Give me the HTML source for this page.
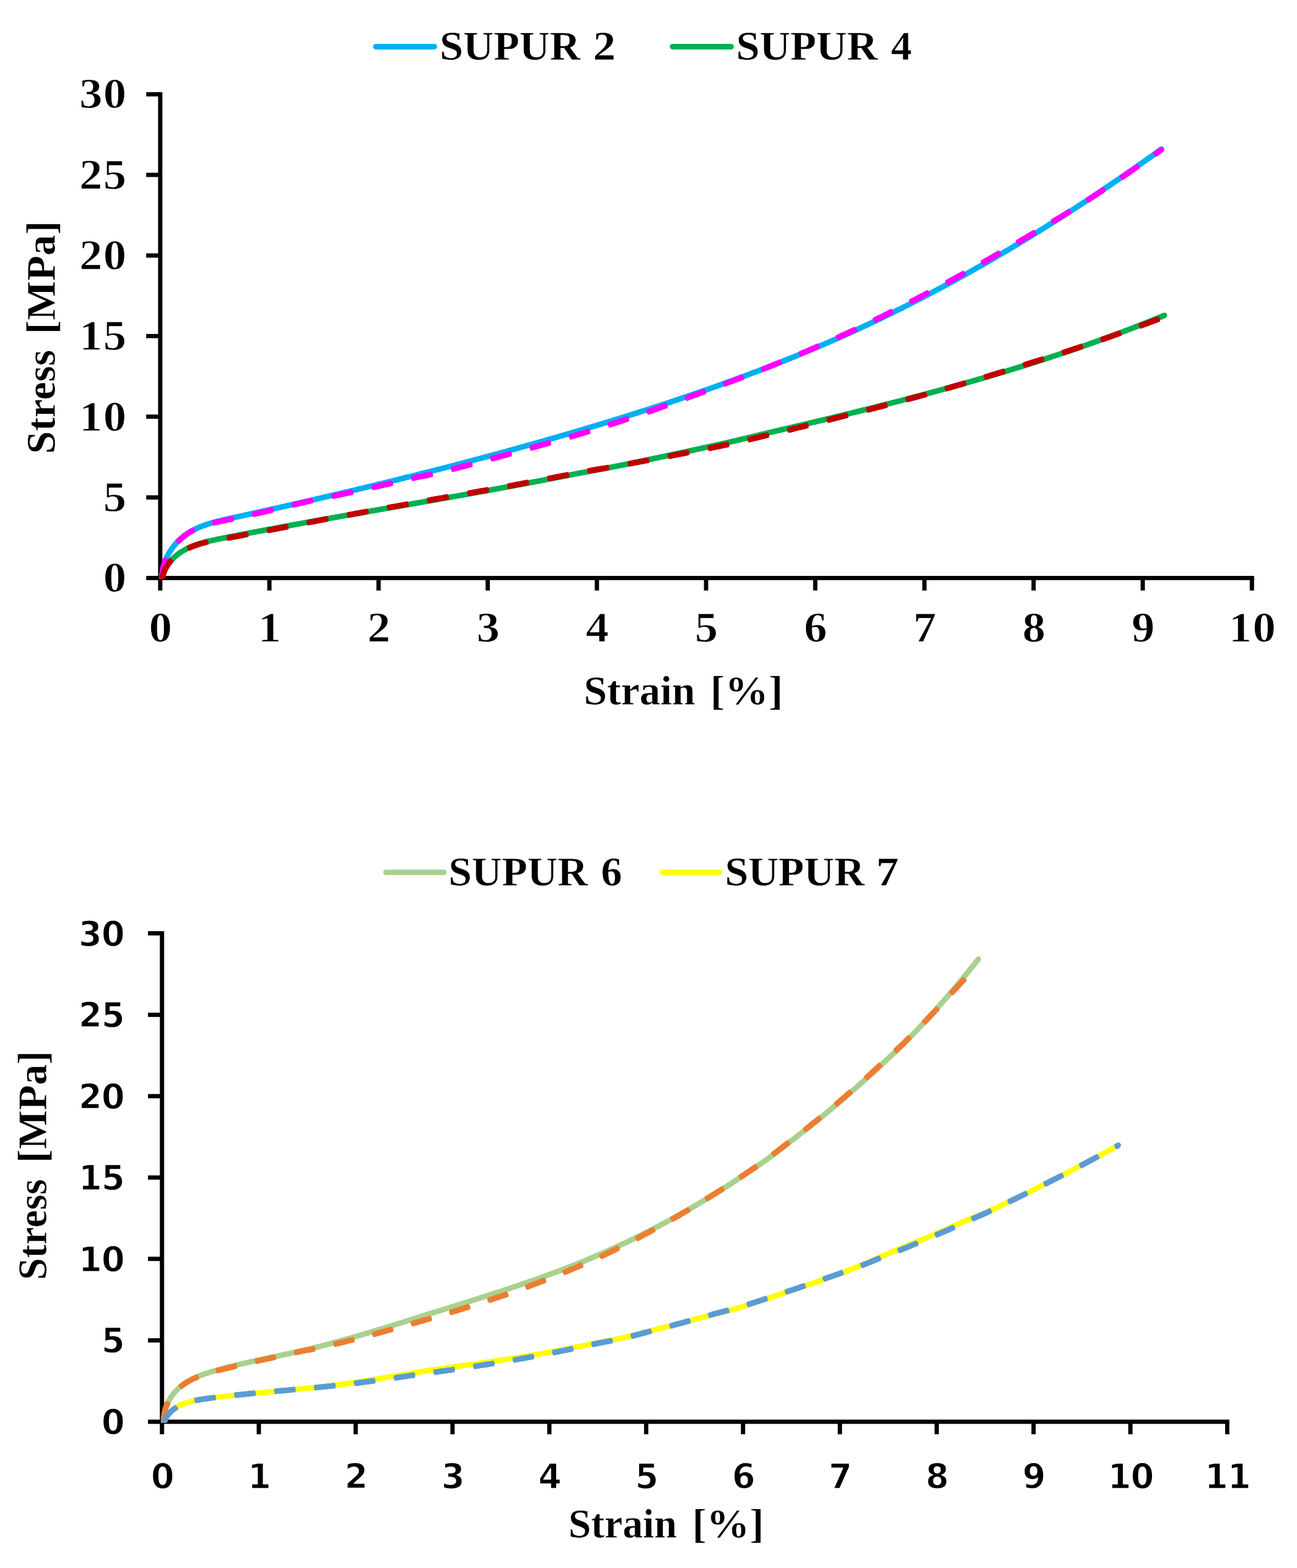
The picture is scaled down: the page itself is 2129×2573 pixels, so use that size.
<!DOCTYPE html>
<html lang="en">
<head>
<meta charset="utf-8">
<title>Stress–strain curves: SUPUR 2, 4, 6 and 7</title>
<style>
html,body{margin:0;padding:0;background:#fff;}
body{width:2129px;height:2573px;overflow:hidden;}
svg{display:block;}
text{fill:#000;}
</style>
</head>
<body>
<svg xmlns="http://www.w3.org/2000/svg" width="2129" height="2573" viewBox="0 0 2129 2573" role="img" aria-label="Stress versus strain charts">
<rect width="2129" height="2573" fill="#fff"/>
<g id="chart-top">
<path d="M617,76.6 H713" stroke="#00B0F0" stroke-width="9.2" stroke-linecap="round"/>
<text transform="translate(0,97.80)" font-family="'Liberation Serif','DejaVu Serif',serif" font-weight="bold" font-size="68" stroke="#fff" stroke-width="0.5" stroke-linejoin="round"><tspan x="721.81" textLength="230.83" lengthAdjust="spacingAndGlyphs">SUPUR</tspan> <tspan x="973.46" textLength="37.09" lengthAdjust="spacingAndGlyphs">2</tspan></text>
<path d="M1104,76.6 H1200" stroke="#00B050" stroke-width="9.2" stroke-linecap="round"/>
<text transform="translate(0,97.80)" font-family="'Liberation Serif','DejaVu Serif',serif" font-weight="bold" font-size="68" stroke="#fff" stroke-width="0.5" stroke-linejoin="round"><tspan x="1208.21" textLength="232.28" lengthAdjust="spacingAndGlyphs">SUPUR</tspan> <tspan x="1462.61" textLength="34.22" lengthAdjust="spacingAndGlyphs">4</tspan></text>
<path d="M263.00,151.30 V968.90 M240.00,948.40 H2058.50" stroke="#000" stroke-width="7.0" fill="none"/>
<path d="M442.20,948.40 V968.90 M621.40,948.40 V968.90 M800.60,948.40 V968.90 M979.80,948.40 V968.90 M1159.00,948.40 V968.90 M1338.20,948.40 V968.90 M1517.40,948.40 V968.90 M1696.60,948.40 V968.90 M1875.80,948.40 V968.90 M2055.00,948.40 V968.90 M240.00,816.13 H263.00 M240.00,683.87 H263.00 M240.00,551.60 H263.00 M240.00,419.33 H263.00 M240.00,287.07 H263.00 M240.00,154.80 H263.00" stroke="#000" stroke-width="7.0" fill="none"/>
<clipPath id="clipT"><rect x="0" y="0" width="2129" height="950.0"/></clipPath>
<g clip-path="url(#clipT)">
<path d="M265.9,952.5 L265.8,950.4 L265.9,948.3 L265.9,946.2 L266.0,944.1 L266.2,942.1 L266.4,940.0 L266.7,938.0 L267.0,936.0 L267.3,934.0 L267.7,932.0 L268.2,930.1 L268.7,928.1 L269.3,926.2 L269.9,924.3 L270.5,922.4 L271.2,920.5 L271.9,918.7 L272.7,916.9 L273.5,915.1 L274.4,913.3 L275.2,911.5 L276.2,909.8 L277.1,908.0 L278.2,906.3 L279.2,904.7 L280.3,903.0 L281.4,901.4 L282.5,899.8 L283.7,898.2 L284.9,896.6 L286.2,895.1 L287.5,893.6 L288.8,892.1 L290.1,890.6 L291.5,889.2 L292.9,887.8 L294.3,886.4 L295.8,885.1 L297.2,883.8 L298.7,882.5 L300.3,881.2 L301.8,880.0 L303.4,878.8 L305.0,877.6 L306.6,876.4 L308.2,875.3 L309.9,874.3 L311.5,873.2 L313.2,872.2 L314.9,871.2 L316.6,870.3 L318.4,869.3 L320.1,868.4 L321.9,867.6 L323.7,866.7 L325.5,865.9 L327.3,865.1 L329.1,864.4 L331.0,863.7 L332.8,862.9 L334.7,862.2 L336.5,861.6 L338.4,860.9 L340.3,860.3 L342.2,859.7 L344.1,859.1 L346.0,858.5 L348.0,858.0 L349.9,857.4 L351.8,856.9 L353.8,856.3 L355.7,855.8 L357.7,855.3 L359.6,854.9 L361.6,854.4 L363.6,853.9 L365.6,853.4 L367.5,853.0 L369.5,852.5 L371.5,852.1 L373.5,851.7 L375.4,851.2 L377.4,850.8 L379.4,850.3 L381.4,849.9 L383.4,849.5 L385.3,849.0 L387.3,848.6 L389.3,848.2 L391.3,847.7 L393.2,847.3 L395.2,846.9 L397.2,846.4 L399.1,846.0 L401.1,845.6 L403.1,845.1 L405.1,844.7 L407.0,844.3 L409.0,843.8 L410.9,843.4 L412.9,843.0 L414.9,842.5 L416.8,842.1 L418.8,841.7 L420.8,841.2 L422.7,840.8 L424.7,840.3 L426.6,839.9 L428.6,839.5 L430.5,839.0 L432.5,838.6 L434.5,838.2 L436.4,837.7 L438.4,837.3 L440.3,836.9 L442.3,836.4 L444.2,836.0 L446.2,835.5 L448.1,835.1 L450.1,834.7 L452.0,834.2 L454.0,833.8 L455.9,833.4 L457.9,832.9 L459.8,832.5 L461.8,832.0 L463.7,831.6 L465.7,831.2 L467.6,830.7 L469.6,830.3 L471.5,829.8 L473.4,829.4 L475.4,829.0 L477.3,828.5 L479.3,828.1 L481.2,827.6 L483.2,827.2 L485.1,826.7 L487.1,826.3 L489.0,825.9 L490.9,825.4 L492.9,825.0 L494.8,824.5 L496.8,824.1 L498.7,823.6 L500.7,823.2 L502.6,822.7 L504.6,822.3 L506.5,821.9 L508.4,821.4 L510.4,821.0 L512.3,820.5 L514.3,820.1 L516.2,819.6 L518.2,819.2 L520.1,818.7 L522.0,818.3 L524.0,817.8 L525.9,817.4 L527.9,816.9 L529.8,816.5 L531.8,816.0 L533.7,815.6 L535.7,815.1 L537.6,814.7 L539.5,814.2 L541.5,813.8 L543.4,813.3 L545.4,812.8 L547.3,812.4 L549.3,811.9 L551.2,811.5 L553.1,811.0 L555.1,810.6 L557.0,810.1 L559.0,809.7 L560.9,809.2 L562.9,808.7 L564.8,808.3 L566.7,807.8 L568.7,807.4 L570.6,806.9 L572.6,806.4 L574.5,806.0 L576.5,805.5 L578.4,805.1 L580.3,804.6 L582.3,804.1 L584.2,803.7 L586.2,803.2 L588.1,802.7 L590.1,802.3 L592.0,801.8 L593.9,801.3 L595.9,800.9 L597.8,800.4 L599.8,799.9 L601.7,799.5 L603.7,799.0 L605.6,798.5 L607.5,798.1 L609.5,797.6 L611.4,797.1 L613.4,796.7 L615.3,796.2 L617.3,795.7 L619.2,795.3 L621.1,794.8 L623.1,794.3 L625.0,793.8 L627.0,793.4 L628.9,792.9 L630.8,792.4 L632.8,791.9 L634.7,791.5 L636.7,791.0 L638.6,790.5 L640.6,790.0 L642.5,789.6 L644.4,789.1 L646.4,788.6 L648.3,788.1 L650.3,787.7 L652.2,787.2 L654.1,786.7 L656.1,786.2 L658.0,785.7 L660.0,785.3 L661.9,784.8 L663.8,784.3 L665.8,783.8 L667.7,783.3 L669.7,782.8 L671.6,782.4 L673.5,781.9 L675.5,781.4 L677.4,780.9 L679.4,780.4 L681.3,779.9 L683.2,779.5 L685.2,779.0 L687.1,778.5 L689.1,778.0 L691.0,777.5 L692.9,777.0 L694.9,776.5 L696.8,776.0 L698.8,775.5 L700.7,775.0 L702.6,774.6 L704.6,774.1 L706.5,773.6 L708.5,773.1 L710.4,772.6 L712.3,772.1 L714.3,771.6 L716.2,771.1 L718.1,770.6 L720.1,770.1 L722.0,769.6 L724.0,769.1 L725.9,768.6 L727.8,768.1 L729.8,767.6 L731.7,767.1 L733.6,766.6 L735.6,766.1 L737.5,765.6 L739.5,765.1 L741.4,764.6 L743.3,764.1 L745.3,763.6 L747.2,763.1 L749.1,762.6 L751.1,762.1 L753.0,761.6 L754.9,761.1 L756.9,760.6 L758.8,760.1 L760.8,759.6 L762.7,759.0 L764.6,758.5 L766.6,758.0 L768.5,757.5 L770.4,757.0 L772.4,756.5 L774.3,756.0 L776.2,755.5 L778.2,755.0 L780.1,754.4 L782.0,753.9 L784.0,753.4 L785.9,752.9 L787.8,752.4 L789.8,751.9 L791.7,751.4 L793.6,750.8 L795.6,750.3 L797.5,749.8 L799.4,749.3 L801.4,748.8 L803.3,748.2 L805.2,747.7 L807.2,747.2 L809.1,746.7 L811.0,746.1 L813.0,745.6 L814.9,745.1 L816.8,744.6 L818.8,744.1 L820.7,743.5 L822.6,743.0 L824.6,742.5 L826.5,741.9 L828.4,741.4 L830.4,740.9 L832.3,740.4 L834.2,739.8 L836.1,739.3 L838.1,738.8 L840.0,738.2 L841.9,737.7 L843.9,737.2 L845.8,736.6 L847.7,736.1 L849.7,735.6 L851.6,735.0 L853.5,734.5 L855.4,734.0 L857.4,733.4 L859.3,732.9 L861.2,732.3 L863.2,731.8 L865.1,731.3 L867.0,730.7 L868.9,730.2 L870.9,729.6 L872.8,729.1 L874.7,728.6 L876.6,728.0 L878.6,727.5 L880.5,726.9 L882.4,726.4 L884.4,725.8 L886.3,725.3 L888.2,724.7 L890.1,724.2 L892.1,723.6 L894.0,723.1 L895.9,722.5 L897.8,722.0 L899.8,721.4 L901.7,720.9 L903.6,720.3 L905.5,719.8 L907.5,719.2 L909.4,718.7 L911.3,718.1 L913.2,717.6 L915.2,717.0 L917.1,716.5 L919.0,715.9 L920.9,715.3 L922.8,714.8 L924.8,714.2 L926.7,713.7 L928.6,713.1 L930.5,712.5 L932.5,712.0 L934.4,711.4 L936.3,710.9 L938.2,710.3 L940.1,709.7 L942.1,709.2 L944.0,708.6 L945.9,708.0 L947.8,707.5 L949.7,706.9 L951.7,706.3 L953.6,705.7 L955.5,705.2 L957.4,704.6 L959.3,704.0 L961.3,703.5 L963.2,702.9 L965.1,702.3 L967.0,701.7 L968.9,701.2 L970.9,700.6 L972.8,700.0 L974.7,699.4 L976.6,698.9 L978.5,698.3 L980.4,697.7 L982.4,697.1 L984.3,696.5 L986.2,696.0 L988.1,695.4 L990.0,694.8 L991.9,694.2 L993.9,693.6 L995.8,693.0 L997.7,692.5 L999.6,691.9 L1001.5,691.3 L1003.4,690.7 L1005.3,690.1 L1007.3,689.5 L1009.2,688.9 L1011.1,688.3 L1013.0,687.7 L1014.9,687.1 L1016.8,686.6 L1018.7,686.0 L1020.7,685.4 L1022.6,684.8 L1024.5,684.2 L1026.4,683.6 L1028.3,683.0 L1030.2,682.4 L1032.1,681.8 L1034.0,681.2 L1035.9,680.6 L1037.9,680.0 L1039.8,679.4 L1041.7,678.8 L1043.6,678.2 L1045.5,677.6 L1047.4,677.0 L1049.3,676.4 L1051.2,675.7 L1053.1,675.1 L1055.0,674.5 L1056.9,673.9 L1058.8,673.3 L1060.7,672.7 L1062.7,672.1 L1064.6,671.5 L1066.5,670.9 L1068.4,670.2 L1070.3,669.6 L1072.2,669.0 L1074.1,668.4 L1076.0,667.8 L1077.9,667.2 L1079.8,666.5 L1081.7,665.9 L1083.6,665.3 L1085.5,664.7 L1087.4,664.0 L1089.3,663.4 L1091.2,662.8 L1093.1,662.2 L1095.0,661.5 L1096.9,660.9 L1098.8,660.3 L1100.7,659.7 L1102.6,659.0 L1104.5,658.4 L1106.4,657.8 L1108.3,657.1 L1110.2,656.5 L1112.1,655.9 L1114.0,655.2 L1115.9,654.6 L1117.8,653.9 L1119.7,653.3 L1121.6,652.7 L1123.5,652.0 L1125.4,651.4 L1127.3,650.7 L1129.2,650.1 L1131.1,649.4 L1133.0,648.8 L1134.9,648.2 L1136.8,647.5 L1138.7,646.9 L1140.5,646.2 L1142.4,645.6 L1144.3,644.9 L1146.2,644.3 L1148.1,643.6 L1150.0,642.9 L1151.9,642.3 L1153.8,641.6 L1155.7,641.0 L1157.6,640.3 L1159.5,639.7 L1161.3,639.0 L1163.2,638.3 L1165.1,637.7 L1167.0,637.0 L1168.9,636.3 L1170.8,635.7 L1172.7,635.0 L1174.5,634.3 L1176.4,633.7 L1178.3,633.0 L1180.2,632.3 L1182.1,631.6 L1184.0,631.0 L1185.9,630.3 L1187.7,629.6 L1189.6,628.9 L1191.5,628.3 L1193.4,627.6 L1195.3,626.9 L1197.1,626.2 L1199.0,625.5 L1200.9,624.9 L1202.8,624.2 L1204.7,623.5 L1206.5,622.8 L1208.4,622.1 L1210.3,621.4 L1212.2,620.7 L1214.0,620.0 L1215.9,619.3 L1217.8,618.6 L1219.7,618.0 L1221.5,617.3 L1223.4,616.6 L1225.3,615.9 L1227.2,615.2 L1229.0,614.5 L1230.9,613.8 L1232.8,613.0 L1234.7,612.3 L1236.5,611.6 L1238.4,610.9 L1240.3,610.2 L1242.1,609.5 L1244.0,608.8 L1245.9,608.1 L1247.7,607.4 L1249.6,606.7 L1251.5,605.9 L1253.3,605.2 L1255.2,604.5 L1257.1,603.8 L1258.9,603.1 L1260.8,602.3 L1262.7,601.6 L1264.5,600.9 L1266.4,600.2 L1268.3,599.4 L1270.1,598.7 L1272.0,598.0 L1273.8,597.3 L1275.7,596.5 L1277.6,595.8 L1279.4,595.1 L1281.3,594.3 L1283.1,593.6 L1285.0,592.8 L1286.8,592.1 L1288.7,591.4 L1290.6,590.6 L1292.4,589.9 L1294.3,589.1 L1296.1,588.4 L1298.0,587.6 L1299.8,586.9 L1301.7,586.1 L1303.5,585.4 L1305.4,584.6 L1307.2,583.9 L1309.1,583.1 L1310.9,582.4 L1312.8,581.6 L1314.6,580.8 L1316.5,580.1 L1318.3,579.3 L1320.2,578.6 L1322.0,577.8 L1323.9,577.0 L1325.7,576.3 L1327.6,575.5 L1329.4,574.7 L1331.2,573.9 L1333.1,573.2 L1334.9,572.4 L1336.8,571.6 L1338.6,570.8 L1340.4,570.1 L1342.3,569.3 L1344.1,568.5 L1346.0,567.7 L1347.8,566.9 L1349.6,566.1 L1351.5,565.4 L1353.3,564.6 L1355.1,563.8 L1357.0,563.0 L1358.8,562.2 L1360.6,561.4 L1362.5,560.6 L1364.3,559.8 L1366.1,559.0 L1368.0,558.2 L1369.8,557.4 L1371.6,556.6 L1373.5,555.8 L1375.3,555.0 L1377.1,554.2 L1378.9,553.4 L1380.8,552.5 L1382.6,551.7 L1384.4,550.9 L1386.2,550.1 L1388.1,549.3 L1389.9,548.5 L1391.7,547.6 L1393.5,546.8 L1395.4,546.0 L1397.2,545.2 L1399.0,544.3 L1400.8,543.5 L1402.6,542.7 L1404.5,541.9 L1406.3,541.0 L1408.1,540.2 L1409.9,539.3 L1411.7,538.5 L1413.5,537.7 L1415.3,536.8 L1417.2,536.0 L1419.0,535.1 L1420.8,534.3 L1422.6,533.5 L1424.4,532.6 L1426.2,531.8 L1428.0,530.9 L1429.8,530.0 L1431.6,529.2 L1433.4,528.3 L1435.2,527.5 L1437.1,526.6 L1438.9,525.8 L1440.7,524.9 L1442.5,524.0 L1444.3,523.2 L1446.1,522.3 L1447.9,521.4 L1449.7,520.6 L1451.5,519.7 L1453.3,518.8 L1455.1,518.0 L1456.9,517.1 L1458.7,516.2 L1460.5,515.3 L1462.3,514.4 L1464.0,513.6 L1465.8,512.7 L1467.6,511.8 L1469.4,510.9 L1471.2,510.0 L1473.0,509.1 L1474.8,508.2 L1476.6,507.4 L1478.4,506.5 L1480.2,505.6 L1482.0,504.7 L1483.8,503.8 L1485.5,502.9 L1487.3,502.0 L1489.1,501.1 L1490.9,500.2 L1492.7,499.3 L1494.5,498.4 L1496.2,497.5 L1498.0,496.6 L1499.8,495.6 L1501.6,494.7 L1503.4,493.8 L1505.2,492.9 L1506.9,492.0 L1508.7,491.1 L1510.5,490.2 L1512.3,489.2 L1514.0,488.3 L1515.8,487.4 L1517.6,486.5 L1519.4,485.5 L1521.1,484.6 L1522.9,483.7 L1524.7,482.8 L1526.5,481.8 L1528.2,480.9 L1530.0,480.0 L1531.8,479.0 L1533.5,478.1 L1535.3,477.2 L1537.1,476.2 L1538.8,475.3 L1540.6,474.3 L1542.4,473.4 L1544.1,472.5 L1545.9,471.5 L1547.7,470.6 L1549.4,469.6 L1551.2,468.7 L1552.9,467.7 L1554.7,466.8 L1556.5,465.8 L1558.2,464.9 L1560.0,463.9 L1561.7,463.0 L1563.5,462.0 L1565.3,461.0 L1567.0,460.1 L1568.8,459.1 L1570.5,458.2 L1572.3,457.2 L1574.0,456.2 L1575.8,455.3 L1577.5,454.3 L1579.3,453.3 L1581.0,452.4 L1582.8,451.4 L1584.5,450.4 L1586.3,449.4 L1588.0,448.5 L1589.8,447.5 L1591.5,446.5 L1593.3,445.5 L1595.0,444.5 L1596.8,443.6 L1598.5,442.6 L1600.3,441.6 L1602.0,440.6 L1603.7,439.6 L1605.5,438.6 L1607.2,437.6 L1609.0,436.7 L1610.7,435.7 L1612.4,434.7 L1614.2,433.7 L1615.9,432.7 L1617.6,431.7 L1619.4,430.7 L1621.1,429.7 L1622.9,428.7 L1624.6,427.7 L1626.3,426.7 L1628.1,425.7 L1629.8,424.7 L1631.5,423.7 L1633.2,422.7 L1635.0,421.7 L1636.7,420.6 L1638.4,419.6 L1640.2,418.6 L1641.9,417.6 L1643.6,416.6 L1645.3,415.6 L1647.1,414.6 L1648.8,413.5 L1650.5,412.5 L1652.2,411.5 L1654.0,410.5 L1655.7,409.5 L1657.4,408.4 L1659.1,407.4 L1660.9,406.4 L1662.6,405.4 L1664.3,404.3 L1666.0,403.3 L1667.7,402.3 L1669.4,401.2 L1671.2,400.2 L1672.9,399.2 L1674.6,398.1 L1676.3,397.1 L1678.0,396.1 L1679.7,395.0 L1681.4,394.0 L1683.1,393.0 L1684.9,391.9 L1686.6,390.9 L1688.3,389.8 L1690.0,388.8 L1691.7,387.7 L1693.4,386.7 L1695.1,385.6 L1696.8,384.6 L1698.5,383.5 L1700.2,382.5 L1701.9,381.4 L1703.6,380.4 L1705.3,379.3 L1707.0,378.3 L1708.7,377.2 L1710.4,376.2 L1712.1,375.1 L1713.8,374.0 L1715.5,373.0 L1717.2,371.9 L1718.9,370.9 L1720.6,369.8 L1722.3,368.7 L1724.0,367.7 L1725.7,366.6 L1727.4,365.5 L1729.1,364.5 L1730.8,363.4 L1732.5,362.3 L1734.2,361.3 L1735.9,360.2 L1737.6,359.1 L1739.3,358.0 L1740.9,357.0 L1742.6,355.9 L1744.3,354.8 L1746.0,353.7 L1747.7,352.6 L1749.4,351.6 L1751.1,350.5 L1752.7,349.4 L1754.4,348.3 L1756.1,347.2 L1757.8,346.1 L1759.5,345.1 L1761.2,344.0 L1762.8,342.9 L1764.5,341.8 L1766.2,340.7 L1767.9,339.6 L1769.6,338.5 L1771.2,337.4 L1772.9,336.3 L1774.6,335.2 L1776.3,334.1 L1777.9,333.0 L1779.6,331.9 L1781.3,330.8 L1782.9,329.7 L1784.6,328.6 L1786.3,327.5 L1788.0,326.4 L1789.6,325.3 L1791.3,324.2 L1793.0,323.1 L1794.6,322.0 L1796.3,320.9 L1798.0,319.8 L1799.6,318.7 L1801.3,317.6 L1803.0,316.5 L1804.6,315.4 L1806.3,314.2 L1808.0,313.1 L1809.6,312.0 L1811.3,310.9 L1812.9,309.8 L1814.6,308.7 L1816.3,307.6 L1817.9,306.4 L1819.6,305.3 L1821.2,304.2 L1822.9,303.1 L1824.5,302.0 L1826.2,300.8 L1827.9,299.7 L1829.5,298.6 L1831.2,297.5 L1832.8,296.3 L1834.5,295.2 L1836.1,294.1 L1837.8,292.9 L1839.4,291.8 L1841.1,290.7 L1842.7,289.6 L1844.4,288.4 L1846.0,287.3 L1847.7,286.2 L1849.3,285.0 L1850.9,283.9 L1852.6,282.7 L1854.2,281.6 L1855.9,280.5 L1857.5,279.3 L1859.2,278.2 L1860.8,277.0 L1862.4,275.9 L1864.1,274.8 L1865.7,273.6 L1867.4,272.5 L1869.0,271.3 L1870.6,270.2 L1872.3,269.0 L1873.9,267.9 L1875.5,266.7 L1877.2,265.6 L1878.8,264.5 L1880.5,263.3 L1882.1,262.1 L1883.7,261.0 L1885.3,259.8 L1887.0,258.7 L1888.6,257.5 L1890.2,256.4 L1891.9,255.2 L1893.5,254.1 L1895.1,252.9 L1896.8,251.8 L1898.4,250.6 L1900.0,249.4 L1901.6,248.3 L1903.3,247.1 L1904.9,246.0 L1906.5,244.8" stroke="#00B0F0" stroke-width="9.2" fill="none" stroke-linecap="butt" stroke-linejoin="round"/><circle cx="1906.5" cy="244.8" r="4.60" fill="#00B0F0"/>
<path d="M265.6,952.5 L265.9,950.3 L266.3,948.2 L266.8,946.1 L267.4,944.1 L268.0,942.1 L268.6,940.1 L269.3,938.2 L270.1,936.3 L271.0,934.5 L271.9,932.7 L272.8,930.9 L273.8,929.2 L274.9,927.6 L276.0,925.9 L277.1,924.3 L278.3,922.8 L279.5,921.3 L280.8,919.8 L282.1,918.3 L283.5,916.9 L284.9,915.6 L286.3,914.2 L287.8,913.0 L289.3,911.7 L290.8,910.5 L292.3,909.3 L293.9,908.1 L295.5,907.0 L297.2,905.9 L298.8,904.9 L300.5,903.9 L302.2,902.9 L303.9,901.9 L305.7,901.0 L307.4,900.1 L309.2,899.3 L311.0,898.4 L312.7,897.6 L314.5,896.9 L316.4,896.1 L318.2,895.4 L320.0,894.7 L321.9,894.1 L323.7,893.4 L325.6,892.8 L327.5,892.2 L329.4,891.6 L331.3,891.1 L333.2,890.5 L335.1,890.0 L337.0,889.5 L339.0,889.0 L340.9,888.5 L342.9,888.0 L344.8,887.6 L346.8,887.1 L348.7,886.7 L350.7,886.3 L352.6,885.9 L354.6,885.4 L356.6,885.0 L358.5,884.6 L360.5,884.2 L362.5,883.8 L364.5,883.5 L366.4,883.1 L368.4,882.7 L370.4,882.3 L372.4,881.9 L374.3,881.5 L376.3,881.1 L378.3,880.7 L380.3,880.3 L382.2,879.9 L384.2,879.6 L386.2,879.2 L388.2,878.8 L390.1,878.4 L392.1,878.0 L394.1,877.6 L396.1,877.3 L398.0,876.9 L400.0,876.5 L402.0,876.1 L403.9,875.7 L405.9,875.4 L407.9,875.0 L409.9,874.6 L411.8,874.2 L413.8,873.8 L415.8,873.5 L417.8,873.1 L419.7,872.7 L421.7,872.3 L423.7,872.0 L425.7,871.6 L427.6,871.2 L429.6,870.9 L431.6,870.5 L433.5,870.1 L435.5,869.7 L437.5,869.4 L439.5,869.0 L441.4,868.6 L443.4,868.3 L445.4,867.9 L447.4,867.5 L449.3,867.2 L451.3,866.8 L453.3,866.4 L455.2,866.1 L457.2,865.7 L459.2,865.3 L461.2,865.0 L463.1,864.6 L465.1,864.2 L467.1,863.9 L469.1,863.5 L471.0,863.1 L473.0,862.8 L475.0,862.4 L476.9,862.1 L478.9,861.7 L480.9,861.3 L482.9,861.0 L484.8,860.6 L486.8,860.3 L488.8,859.9 L490.7,859.5 L492.7,859.2 L494.7,858.8 L496.7,858.5 L498.6,858.1 L500.6,857.8 L502.6,857.4 L504.5,857.0 L506.5,856.7 L508.5,856.3 L510.5,856.0 L512.4,855.6 L514.4,855.3 L516.4,854.9 L518.3,854.6 L520.3,854.2 L522.3,853.9 L524.3,853.5 L526.2,853.2 L528.2,852.8 L530.2,852.5 L532.1,852.1 L534.1,851.8 L536.1,851.4 L538.1,851.1 L540.0,850.7 L542.0,850.4 L544.0,850.0 L545.9,849.7 L547.9,849.3 L549.9,849.0 L551.9,848.6 L553.8,848.3 L555.8,847.9 L557.8,847.6 L559.7,847.2 L561.7,846.9 L563.7,846.5 L565.6,846.2 L567.6,845.8 L569.6,845.5 L571.6,845.1 L573.5,844.8 L575.5,844.4 L577.5,844.1 L579.4,843.7 L581.4,843.4 L583.4,843.1 L585.3,842.7 L587.3,842.4 L589.3,842.0 L591.3,841.7 L593.2,841.3 L595.2,841.0 L597.2,840.6 L599.1,840.3 L601.1,840.0 L603.1,839.6 L605.0,839.3 L607.0,838.9 L609.0,838.6 L611.0,838.2 L612.9,837.9 L614.9,837.6 L616.9,837.2 L618.8,836.9 L620.8,836.5 L622.8,836.2 L624.7,835.8 L626.7,835.5 L628.7,835.1 L630.6,834.8 L632.6,834.5 L634.6,834.1 L636.6,833.8 L638.5,833.4 L640.5,833.1 L642.5,832.7 L644.4,832.4 L646.4,832.1 L648.4,831.7 L650.3,831.4 L652.3,831.0 L654.3,830.7 L656.2,830.4 L658.2,830.0 L660.2,829.7 L662.1,829.3 L664.1,829.0 L666.1,828.6 L668.0,828.3 L670.0,828.0 L672.0,827.6 L673.9,827.3 L675.9,826.9 L677.9,826.6 L679.9,826.2 L681.8,825.9 L683.8,825.6 L685.8,825.2 L687.7,824.9 L689.7,824.5 L691.7,824.2 L693.6,823.8 L695.6,823.5 L697.6,823.1 L699.5,822.8 L701.5,822.5 L703.5,822.1 L705.4,821.8 L707.4,821.4 L709.4,821.1 L711.3,820.7 L713.3,820.4 L715.3,820.0 L717.2,819.7 L719.2,819.4 L721.2,819.0 L723.1,818.7 L725.1,818.3 L727.1,818.0 L729.0,817.6 L731.0,817.3 L733.0,816.9 L734.9,816.6 L736.9,816.2 L738.9,815.9 L740.8,815.5 L742.8,815.2 L744.8,814.8 L746.7,814.5 L748.7,814.2 L750.7,813.8 L752.6,813.5 L754.6,813.1 L756.6,812.8 L758.5,812.4 L760.5,812.1 L762.5,811.7 L764.4,811.4 L766.4,811.0 L768.4,810.7 L770.3,810.3 L772.3,810.0 L774.3,809.6 L776.2,809.3 L778.2,808.9 L780.2,808.5 L782.1,808.2 L784.1,807.8 L786.1,807.5 L788.0,807.1 L790.0,806.8 L792.0,806.4 L793.9,806.1 L795.9,805.7 L797.9,805.4 L799.8,805.0 L801.8,804.6 L803.7,804.3 L805.7,803.9 L807.7,803.6 L809.6,803.2 L811.6,802.9 L813.6,802.5 L815.5,802.1 L817.5,801.8 L819.5,801.4 L821.4,801.1 L823.4,800.7 L825.4,800.3 L827.3,800.0 L829.3,799.6 L831.3,799.3 L833.2,798.9 L835.2,798.5 L837.1,798.2 L839.1,797.8 L841.1,797.4 L843.0,797.1 L845.0,796.7 L847.0,796.3 L848.9,796.0 L850.9,795.6 L852.9,795.2 L854.8,794.9 L856.8,794.5 L858.8,794.1 L860.7,793.8 L862.7,793.4 L864.6,793.0 L866.6,792.7 L868.6,792.3 L870.5,791.9 L872.5,791.6 L874.5,791.2 L876.4,790.8 L878.4,790.4 L880.4,790.1 L882.3,789.7 L884.3,789.3 L886.2,789.0 L888.2,788.6 L890.2,788.2 L892.1,787.8 L894.1,787.5 L896.1,787.1 L898.0,786.7 L900.0,786.3 L902.0,786.0 L903.9,785.6 L905.9,785.2 L907.8,784.8 L909.8,784.4 L911.8,784.1 L913.7,783.7 L915.7,783.3 L917.7,782.9 L919.6,782.6 L921.6,782.2 L923.5,781.8 L925.5,781.4 L927.5,781.0 L929.4,780.6 L931.4,780.3 L933.4,779.9 L935.3,779.5 L937.3,779.1 L939.2,778.7 L941.2,778.3 L943.2,778.0 L945.1,777.6 L947.1,777.2 L949.1,776.8 L951.0,776.4 L953.0,776.1 L954.9,775.7 L956.9,775.4 L958.9,775.0 L960.8,774.6 L962.8,774.3 L964.7,773.9 L966.7,773.6 L968.7,773.2 L970.6,772.8 L972.6,772.5 L974.5,772.1 L976.5,771.7 L978.5,771.4 L980.4,771.0 L982.4,770.6 L984.4,770.3 L986.3,769.9 L988.3,769.5 L990.2,769.2 L992.2,768.8 L994.2,768.4 L996.1,768.0 L998.1,767.7 L1000.0,767.3 L1002.0,766.9 L1004.0,766.5 L1005.9,766.2 L1007.9,765.8 L1009.8,765.4 L1011.8,765.0 L1013.8,764.6 L1015.7,764.3 L1017.7,763.9 L1019.6,763.5 L1021.6,763.1 L1023.6,762.7 L1025.5,762.3 L1027.5,761.9 L1029.4,761.5 L1031.4,761.1 L1033.3,760.7 L1035.3,760.3 L1037.3,759.9 L1039.2,759.5 L1041.2,759.1 L1043.1,758.7 L1045.1,758.3 L1047.1,757.9 L1049.0,757.5 L1051.0,757.1 L1052.9,756.7 L1054.9,756.3 L1056.9,755.9 L1058.8,755.5 L1060.8,755.1 L1062.7,754.7 L1064.7,754.2 L1066.6,753.8 L1068.6,753.4 L1070.6,753.0 L1072.5,752.6 L1074.5,752.2 L1076.4,751.8 L1078.4,751.4 L1080.3,751.0 L1082.3,750.5 L1084.3,750.1 L1086.2,749.7 L1088.2,749.3 L1090.1,748.9 L1092.1,748.5 L1094.0,748.1 L1096.0,747.6 L1098.0,747.2 L1099.9,746.8 L1101.9,746.4 L1103.8,746.0 L1105.8,745.6 L1107.7,745.1 L1109.7,744.7 L1111.7,744.3 L1113.6,743.9 L1115.6,743.5 L1117.5,743.0 L1119.5,742.6 L1121.4,742.2 L1123.4,741.8 L1125.4,741.4 L1127.3,740.9 L1129.3,740.5 L1131.2,740.1 L1133.2,739.7 L1135.1,739.3 L1137.1,738.8 L1139.0,738.4 L1141.0,738.0 L1143.0,737.6 L1144.9,737.1 L1146.9,736.7 L1148.8,736.3 L1150.8,735.9 L1152.7,735.4 L1154.7,735.0 L1156.6,734.6 L1158.6,734.1 L1160.5,733.7 L1162.5,733.3 L1164.5,732.9 L1166.4,732.4 L1168.4,732.0 L1170.3,731.6 L1172.3,731.1 L1174.2,730.7 L1176.2,730.3 L1178.1,729.8 L1180.1,729.4 L1182.0,729.0 L1184.0,728.5 L1185.9,728.1 L1187.9,727.7 L1189.9,727.2 L1191.8,726.8 L1193.8,726.3 L1195.7,725.9 L1197.7,725.4 L1199.6,725.0 L1201.6,724.5 L1203.5,724.1 L1205.5,723.6 L1207.4,723.2 L1209.4,722.7 L1211.3,722.3 L1213.3,721.8 L1215.2,721.3 L1217.2,720.9 L1219.1,720.4 L1221.1,719.9 L1223.0,719.5 L1225.0,719.0 L1226.9,718.5 L1228.9,718.1 L1230.8,717.6 L1232.8,717.1 L1234.8,716.6 L1236.7,716.2 L1238.7,715.7 L1240.6,715.2 L1242.6,714.7 L1244.5,714.3 L1246.5,713.8 L1248.4,713.3 L1250.4,712.8 L1252.3,712.4 L1254.3,711.9 L1256.2,711.4 L1258.2,710.9 L1260.1,710.5 L1262.1,710.0 L1264.0,709.6 L1266.0,709.1 L1267.9,708.7 L1269.9,708.2 L1271.8,707.8 L1273.8,707.3 L1275.7,706.9 L1277.7,706.4 L1279.6,706.0 L1281.6,705.5 L1283.5,705.0 L1285.5,704.6 L1287.4,704.1 L1289.4,703.7 L1291.3,703.2 L1293.2,702.8 L1295.2,702.3 L1297.1,701.9 L1299.1,701.4 L1301.0,701.0 L1303.0,700.5 L1304.9,700.0 L1306.9,699.6 L1308.8,699.1 L1310.8,698.7 L1312.7,698.2 L1314.7,697.7 L1316.6,697.3 L1318.6,696.8 L1320.5,696.4 L1322.5,695.9 L1324.4,695.4 L1326.4,695.0 L1328.3,694.5 L1330.3,694.1 L1332.2,693.6 L1334.1,693.1 L1336.1,692.7 L1338.0,692.2 L1340.0,691.7 L1341.9,691.3 L1343.9,690.8 L1345.8,690.3 L1347.8,689.9 L1349.7,689.4 L1351.7,689.0 L1353.6,688.5 L1355.6,688.0 L1357.5,687.5 L1359.4,687.1 L1361.4,686.6 L1363.3,686.1 L1365.3,685.7 L1367.2,685.2 L1369.2,684.7 L1371.1,684.3 L1373.1,683.8 L1375.0,683.3 L1376.9,682.8 L1378.9,682.4 L1380.8,681.9 L1382.8,681.4 L1384.7,681.0 L1386.7,680.5 L1388.6,680.0 L1390.6,679.5 L1392.5,679.1 L1394.4,678.6 L1396.4,678.1 L1398.3,677.6 L1400.3,677.1 L1402.2,676.7 L1404.2,676.2 L1406.1,675.7 L1408.0,675.2 L1410.0,674.7 L1411.9,674.3 L1413.9,673.8 L1415.8,673.3 L1417.7,672.8 L1419.7,672.3 L1421.6,671.9 L1423.6,671.4 L1425.5,670.9 L1427.4,670.4 L1429.4,669.9 L1431.3,669.4 L1433.3,668.9 L1435.2,668.5 L1437.1,668.0 L1439.1,667.5 L1441.0,667.0 L1443.0,666.5 L1444.9,666.0 L1446.8,665.5 L1448.8,665.0 L1450.7,664.5 L1452.7,664.0 L1454.6,663.5 L1456.5,663.0 L1458.5,662.6 L1460.4,662.1 L1462.3,661.6 L1464.3,661.1 L1466.2,660.6 L1468.2,660.1 L1470.1,659.6 L1472.0,659.1 L1474.0,658.6 L1475.9,658.1 L1477.8,657.6 L1479.8,657.1 L1481.7,656.6 L1483.6,656.1 L1485.6,655.6 L1487.5,655.1 L1489.4,654.5 L1491.4,654.0 L1493.3,653.5 L1495.3,653.0 L1497.2,652.5 L1499.1,652.0 L1501.1,651.5 L1503.0,651.0 L1504.9,650.5 L1506.9,650.0 L1508.8,649.5 L1510.7,648.9 L1512.6,648.4 L1514.6,647.9 L1516.5,647.4 L1518.4,646.9 L1520.4,646.4 L1522.3,645.8 L1524.2,645.3 L1526.2,644.8 L1528.1,644.3 L1530.0,643.8 L1532.0,643.2 L1533.9,642.7 L1535.8,642.2 L1537.7,641.7 L1539.7,641.1 L1541.6,640.6 L1543.5,640.1 L1545.5,639.6 L1547.4,639.0 L1549.3,638.5 L1551.2,638.0 L1553.2,637.4 L1555.1,636.9 L1557.0,636.4 L1558.9,635.9 L1560.9,635.3 L1562.8,634.8 L1564.7,634.2 L1566.7,633.7 L1568.6,633.2 L1570.5,632.6 L1572.4,632.1 L1574.4,631.6 L1576.3,631.0 L1578.2,630.5 L1580.1,629.9 L1582.0,629.4 L1584.0,628.8 L1585.9,628.3 L1587.8,627.8 L1589.7,627.2 L1591.7,626.7 L1593.6,626.1 L1595.5,625.6 L1597.4,625.0 L1599.3,624.5 L1601.3,623.9 L1603.2,623.3 L1605.1,622.8 L1607.0,622.2 L1608.9,621.7 L1610.9,621.1 L1612.8,620.6 L1614.7,620.0 L1616.6,619.4 L1618.5,618.9 L1620.5,618.3 L1622.4,617.8 L1624.3,617.2 L1626.2,616.6 L1628.1,616.1 L1630.0,615.5 L1631.9,614.9 L1633.9,614.4 L1635.8,613.8 L1637.7,613.2 L1639.6,612.6 L1641.5,612.1 L1643.4,611.5 L1645.4,610.9 L1647.3,610.3 L1649.2,609.8 L1651.1,609.2 L1653.0,608.6 L1654.9,608.0 L1656.8,607.4 L1658.7,606.9 L1660.6,606.3 L1662.6,605.7 L1664.5,605.1 L1666.4,604.5 L1668.3,603.9 L1670.2,603.3 L1672.1,602.8 L1674.0,602.2 L1675.9,601.6 L1677.8,601.0 L1679.7,600.4 L1681.6,599.8 L1683.6,599.2 L1685.5,598.6 L1687.4,598.0 L1689.3,597.4 L1691.2,596.8 L1693.1,596.2 L1695.0,595.6 L1696.9,595.0 L1698.8,594.4 L1700.7,593.8 L1702.6,593.2 L1704.5,592.6 L1706.4,591.9 L1708.3,591.3 L1710.2,590.7 L1712.1,590.1 L1714.0,589.5 L1715.9,588.9 L1717.8,588.3 L1719.7,587.6 L1721.6,587.0 L1723.5,586.4 L1725.4,585.8 L1727.3,585.2 L1729.2,584.5 L1731.1,583.9 L1733.0,583.3 L1734.9,582.7 L1736.8,582.0 L1738.7,581.4 L1740.6,580.8 L1742.5,580.1 L1744.4,579.5 L1746.3,578.9 L1748.2,578.2 L1750.1,577.6 L1752.0,576.9 L1753.8,576.3 L1755.7,575.7 L1757.6,575.0 L1759.5,574.4 L1761.4,573.7 L1763.3,573.1 L1765.2,572.4 L1767.1,571.8 L1769.0,571.1 L1770.9,570.5 L1772.8,569.8 L1774.6,569.2 L1776.5,568.5 L1778.4,567.9 L1780.3,567.2 L1782.2,566.5 L1784.1,565.9 L1786.0,565.2 L1787.9,564.6 L1789.7,563.9 L1791.6,563.2 L1793.5,562.6 L1795.4,561.9 L1797.3,561.2 L1799.2,560.5 L1801.0,559.9 L1802.9,559.2 L1804.8,558.5 L1806.7,557.8 L1808.6,557.2 L1810.4,556.5 L1812.3,555.8 L1814.2,555.1 L1816.1,554.4 L1818.0,553.8 L1819.8,553.1 L1821.7,552.4 L1823.6,551.7 L1825.5,551.0 L1827.4,550.3 L1829.2,549.6 L1831.1,548.9 L1833.0,548.2 L1834.9,547.5 L1836.7,546.8 L1838.6,546.1 L1840.5,545.4 L1842.3,544.7 L1844.2,544.0 L1846.1,543.3 L1848.0,542.6 L1849.8,541.9 L1851.7,541.2 L1853.6,540.5 L1855.4,539.7 L1857.3,539.0 L1859.2,538.3 L1861.0,537.6 L1862.9,536.9 L1864.8,536.1 L1866.6,535.4 L1868.5,534.7 L1870.4,534.0 L1872.2,533.2 L1874.1,532.5 L1876.0,531.8 L1877.8,531.1 L1879.7,530.3 L1881.6,529.6 L1883.4,528.8 L1885.3,528.1 L1887.1,527.4 L1889.0,526.6 L1890.9,525.9 L1892.7,525.1 L1894.6,524.4 L1896.4,523.6 L1898.3,522.9 L1900.2,522.1 L1902.0,521.4 L1903.9,520.6 L1905.7,519.9 L1907.6,519.1 L1909.4,518.4 L1911.3,517.6" stroke="#00B050" stroke-width="9.2" fill="none" stroke-linecap="butt" stroke-linejoin="round"/><circle cx="1911.3" cy="517.6" r="4.60" fill="#00B050"/>
<path d="M265.9,952.5 L265.8,950.4 L265.9,948.3 L265.9,946.2 L266.0,944.1 L266.2,942.1 L266.4,940.0 L266.7,938.0 L267.0,936.0 L267.3,934.0 L267.7,932.0 L268.2,930.1 L268.7,928.1 L269.3,926.2 L269.9,924.3 L270.5,922.4 L271.2,920.5 L271.9,918.7 L272.7,916.9 L273.5,915.1 L274.4,913.3 L275.2,911.5 L276.2,909.8 L277.1,908.0 L278.2,906.3 L279.2,904.7 L280.3,903.0 L281.4,901.4 L282.5,899.8 L283.7,898.2 L284.9,896.6 L286.2,895.1 L287.5,893.6 L288.8,892.1 L290.1,890.7 L291.5,889.2 L292.9,887.8 L294.3,886.5 L295.8,885.1 L297.2,883.8 L298.7,882.5 L300.3,881.2 L301.8,880.0 L303.4,878.8 L305.0,877.7 L306.6,876.5 L308.2,875.4 L309.9,874.3 L311.5,873.3 L313.2,872.3 L314.9,871.3 L316.6,870.4 L318.4,869.5 L320.1,868.6 L321.9,867.7 L323.7,866.9 L325.5,866.1 L327.3,865.4 L329.1,864.6 L331.0,863.9 L332.8,863.3 L334.7,862.6 L336.5,862.0 L338.4,861.4 L340.3,860.8 L342.2,860.2 L344.1,859.7 L346.0,859.2 L348.0,858.7 L349.9,858.2 L351.8,857.7 L353.8,857.2 L355.7,856.7 L357.7,856.3 L359.6,855.8 L361.6,855.4 L363.6,855.0 L365.6,854.6 L367.5,854.2 L369.5,853.8 L371.5,853.4 L373.5,853.0 L375.4,852.6 L377.4,852.2 L379.4,851.8 L381.4,851.4 L383.4,851.0 L385.3,850.6 L387.3,850.2 L389.3,849.8 L391.3,849.3 L393.2,848.9 L395.2,848.5 L397.2,848.0 L399.1,847.6 L401.1,847.2 L403.1,846.7 L405.1,846.3 L407.0,845.8 L409.0,845.4 L410.9,845.0 L412.9,844.5 L414.9,844.1 L416.8,843.7 L418.8,843.2 L420.8,842.8 L422.7,842.3 L424.7,841.9 L426.6,841.5 L428.6,841.0 L430.5,840.6 L432.5,840.1 L434.5,839.7 L436.4,839.2 L438.4,838.8 L440.3,838.3 L442.3,837.8 L444.2,837.4 L446.2,836.9 L448.1,836.4 L450.1,836.0 L452.0,835.5 L454.0,835.0 L455.9,834.5 L457.9,834.1 L459.8,833.6 L461.8,833.1 L463.7,832.6 L465.7,832.1 L467.6,831.7 L469.6,831.2 L471.5,830.7 L473.4,830.2 L475.4,829.8 L477.3,829.3 L479.3,828.8 L481.2,828.4 L483.2,827.9 L485.1,827.5 L487.1,827.0 L489.0,826.6 L490.9,826.1 L492.9,825.7 L494.8,825.2 L496.8,824.8 L498.7,824.3 L500.7,823.9 L502.6,823.5 L504.6,823.0 L506.5,822.6 L508.4,822.1 L510.4,821.7 L512.3,821.3 L514.3,820.8 L516.2,820.4 L518.2,819.9 L520.1,819.5 L522.0,819.1 L524.0,818.6 L525.9,818.2 L527.9,817.8 L529.8,817.4 L531.8,817.0 L533.7,816.6 L535.7,816.2 L537.6,815.8 L539.5,815.4 L541.5,815.0 L543.4,814.6 L545.4,814.3 L547.3,813.9 L549.3,813.5 L551.2,813.1 L553.1,812.7 L555.1,812.3 L557.0,811.9 L559.0,811.5 L560.9,811.1 L562.9,810.7 L564.8,810.3 L566.7,809.8 L568.7,809.4 L570.6,809.0 L572.6,808.6 L574.5,808.2 L576.5,807.7 L578.4,807.3 L580.3,806.9 L582.3,806.5 L584.2,806.0 L586.2,805.6 L588.1,805.2 L590.1,804.7 L592.0,804.3 L593.9,803.9 L595.9,803.4 L597.8,803.0 L599.8,802.6 L601.7,802.1 L603.7,801.7 L605.6,801.3 L607.5,800.8 L609.5,800.4 L611.4,799.9 L613.4,799.5 L615.3,799.1 L617.3,798.6 L619.2,798.2 L621.1,797.7 L623.1,797.3 L625.0,796.9 L627.0,796.4 L628.9,796.0 L630.8,795.5 L632.8,795.1 L634.7,794.7 L636.7,794.2 L638.6,793.8 L640.6,793.3 L642.5,792.9 L644.4,792.4 L646.4,792.0 L648.3,791.5 L650.3,791.1 L652.2,790.6 L654.1,790.2 L656.1,789.7 L658.0,789.3 L660.0,788.8 L661.9,788.4 L663.8,787.9 L665.8,787.5 L667.7,787.0 L669.7,786.6 L671.6,786.1 L673.5,785.7 L675.5,785.2 L677.4,784.8 L679.4,784.3 L681.3,783.9 L683.2,783.5 L685.2,783.0 L687.1,782.6 L689.1,782.2 L691.0,781.8 L692.9,781.4 L694.9,781.1 L696.8,780.7 L698.8,780.4 L700.7,780.0 L702.6,779.6 L704.6,779.2 L706.5,778.8 L708.5,778.3 L710.4,777.8 L712.3,777.4 L714.3,776.9 L716.2,776.4 L718.1,776.0 L720.1,775.5 L722.0,775.0 L724.0,774.6 L725.9,774.1 L727.8,773.6 L729.8,773.1 L731.7,772.7 L733.6,772.2 L735.6,771.7 L737.5,771.2 L739.5,770.7 L741.4,770.2 L743.3,769.7 L745.3,769.2 L747.2,768.7 L749.1,768.3 L751.1,767.8 L753.0,767.3 L754.9,766.7 L756.9,766.2 L758.8,765.7 L760.8,765.2 L762.7,764.7 L764.6,764.2 L766.6,763.7 L768.5,763.2 L770.4,762.7 L772.4,762.2 L774.3,761.7 L776.2,761.1 L778.2,760.6 L780.1,760.1 L782.0,759.6 L784.0,759.1 L785.9,758.6 L787.8,758.0 L789.8,757.5 L791.7,757.0 L793.6,756.5 L795.6,756.0 L797.5,755.5 L799.4,754.9 L801.4,754.4 L803.3,753.9 L805.2,753.4 L807.2,752.8 L809.1,752.3 L811.0,751.8 L813.0,751.3 L814.9,750.7 L816.8,750.2 L818.8,749.7 L820.7,749.2 L822.6,748.6 L824.6,748.1 L826.5,747.6 L828.4,747.1 L830.4,746.5 L832.3,746.0 L834.2,745.5 L836.1,745.0 L838.1,744.4 L840.0,743.9 L841.9,743.4 L843.9,742.8 L845.8,742.3 L847.7,741.8 L849.7,741.2 L851.6,740.7 L853.5,740.2 L855.4,739.6 L857.4,739.1 L859.3,738.6 L861.2,738.0 L863.2,737.5 L865.1,737.0 L867.0,736.4 L868.9,735.9 L870.9,735.4 L872.8,734.8 L874.7,734.3 L876.6,733.7 L878.6,733.2 L880.5,732.7 L882.4,732.1 L884.4,731.6 L886.3,731.0 L888.2,730.5 L890.1,729.9 L892.1,729.4 L894.0,728.9 L895.9,728.3 L897.8,727.8 L899.8,727.2 L901.7,726.7 L903.6,726.1 L905.5,725.6 L907.5,725.0 L909.4,724.5 L911.3,723.9 L913.2,723.4 L915.2,722.8 L917.1,722.3 L919.0,721.7 L920.9,721.2 L922.8,720.6 L924.8,720.1 L926.7,719.5 L928.6,719.0 L930.5,718.4 L932.5,717.9 L934.4,717.3 L936.3,716.8 L938.2,716.2 L940.1,715.6 L942.1,715.1 L944.0,714.5 L945.9,713.9 L947.8,713.4 L949.7,712.8 L951.7,712.2 L953.6,711.7 L955.5,711.1 L957.4,710.5 L959.3,709.9 L961.3,709.4 L963.2,708.8 L965.1,708.2 L967.0,707.6 L968.9,707.0 L970.9,706.4 L972.8,705.8 L974.7,705.2 L976.6,704.6 L978.5,704.0 L980.4,703.4 L982.4,702.8 L984.3,702.2 L986.2,701.6 L988.1,701.0 L990.0,700.4 L991.9,699.8 L993.9,699.2 L995.8,698.6 L997.7,697.9 L999.6,697.3 L1001.5,696.7 L1003.4,696.1 L1005.3,695.5 L1007.3,694.9 L1009.2,694.2 L1011.1,693.6 L1013.0,693.0 L1014.9,692.4 L1016.8,691.8 L1018.7,691.1 L1020.7,690.5 L1022.6,689.9 L1024.5,689.2 L1026.4,688.6 L1028.3,688.0 L1030.2,687.3 L1032.1,686.7 L1034.0,686.1 L1035.9,685.4 L1037.9,684.8 L1039.8,684.1 L1041.7,683.5 L1043.6,682.8 L1045.5,682.2 L1047.4,681.5 L1049.3,680.9 L1051.2,680.2 L1053.1,679.5 L1055.0,678.9 L1056.9,678.2 L1058.8,677.6 L1060.7,676.9 L1062.7,676.2 L1064.6,675.6 L1066.5,674.9 L1068.4,674.3 L1070.3,673.6 L1072.2,672.9 L1074.1,672.3 L1076.0,671.6 L1077.9,670.9 L1079.8,670.3 L1081.7,669.6 L1083.6,668.9 L1085.5,668.2 L1087.4,667.6 L1089.3,666.9 L1091.2,666.2 L1093.1,665.5 L1095.0,664.8 L1096.9,664.2 L1098.8,663.5 L1100.7,662.8 L1102.6,662.1 L1104.5,661.4 L1106.4,660.7 L1108.3,660.1 L1110.2,659.4 L1112.1,658.7 L1114.0,658.0 L1115.9,657.3 L1117.8,656.6 L1119.7,655.9 L1121.6,655.2 L1123.5,654.5 L1125.4,653.8 L1127.3,653.1 L1129.2,652.4 L1131.1,651.7 L1133.0,651.1 L1134.9,650.4 L1136.8,649.7 L1138.7,649.0 L1140.5,648.3 L1142.4,647.6 L1144.3,646.9 L1146.2,646.2 L1148.1,645.5 L1150.0,644.8 L1151.9,644.1 L1153.8,643.4 L1155.7,642.7 L1157.6,642.0 L1159.5,641.3 L1161.3,640.6 L1163.2,639.9 L1165.1,639.2 L1167.0,638.5 L1168.9,637.8 L1170.8,637.0 L1172.7,636.3 L1174.5,635.6 L1176.4,634.9 L1178.3,634.2 L1180.2,633.5 L1182.1,632.8 L1184.0,632.1 L1185.9,631.4 L1187.7,630.7 L1189.6,629.9 L1191.5,629.2 L1193.4,628.5 L1195.3,627.8 L1197.1,627.1 L1199.0,626.4 L1200.9,625.7 L1202.8,625.0 L1204.7,624.2 L1206.5,623.5 L1208.4,622.8 L1210.3,622.1 L1212.2,621.4 L1214.0,620.7 L1215.9,619.9 L1217.8,619.2 L1219.7,618.5 L1221.5,617.8 L1223.4,617.1 L1225.3,616.3 L1227.2,615.6 L1229.0,614.9 L1230.9,614.2 L1232.8,613.5 L1234.7,612.7 L1236.5,612.0 L1238.4,611.3 L1240.3,610.6 L1242.1,609.8 L1244.0,609.1 L1245.9,608.4 L1247.7,607.6 L1249.6,606.9 L1251.5,606.2 L1253.3,605.4 L1255.2,604.7 L1257.1,603.9 L1258.9,603.2 L1260.8,602.5 L1262.7,601.7 L1264.5,601.0 L1266.4,600.2 L1268.3,599.5 L1270.1,598.7 L1272.0,598.0 L1273.8,597.2 L1275.7,596.5 L1277.6,595.7 L1279.4,595.0 L1281.3,594.2 L1283.1,593.5 L1285.0,592.7 L1286.8,591.9 L1288.7,591.2 L1290.6,590.4 L1292.4,589.6 L1294.3,588.9 L1296.1,588.1 L1298.0,587.3 L1299.8,586.6 L1301.7,585.8 L1303.5,585.0 L1305.4,584.3 L1307.2,583.5 L1309.1,582.7 L1310.9,581.9 L1312.8,581.2 L1314.6,580.4 L1316.5,579.6 L1318.3,578.8 L1320.2,578.0 L1322.0,577.2 L1323.9,576.5 L1325.7,575.7 L1327.6,574.9 L1329.4,574.1 L1331.2,573.3 L1333.1,572.5 L1334.9,571.7 L1336.8,570.9 L1338.6,570.1 L1340.4,569.3 L1342.3,568.5 L1344.1,567.7 L1346.0,566.9 L1347.8,566.1 L1349.6,565.3 L1351.5,564.5 L1353.3,563.7 L1355.1,562.9 L1357.0,562.0 L1358.8,561.2 L1360.6,560.4 L1362.5,559.6 L1364.3,558.8 L1366.1,558.0 L1368.0,557.1 L1369.8,556.3 L1371.6,555.5 L1373.5,554.7 L1375.3,553.8 L1377.1,553.0 L1378.9,552.2 L1380.8,551.3 L1382.6,550.5 L1384.4,549.7 L1386.2,548.8 L1388.1,548.0 L1389.9,547.2 L1391.7,546.3 L1393.5,545.5 L1395.4,544.6 L1397.2,543.8 L1399.0,542.9 L1400.8,542.1 L1402.6,541.2 L1404.5,540.4 L1406.3,539.5 L1408.1,538.7 L1409.9,537.8 L1411.7,536.9 L1413.5,536.1 L1415.3,535.2 L1417.2,534.3 L1419.0,533.5 L1420.8,532.6 L1422.6,531.7 L1424.4,530.9 L1426.2,530.0 L1428.0,529.1 L1429.8,528.2 L1431.6,527.4 L1433.4,526.5 L1435.2,525.6 L1437.1,524.7 L1438.9,523.8 L1440.7,522.9 L1442.5,522.0 L1444.3,521.2 L1446.1,520.3 L1447.9,519.4 L1449.7,518.5 L1451.5,517.6 L1453.3,516.7 L1455.1,515.8 L1456.9,514.9 L1458.7,514.0 L1460.5,513.1 L1462.3,512.1 L1464.0,511.2 L1465.8,510.3 L1467.6,509.4 L1469.4,508.5 L1471.2,507.6 L1473.0,506.7 L1474.8,505.7 L1476.6,504.8 L1478.4,503.9 L1480.2,503.0 L1482.0,502.0 L1483.8,501.1 L1485.5,500.2 L1487.3,499.3 L1489.1,498.3 L1490.9,497.4 L1492.7,496.5 L1494.5,495.6 L1496.2,494.7 L1498.0,493.7 L1499.8,492.8 L1501.6,491.9 L1503.4,491.0 L1505.2,490.1 L1506.9,489.1 L1508.7,488.2 L1510.5,487.3 L1512.3,486.4 L1514.0,485.4 L1515.8,484.5 L1517.6,483.6 L1519.4,482.6 L1521.1,481.7 L1522.9,480.8 L1524.7,479.8 L1526.5,478.9 L1528.2,478.0 L1530.0,477.0 L1531.8,476.1 L1533.5,475.1 L1535.3,474.2 L1537.1,473.2 L1538.8,472.3 L1540.6,471.4 L1542.4,470.4 L1544.1,469.5 L1545.9,468.5 L1547.7,467.6 L1549.4,466.6 L1551.2,465.7 L1552.9,464.7 L1554.7,463.7 L1556.5,462.8 L1558.2,461.8 L1560.0,460.9 L1561.7,459.9 L1563.5,458.9 L1565.3,458.0 L1567.0,457.0 L1568.8,456.0 L1570.5,455.1 L1572.3,454.1 L1574.0,453.1 L1575.8,452.2 L1577.5,451.2 L1579.3,450.2 L1581.0,449.2 L1582.8,448.3 L1584.5,447.3 L1586.3,446.3 L1588.0,445.3 L1589.8,444.3 L1591.5,443.4 L1593.3,442.4 L1595.0,441.4 L1596.8,440.4 L1598.5,439.4 L1600.3,438.4 L1602.0,437.4 L1603.7,436.5 L1605.5,435.5 L1607.2,434.5 L1609.0,433.5 L1610.7,432.5 L1612.4,431.5 L1614.2,430.5 L1615.9,429.5 L1617.6,428.5 L1619.4,427.5 L1621.1,426.5 L1622.9,425.5 L1624.6,424.5 L1626.3,423.5 L1628.1,422.5 L1629.8,421.5 L1631.5,420.5 L1633.2,419.5 L1635.0,418.5 L1636.7,417.5 L1638.4,416.5 L1640.2,415.5 L1641.9,414.5 L1643.6,413.5 L1645.3,412.5 L1647.1,411.5 L1648.8,410.5 L1650.5,409.5 L1652.2,408.5 L1654.0,407.5 L1655.7,406.5 L1657.4,405.5 L1659.1,404.5 L1660.9,403.5 L1662.6,402.5 L1664.3,401.5 L1666.0,400.5 L1667.7,399.5 L1669.4,398.5 L1671.2,397.5 L1672.9,396.5 L1674.6,395.5 L1676.3,394.5 L1678.0,393.5 L1679.7,392.4 L1681.4,391.4 L1683.1,390.4 L1684.9,389.4 L1686.6,388.4 L1688.3,387.4 L1690.0,386.4 L1691.7,385.4 L1693.4,384.4 L1695.1,383.4 L1696.8,382.4 L1698.5,381.4 L1700.2,380.4 L1701.9,379.4 L1703.6,378.4 L1705.3,377.4 L1707.0,376.4 L1708.7,375.4 L1710.4,374.4 L1712.1,373.4 L1713.8,372.4 L1715.5,371.4 L1717.2,370.4 L1718.9,369.3 L1720.6,368.3 L1722.3,367.3 L1724.0,366.3 L1725.7,365.3 L1727.4,364.3 L1729.1,363.3 L1730.8,362.3 L1732.5,361.3 L1734.2,360.2 L1735.9,359.2 L1737.6,358.2 L1739.3,357.2 L1740.9,356.1 L1742.6,355.1 L1744.3,354.1 L1746.0,353.0 L1747.7,352.0 L1749.4,351.0 L1751.1,349.9 L1752.7,348.9 L1754.4,347.8 L1756.1,346.8 L1757.8,345.8 L1759.5,344.7 L1761.2,343.7 L1762.8,342.6 L1764.5,341.6 L1766.2,340.5 L1767.9,339.5 L1769.6,338.4 L1771.2,337.4 L1772.9,336.3 L1774.6,335.3 L1776.3,334.2 L1777.9,333.2 L1779.6,332.1 L1781.3,331.0 L1782.9,330.0 L1784.6,328.9 L1786.3,327.8 L1788.0,326.8 L1789.6,325.7 L1791.3,324.6 L1793.0,323.5 L1794.6,322.4 L1796.3,321.3 L1798.0,320.2 L1799.6,319.1 L1801.3,318.0 L1803.0,316.9 L1804.6,315.8 L1806.3,314.7 L1808.0,313.6 L1809.6,312.5 L1811.3,311.4 L1812.9,310.3 L1814.6,309.2 L1816.3,308.1 L1817.9,307.0 L1819.6,305.9 L1821.2,304.8 L1822.9,303.7 L1824.5,302.6 L1826.2,301.5 L1827.9,300.3 L1829.5,299.2 L1831.2,298.1 L1832.8,297.0 L1834.5,295.9 L1836.1,294.7 L1837.8,293.6 L1839.4,292.5 L1841.1,291.4 L1842.7,290.2 L1844.4,289.1 L1846.0,288.0 L1847.7,286.8 L1849.3,285.7 L1850.9,284.6 L1852.6,283.4 L1854.2,282.3 L1855.9,281.2 L1857.5,280.0 L1859.2,278.9 L1860.8,277.7 L1862.4,276.6 L1864.1,275.5 L1865.7,274.3 L1867.4,273.2 L1869.0,272.0 L1870.6,270.9 L1872.3,269.7 L1873.9,268.6 L1875.5,267.4 L1877.2,266.3 L1878.8,265.2 L1880.5,264.0 L1882.1,262.8 L1883.7,261.7 L1885.3,260.5 L1887.0,259.4 L1888.6,258.2 L1890.2,257.1 L1891.9,255.9 L1893.5,254.8 L1895.1,253.6 L1896.8,252.5 L1898.4,251.3 L1900.0,250.1 L1901.6,249.0 L1903.3,247.8 L1904.9,246.7 L1906.5,245.5" stroke="#FF00FF" stroke-width="9.2" fill="none" stroke-linecap="butt" stroke-dasharray="34.90 32.05" stroke-dashoffset="64.42"/>
<path d="M265.9,952.5 L265.8,950.4 L265.9,948.3 L265.9,946.2 L266.0,944.1 L266.2,942.1 L266.4,940.0 L266.7,938.0 L267.0,936.0 L267.3,934.0 L267.7,932.0 L268.2,930.1 L268.7,928.1 L269.3,926.2 L269.9,924.3 L270.5,922.4 L271.2,920.5 L271.9,918.7 L272.7,916.9 L273.5,915.1 L274.4,913.3 L275.2,911.5 L276.2,909.8 L277.1,908.0 L278.2,906.3 L279.2,904.7 L280.3,903.0 L281.4,901.4 L282.5,899.8 L283.7,898.2 L284.9,896.6 L286.2,895.1 L287.5,893.6 L288.8,892.1 L290.1,890.7 L291.5,889.2 L292.9,887.8 L294.3,886.5 L295.8,885.1 L297.2,883.8 L298.7,882.5 L300.3,881.2 L301.8,880.0 L303.4,878.8 L305.0,877.7 L306.6,876.5 L308.2,875.4 L309.9,874.3 L311.5,873.3 L313.2,872.3 L314.9,871.3 L316.6,870.4 L318.4,869.5 L320.1,868.6 L321.9,867.7 L323.7,866.9 L325.5,866.1 L327.3,865.4 L329.1,864.6 L331.0,863.9 L332.8,863.3 L334.7,862.6 L336.5,862.0 L338.4,861.4 L340.3,860.8 L342.2,860.2 L344.1,859.7 L346.0,859.2 L348.0,858.7 L349.9,858.2 L351.8,857.7 L353.8,857.2 L355.7,856.7 L357.7,856.3 L359.6,855.8 L361.6,855.4 L363.6,855.0 L365.6,854.6 L367.5,854.2 L369.5,853.8 L371.5,853.4 L373.5,853.0 L375.4,852.6 L377.4,852.2 L379.4,851.8 L381.4,851.4 L383.4,851.0 L385.3,850.6 L387.3,850.2 L389.3,849.8 L391.3,849.3 L393.2,848.9 L395.2,848.5 L397.2,848.0 L399.1,847.6 L401.1,847.2 L403.1,846.7 L405.1,846.3 L407.0,845.8 L409.0,845.4 L410.9,845.0 L412.9,844.5 L414.9,844.1 L416.8,843.7 L418.8,843.2 L420.8,842.8 L422.7,842.3 L424.7,841.9 L426.6,841.5 L428.6,841.0 L430.5,840.6 L432.5,840.1 L434.5,839.7 L436.4,839.2 L438.4,838.8 L440.3,838.3 L442.3,837.8 L444.2,837.4 L446.2,836.9 L448.1,836.4 L450.1,836.0 L452.0,835.5 L454.0,835.0 L455.9,834.5 L457.9,834.1 L459.8,833.6 L461.8,833.1 L463.7,832.6 L465.7,832.1 L467.6,831.7 L469.6,831.2 L471.5,830.7 L473.4,830.2 L475.4,829.8 L477.3,829.3 L479.3,828.8 L481.2,828.4 L483.2,827.9 L485.1,827.5 L487.1,827.0 L489.0,826.6 L490.9,826.1 L492.9,825.7 L494.8,825.2 L496.8,824.8 L498.7,824.3 L500.7,823.9 L502.6,823.5 L504.6,823.0 L506.5,822.6 L508.4,822.1 L510.4,821.7 L512.3,821.3 L514.3,820.8 L516.2,820.4 L518.2,819.9 L520.1,819.5 L522.0,819.1 L524.0,818.6 L525.9,818.2 L527.9,817.8 L529.8,817.4 L531.8,817.0 L533.7,816.6 L535.7,816.2 L537.6,815.8 L539.5,815.4 L541.5,815.0 L543.4,814.6 L545.4,814.3 L547.3,813.9 L549.3,813.5 L551.2,813.1 L553.1,812.7 L555.1,812.3 L557.0,811.9 L559.0,811.5 L560.9,811.1 L562.9,810.7 L564.8,810.3 L566.7,809.8 L568.7,809.4 L570.6,809.0 L572.6,808.6 L574.5,808.2 L576.5,807.7 L578.4,807.3 L580.3,806.9 L582.3,806.5 L584.2,806.0 L586.2,805.6 L588.1,805.2 L590.1,804.7 L592.0,804.3 L593.9,803.9 L595.9,803.4 L597.8,803.0 L599.8,802.6 L601.7,802.1 L603.7,801.7 L605.6,801.3 L607.5,800.8 L609.5,800.4 L611.4,799.9 L613.4,799.5 L615.3,799.1 L617.3,798.6 L619.2,798.2 L621.1,797.7 L623.1,797.3 L625.0,796.9 L627.0,796.4 L628.9,796.0 L630.8,795.5 L632.8,795.1 L634.7,794.7 L636.7,794.2 L638.6,793.8 L640.6,793.3 L642.5,792.9 L644.4,792.4 L646.4,792.0 L648.3,791.5 L650.3,791.1 L652.2,790.6 L654.1,790.2 L656.1,789.7 L658.0,789.3 L660.0,788.8 L661.9,788.4 L663.8,787.9 L665.8,787.5 L667.7,787.0 L669.7,786.6 L671.6,786.1 L673.5,785.7 L675.5,785.2 L677.4,784.8 L679.4,784.3 L681.3,783.9 L683.2,783.5 L685.2,783.0 L687.1,782.6 L689.1,782.2 L691.0,781.8 L692.9,781.4 L694.9,781.1 L696.8,780.7 L698.8,780.4 L700.7,780.0 L702.6,779.6 L704.6,779.2 L706.5,778.8 L708.5,778.3 L710.4,777.8 L712.3,777.4 L714.3,776.9 L716.2,776.4 L718.1,776.0 L720.1,775.5 L722.0,775.0 L724.0,774.6 L725.9,774.1 L727.8,773.6 L729.8,773.1 L731.7,772.7 L733.6,772.2 L735.6,771.7 L737.5,771.2 L739.5,770.7 L741.4,770.2 L743.3,769.7 L745.3,769.2 L747.2,768.7 L749.1,768.3 L751.1,767.8 L753.0,767.3 L754.9,766.7 L756.9,766.2 L758.8,765.7 L760.8,765.2 L762.7,764.7 L764.6,764.2 L766.6,763.7 L768.5,763.2 L770.4,762.7 L772.4,762.2 L774.3,761.7 L776.2,761.1 L778.2,760.6 L780.1,760.1 L782.0,759.6 L784.0,759.1 L785.9,758.6 L787.8,758.0 L789.8,757.5 L791.7,757.0 L793.6,756.5 L795.6,756.0 L797.5,755.5 L799.4,754.9 L801.4,754.4 L803.3,753.9 L805.2,753.4 L807.2,752.8 L809.1,752.3 L811.0,751.8 L813.0,751.3 L814.9,750.7 L816.8,750.2 L818.8,749.7 L820.7,749.2 L822.6,748.6 L824.6,748.1 L826.5,747.6 L828.4,747.1 L830.4,746.5 L832.3,746.0 L834.2,745.5 L836.1,745.0 L838.1,744.4 L840.0,743.9 L841.9,743.4 L843.9,742.8 L845.8,742.3 L847.7,741.8 L849.7,741.2 L851.6,740.7 L853.5,740.2 L855.4,739.6 L857.4,739.1 L859.3,738.6 L861.2,738.0 L863.2,737.5 L865.1,737.0 L867.0,736.4 L868.9,735.9 L870.9,735.4 L872.8,734.8 L874.7,734.3 L876.6,733.7 L878.6,733.2 L880.5,732.7 L882.4,732.1 L884.4,731.6 L886.3,731.0 L888.2,730.5 L890.1,729.9 L892.1,729.4 L894.0,728.9 L895.9,728.3 L897.8,727.8 L899.8,727.2 L901.7,726.7 L903.6,726.1 L905.5,725.6 L907.5,725.0 L909.4,724.5 L911.3,723.9 L913.2,723.4 L915.2,722.8 L917.1,722.3 L919.0,721.7 L920.9,721.2 L922.8,720.6 L924.8,720.1 L926.7,719.5 L928.6,719.0 L930.5,718.4 L932.5,717.9 L934.4,717.3 L936.3,716.8 L938.2,716.2 L940.1,715.6 L942.1,715.1 L944.0,714.5 L945.9,713.9 L947.8,713.4 L949.7,712.8 L951.7,712.2 L953.6,711.7 L955.5,711.1 L957.4,710.5 L959.3,709.9 L961.3,709.4 L963.2,708.8 L965.1,708.2 L967.0,707.6 L968.9,707.0 L970.9,706.4 L972.8,705.8 L974.7,705.2 L976.6,704.6 L978.5,704.0 L980.4,703.4 L982.4,702.8 L984.3,702.2 L986.2,701.6 L988.1,701.0 L990.0,700.4 L991.9,699.8 L993.9,699.2 L995.8,698.6 L997.7,697.9 L999.6,697.3 L1001.5,696.7 L1003.4,696.1 L1005.3,695.5 L1007.3,694.9 L1009.2,694.2 L1011.1,693.6 L1013.0,693.0 L1014.9,692.4 L1016.8,691.8 L1018.7,691.1 L1020.7,690.5 L1022.6,689.9 L1024.5,689.2 L1026.4,688.6 L1028.3,688.0 L1030.2,687.3 L1032.1,686.7 L1034.0,686.1 L1035.9,685.4 L1037.9,684.8 L1039.8,684.1 L1041.7,683.5 L1043.6,682.8 L1045.5,682.2 L1047.4,681.5 L1049.3,680.9 L1051.2,680.2 L1053.1,679.5 L1055.0,678.9 L1056.9,678.2 L1058.8,677.6 L1060.7,676.9 L1062.7,676.2 L1064.6,675.6 L1066.5,674.9 L1068.4,674.3 L1070.3,673.6 L1072.2,672.9 L1074.1,672.3 L1076.0,671.6 L1077.9,670.9 L1079.8,670.3 L1081.7,669.6 L1083.6,668.9 L1085.5,668.2 L1087.4,667.6 L1089.3,666.9 L1091.2,666.2 L1093.1,665.5 L1095.0,664.8 L1096.9,664.2 L1098.8,663.5 L1100.7,662.8 L1102.6,662.1 L1104.5,661.4 L1106.4,660.7 L1108.3,660.1 L1110.2,659.4 L1112.1,658.7 L1114.0,658.0 L1115.9,657.3 L1117.8,656.6 L1119.7,655.9 L1121.6,655.2 L1123.5,654.5 L1125.4,653.8 L1127.3,653.1 L1129.2,652.4 L1131.1,651.7 L1133.0,651.1 L1134.9,650.4 L1136.8,649.7 L1138.7,649.0 L1140.5,648.3 L1142.4,647.6 L1144.3,646.9 L1146.2,646.2 L1148.1,645.5 L1150.0,644.8 L1151.9,644.1 L1153.8,643.4 L1155.7,642.7 L1157.6,642.0 L1159.5,641.3 L1161.3,640.6 L1163.2,639.9 L1165.1,639.2 L1167.0,638.5 L1168.9,637.8 L1170.8,637.0 L1172.7,636.3 L1174.5,635.6 L1176.4,634.9 L1178.3,634.2 L1180.2,633.5 L1182.1,632.8 L1184.0,632.1 L1185.9,631.4 L1187.7,630.7 L1189.6,629.9 L1191.5,629.2 L1193.4,628.5 L1195.3,627.8 L1197.1,627.1 L1199.0,626.4 L1200.9,625.7 L1202.8,625.0 L1204.7,624.2 L1206.5,623.5 L1208.4,622.8 L1210.3,622.1 L1212.2,621.4 L1214.0,620.7 L1215.9,619.9 L1217.8,619.2 L1219.7,618.5 L1221.5,617.8 L1223.4,617.1 L1225.3,616.3 L1227.2,615.6 L1229.0,614.9 L1230.9,614.2 L1232.8,613.5 L1234.7,612.7 L1236.5,612.0 L1238.4,611.3 L1240.3,610.6 L1242.1,609.8 L1244.0,609.1 L1245.9,608.4 L1247.7,607.6 L1249.6,606.9 L1251.5,606.2 L1253.3,605.4 L1255.2,604.7 L1257.1,603.9 L1258.9,603.2 L1260.8,602.5 L1262.7,601.7 L1264.5,601.0 L1266.4,600.2 L1268.3,599.5 L1270.1,598.7 L1272.0,598.0 L1273.8,597.2 L1275.7,596.5 L1277.6,595.7 L1279.4,595.0 L1281.3,594.2 L1283.1,593.5 L1285.0,592.7 L1286.8,591.9 L1288.7,591.2 L1290.6,590.4 L1292.4,589.6 L1294.3,588.9 L1296.1,588.1 L1298.0,587.3 L1299.8,586.6 L1301.7,585.8 L1303.5,585.0 L1305.4,584.3 L1307.2,583.5 L1309.1,582.7 L1310.9,581.9 L1312.8,581.2 L1314.6,580.4 L1316.5,579.6 L1318.3,578.8 L1320.2,578.0 L1322.0,577.2 L1323.9,576.5 L1325.7,575.7 L1327.6,574.9 L1329.4,574.1 L1331.2,573.3 L1333.1,572.5 L1334.9,571.7 L1336.8,570.9 L1338.6,570.1 L1340.4,569.3 L1342.3,568.5 L1344.1,567.7 L1346.0,566.9 L1347.8,566.1 L1349.6,565.3 L1351.5,564.5 L1353.3,563.7 L1355.1,562.9 L1357.0,562.0 L1358.8,561.2 L1360.6,560.4 L1362.5,559.6 L1364.3,558.8 L1366.1,558.0 L1368.0,557.1 L1369.8,556.3 L1371.6,555.5 L1373.5,554.7 L1375.3,553.8 L1377.1,553.0 L1378.9,552.2 L1380.8,551.3 L1382.6,550.5 L1384.4,549.7 L1386.2,548.8 L1388.1,548.0 L1389.9,547.2 L1391.7,546.3 L1393.5,545.5 L1395.4,544.6 L1397.2,543.8 L1399.0,542.9 L1400.8,542.1 L1402.6,541.2 L1404.5,540.4 L1406.3,539.5 L1408.1,538.7 L1409.9,537.8 L1411.7,536.9 L1413.5,536.1 L1415.3,535.2 L1417.2,534.3 L1419.0,533.5 L1420.8,532.6 L1422.6,531.7 L1424.4,530.9 L1426.2,530.0 L1428.0,529.1 L1429.8,528.2 L1431.6,527.4 L1433.4,526.5 L1435.2,525.6 L1437.1,524.7 L1438.9,523.8 L1440.7,522.9 L1442.5,522.0 L1444.3,521.2 L1446.1,520.3 L1447.9,519.4 L1449.7,518.5 L1451.5,517.6 L1453.3,516.7 L1455.1,515.8 L1456.9,514.9 L1458.7,514.0 L1460.5,513.1 L1462.3,512.1 L1464.0,511.2 L1465.8,510.3 L1467.6,509.4 L1469.4,508.5 L1471.2,507.6 L1473.0,506.7 L1474.8,505.7 L1476.6,504.8 L1478.4,503.9 L1480.2,503.0 L1482.0,502.0 L1483.8,501.1 L1485.5,500.2 L1487.3,499.3 L1489.1,498.3 L1490.9,497.4 L1492.7,496.5 L1494.5,495.6 L1496.2,494.7 L1498.0,493.7 L1499.8,492.8 L1501.6,491.9 L1503.4,491.0 L1505.2,490.1 L1506.9,489.1 L1508.7,488.2 L1510.5,487.3 L1512.3,486.4 L1514.0,485.4 L1515.8,484.5 L1517.6,483.6 L1519.4,482.6 L1521.1,481.7 L1522.9,480.8 L1524.7,479.8 L1526.5,478.9 L1528.2,478.0 L1530.0,477.0 L1531.8,476.1 L1533.5,475.1 L1535.3,474.2 L1537.1,473.2 L1538.8,472.3 L1540.6,471.4 L1542.4,470.4 L1544.1,469.5 L1545.9,468.5 L1547.7,467.6 L1549.4,466.6 L1551.2,465.7 L1552.9,464.7 L1554.7,463.7 L1556.5,462.8 L1558.2,461.8 L1560.0,460.9 L1561.7,459.9 L1563.5,458.9 L1565.3,458.0 L1567.0,457.0 L1568.8,456.0 L1570.5,455.1 L1572.3,454.1 L1574.0,453.1 L1575.8,452.2 L1577.5,451.2 L1579.3,450.2 L1581.0,449.2 L1582.8,448.3 L1584.5,447.3 L1586.3,446.3 L1588.0,445.3 L1589.8,444.3 L1591.5,443.4 L1593.3,442.4 L1595.0,441.4 L1596.8,440.4 L1598.5,439.4 L1600.3,438.4 L1602.0,437.4 L1603.7,436.5 L1605.5,435.5 L1607.2,434.5 L1609.0,433.5 L1610.7,432.5 L1612.4,431.5 L1614.2,430.5 L1615.9,429.5 L1617.6,428.5 L1619.4,427.5 L1621.1,426.5 L1622.9,425.5 L1624.6,424.5 L1626.3,423.5 L1628.1,422.5 L1629.8,421.5 L1631.5,420.5 L1633.2,419.5 L1635.0,418.5 L1636.7,417.5 L1638.4,416.5 L1640.2,415.5 L1641.9,414.5 L1643.6,413.5 L1645.3,412.5 L1647.1,411.5 L1648.8,410.5 L1650.5,409.5 L1652.2,408.5 L1654.0,407.5 L1655.7,406.5 L1657.4,405.5 L1659.1,404.5 L1660.9,403.5 L1662.6,402.5 L1664.3,401.5 L1666.0,400.5 L1667.7,399.5 L1669.4,398.5 L1671.2,397.5 L1672.9,396.5 L1674.6,395.5 L1676.3,394.5 L1678.0,393.5 L1679.7,392.4 L1681.4,391.4 L1683.1,390.4 L1684.9,389.4 L1686.6,388.4 L1688.3,387.4 L1690.0,386.4 L1691.7,385.4 L1693.4,384.4 L1695.1,383.4 L1696.8,382.4 L1698.5,381.4 L1700.2,380.4 L1701.9,379.4 L1703.6,378.4 L1705.3,377.4 L1707.0,376.4 L1708.7,375.4 L1710.4,374.4 L1712.1,373.4 L1713.8,372.4 L1715.5,371.4 L1717.2,370.4 L1718.9,369.3 L1720.6,368.3 L1722.3,367.3 L1724.0,366.3 L1725.7,365.3 L1727.4,364.3 L1729.1,363.3 L1730.8,362.3 L1732.5,361.3 L1734.2,360.2 L1735.9,359.2 L1737.6,358.2 L1739.3,357.2 L1740.9,356.1 L1742.6,355.1 L1744.3,354.1 L1746.0,353.0 L1747.7,352.0 L1749.4,351.0 L1751.1,349.9 L1752.7,348.9 L1754.4,347.8 L1756.1,346.8 L1757.8,345.8 L1759.5,344.7 L1761.2,343.7 L1762.8,342.6 L1764.5,341.6 L1766.2,340.5 L1767.9,339.5 L1769.6,338.4 L1771.2,337.4 L1772.9,336.3 L1774.6,335.3 L1776.3,334.2 L1777.9,333.2 L1779.6,332.1 L1781.3,331.0 L1782.9,330.0 L1784.6,328.9 L1786.3,327.8 L1788.0,326.8 L1789.6,325.7 L1791.3,324.6 L1793.0,323.5 L1794.6,322.4 L1796.3,321.3 L1798.0,320.2 L1799.6,319.1 L1801.3,318.0 L1803.0,316.9 L1804.6,315.8 L1806.3,314.7 L1808.0,313.6 L1809.6,312.5 L1811.3,311.4 L1812.9,310.3 L1814.6,309.2 L1816.3,308.1 L1817.9,307.0 L1819.6,305.9 L1821.2,304.8 L1822.9,303.7 L1824.5,302.6 L1826.2,301.5 L1827.9,300.3 L1829.5,299.2 L1831.2,298.1 L1832.8,297.0 L1834.5,295.9 L1836.1,294.7 L1837.8,293.6 L1839.4,292.5 L1841.1,291.4 L1842.7,290.2 L1844.4,289.1 L1846.0,288.0 L1847.7,286.8 L1849.3,285.7 L1850.9,284.6 L1852.6,283.4 L1854.2,282.3 L1855.9,281.2 L1857.5,280.0 L1859.2,278.9 L1860.8,277.7 L1862.4,276.6 L1864.1,275.5 L1865.7,274.3 L1867.4,273.2 L1869.0,272.0 L1870.6,270.9 L1872.3,269.7 L1873.9,268.6 L1875.5,267.4 L1877.2,266.3 L1878.8,265.2 L1880.5,264.0 L1882.1,262.8 L1883.7,261.7 L1885.3,260.5 L1887.0,259.4 L1888.6,258.2 L1890.2,257.1 L1891.9,255.9 L1893.5,254.8 L1895.1,253.6 L1896.8,252.5 L1898.4,251.3 L1900.0,250.1 L1901.6,249.0 L1903.3,247.8 L1904.9,246.7 L1906.5,245.5" stroke="#FF00FF" stroke-width="9.2" fill="none" stroke-linecap="round" stroke-dasharray="27.50 39.45" stroke-dashoffset="60.72"/>
<path d="M265.6,952.5 L265.9,950.3 L266.3,948.2 L266.8,946.1 L267.4,944.1 L268.0,942.1 L268.6,940.1 L269.3,938.2 L270.1,936.3 L271.0,934.5 L271.9,932.7 L272.8,931.0 L273.8,929.3 L274.9,927.6 L276.0,926.0 L277.1,924.4 L278.3,922.8 L279.5,921.3 L280.8,919.9 L282.1,918.4 L283.5,917.0 L284.9,915.7 L286.3,914.4 L287.8,913.1 L289.3,911.8 L290.8,910.6 L292.3,909.4 L293.9,908.3 L295.5,907.2 L297.2,906.1 L298.8,905.1 L300.5,904.1 L302.2,903.1 L303.9,902.2 L305.7,901.3 L307.4,900.4 L309.2,899.6 L311.0,898.8 L312.7,898.0 L314.5,897.2 L316.4,896.5 L318.2,895.8 L320.0,895.1 L321.9,894.5 L323.7,893.9 L325.6,893.3 L327.5,892.7 L329.4,892.1 L331.3,891.6 L333.2,891.1 L335.1,890.6 L337.0,890.1 L339.0,889.6 L340.9,889.2 L342.9,888.7 L344.8,888.3 L346.8,887.9 L348.7,887.5 L350.7,887.1 L352.6,886.7 L354.6,886.4 L356.6,886.0 L358.5,885.6 L360.5,885.3 L362.5,884.9 L364.5,884.6 L366.4,884.2 L368.4,883.9 L370.4,883.5 L372.4,883.2 L374.3,882.8 L376.3,882.4 L378.3,882.1 L380.3,881.7 L382.2,881.3 L384.2,881.0 L386.2,880.6 L388.2,880.2 L390.1,879.8 L392.1,879.5 L394.1,879.1 L396.1,878.7 L398.0,878.3 L400.0,877.9 L402.0,877.5 L403.9,877.2 L405.9,876.8 L407.9,876.4 L409.9,876.0 L411.8,875.6 L413.8,875.3 L415.8,874.9 L417.8,874.5 L419.7,874.1 L421.7,873.8 L423.7,873.4 L425.7,873.0 L427.6,872.6 L429.6,872.2 L431.6,871.9 L433.5,871.5 L435.5,871.1 L437.5,870.8 L439.5,870.4 L441.4,870.0 L443.4,869.6 L445.4,869.3 L447.4,868.9 L449.3,868.5 L451.3,868.1 L453.3,867.8 L455.2,867.4 L457.2,867.0 L459.2,866.7 L461.2,866.3 L463.1,865.9 L465.1,865.5 L467.1,865.1 L469.1,864.8 L471.0,864.4 L473.0,864.0 L475.0,863.6 L476.9,863.2 L478.9,862.8 L480.9,862.4 L482.9,862.0 L484.8,861.6 L486.8,861.2 L488.8,860.8 L490.7,860.4 L492.7,860.1 L494.7,859.7 L496.7,859.3 L498.6,858.9 L500.6,858.5 L502.6,858.1 L504.5,857.7 L506.5,857.3 L508.5,856.9 L510.5,856.5 L512.4,856.2 L514.4,855.8 L516.4,855.4 L518.3,855.0 L520.3,854.6 L522.3,854.3 L524.3,853.9 L526.2,853.5 L528.2,853.1 L530.2,852.8 L532.1,852.4 L534.1,852.0 L536.1,851.7 L538.1,851.3 L540.0,850.9 L542.0,850.6 L544.0,850.2 L545.9,849.8 L547.9,849.5 L549.9,849.1 L551.9,848.7 L553.8,848.4 L555.8,848.0 L557.8,847.6 L559.7,847.3 L561.7,846.9 L563.7,846.6 L565.6,846.2 L567.6,845.8 L569.6,845.5 L571.6,845.1 L573.5,844.7 L575.5,844.4 L577.5,844.0 L579.4,843.7 L581.4,843.3 L583.4,842.9 L585.3,842.6 L587.3,842.2 L589.3,841.9 L591.3,841.5 L593.2,841.1 L595.2,840.8 L597.2,840.4 L599.1,840.0 L601.1,839.7 L603.1,839.3 L605.0,839.0 L607.0,838.6 L609.0,838.2 L611.0,837.9 L612.9,837.5 L614.9,837.2 L616.9,836.8 L618.8,836.4 L620.8,836.1 L622.8,835.7 L624.7,835.4 L626.7,835.0 L628.7,834.6 L630.6,834.3 L632.6,833.9 L634.6,833.6 L636.6,833.2 L638.5,832.8 L640.5,832.5 L642.5,832.1 L644.4,831.8 L646.4,831.4 L648.4,831.0 L650.3,830.7 L652.3,830.3 L654.3,830.0 L656.2,829.6 L658.2,829.3 L660.2,828.9 L662.1,828.5 L664.1,828.2 L666.1,827.8 L668.0,827.5 L670.0,827.1 L672.0,826.7 L673.9,826.4 L675.9,826.0 L677.9,825.7 L679.9,825.3 L681.8,824.9 L683.8,824.6 L685.8,824.2 L687.7,823.9 L689.7,823.5 L691.7,823.1 L693.6,822.8 L695.6,822.4 L697.6,822.1 L699.5,821.7 L701.5,821.4 L703.5,821.0 L705.4,820.7 L707.4,820.3 L709.4,819.9 L711.3,819.6 L713.3,819.2 L715.3,818.9 L717.2,818.6 L719.2,818.2 L721.2,817.9 L723.1,817.5 L725.1,817.2 L727.1,816.8 L729.0,816.5 L731.0,816.1 L733.0,815.8 L734.9,815.4 L736.9,815.1 L738.9,814.8 L740.8,814.4 L742.8,814.1 L744.8,813.7 L746.7,813.4 L748.7,813.0 L750.7,812.7 L752.6,812.3 L754.6,812.0 L756.6,811.7 L758.5,811.3 L760.5,811.0 L762.5,810.6 L764.4,810.3 L766.4,809.9 L768.4,809.6 L770.3,809.2 L772.3,808.9 L774.3,808.5 L776.2,808.2 L778.2,807.8 L780.2,807.5 L782.1,807.1 L784.1,806.8 L786.1,806.4 L788.0,806.1 L790.0,805.7 L792.0,805.4 L793.9,805.0 L795.9,804.7 L797.9,804.3 L799.8,804.0 L801.8,803.6 L803.7,803.3 L805.7,802.9 L807.7,802.6 L809.6,802.2 L811.6,801.9 L813.6,801.5 L815.5,801.2 L817.5,800.8 L819.5,800.5 L821.4,800.1 L823.4,799.8 L825.4,799.4 L827.3,799.0 L829.3,798.7 L831.3,798.3 L833.2,798.0 L835.2,797.6 L837.1,797.3 L839.1,796.9 L841.1,796.5 L843.0,796.2 L845.0,795.8 L847.0,795.4 L848.9,795.1 L850.9,794.7 L852.9,794.3 L854.8,794.0 L856.8,793.6 L858.8,793.2 L860.7,792.9 L862.7,792.5 L864.6,792.1 L866.6,791.8 L868.6,791.4 L870.5,791.0 L872.5,790.6 L874.5,790.3 L876.4,789.9 L878.4,789.5 L880.4,789.2 L882.3,788.8 L884.3,788.4 L886.2,788.0 L888.2,787.7 L890.2,787.3 L892.1,786.9 L894.1,786.5 L896.1,786.1 L898.0,785.8 L900.0,785.4 L902.0,785.0 L903.9,784.6 L905.9,784.3 L907.8,783.9 L909.8,783.5 L911.8,783.1 L913.7,782.7 L915.7,782.4 L917.7,782.0 L919.6,781.6 L921.6,781.2 L923.5,780.8 L925.5,780.5 L927.5,780.1 L929.4,779.7 L931.4,779.3 L933.4,778.9 L935.3,778.6 L937.3,778.2 L939.2,777.8 L941.2,777.4 L943.2,777.0 L945.1,776.6 L947.1,776.2 L949.1,775.9 L951.0,775.5 L953.0,775.1 L954.9,774.8 L956.9,774.4 L958.9,774.1 L960.8,773.7 L962.8,773.3 L964.7,773.0 L966.7,772.6 L968.7,772.3 L970.6,771.9 L972.6,771.5 L974.5,771.2 L976.5,770.9 L978.5,770.5 L980.4,770.2 L982.4,769.9 L984.4,769.6 L986.3,769.3 L988.3,769.0 L990.2,768.7 L992.2,768.4 L994.2,768.0 L996.1,767.7 L998.1,767.3 L1000.0,767.0 L1002.0,766.7 L1004.0,766.3 L1005.9,766.0 L1007.9,765.6 L1009.8,765.3 L1011.8,764.9 L1013.8,764.6 L1015.7,764.2 L1017.7,763.9 L1019.6,763.5 L1021.6,763.1 L1023.6,762.8 L1025.5,762.4 L1027.5,762.1 L1029.4,761.7 L1031.4,761.3 L1033.3,761.0 L1035.3,760.6 L1037.3,760.2 L1039.2,759.8 L1041.2,759.5 L1043.1,759.1 L1045.1,758.7 L1047.1,758.3 L1049.0,758.0 L1051.0,757.6 L1052.9,757.2 L1054.9,756.9 L1056.9,756.5 L1058.8,756.1 L1060.8,755.7 L1062.7,755.4 L1064.7,755.0 L1066.6,754.6 L1068.6,754.3 L1070.6,753.9 L1072.5,753.5 L1074.5,753.1 L1076.4,752.8 L1078.4,752.4 L1080.3,752.0 L1082.3,751.6 L1084.3,751.3 L1086.2,750.9 L1088.2,750.5 L1090.1,750.1 L1092.1,749.8 L1094.0,749.4 L1096.0,749.0 L1098.0,748.6 L1099.9,748.3 L1101.9,747.9 L1103.8,747.5 L1105.8,747.1 L1107.7,746.7 L1109.7,746.4 L1111.7,746.0 L1113.6,745.6 L1115.6,745.2 L1117.5,744.8 L1119.5,744.4 L1121.4,744.1 L1123.4,743.7 L1125.4,743.3 L1127.3,742.9 L1129.3,742.5 L1131.2,742.2 L1133.2,741.8 L1135.1,741.4 L1137.1,741.0 L1139.0,740.6 L1141.0,740.3 L1143.0,739.9 L1144.9,739.5 L1146.9,739.1 L1148.8,738.7 L1150.8,738.3 L1152.7,738.0 L1154.7,737.6 L1156.6,737.2 L1158.6,736.8 L1160.5,736.4 L1162.5,736.0 L1164.5,735.6 L1166.4,735.2 L1168.4,734.8 L1170.3,734.4 L1172.3,734.0 L1174.2,733.6 L1176.2,733.2 L1178.1,732.8 L1180.1,732.4 L1182.0,732.0 L1184.0,731.6 L1185.9,731.1 L1187.9,730.7 L1189.9,730.3 L1191.8,729.9 L1193.8,729.5 L1195.7,729.0 L1197.7,728.6 L1199.6,728.2 L1201.6,727.7 L1203.5,727.3 L1205.5,726.9 L1207.4,726.4 L1209.4,726.0 L1211.3,725.5 L1213.3,725.1 L1215.2,724.6 L1217.2,724.2 L1219.1,723.8 L1221.1,723.3 L1223.0,722.8 L1225.0,722.4 L1226.9,721.9 L1228.9,721.5 L1230.8,721.0 L1232.8,720.5 L1234.8,720.1 L1236.7,719.6 L1238.7,719.1 L1240.6,718.7 L1242.6,718.2 L1244.5,717.7 L1246.5,717.2 L1248.4,716.8 L1250.4,716.3 L1252.3,715.8 L1254.3,715.3 L1256.2,714.8 L1258.2,714.3 L1260.1,713.9 L1262.1,713.4 L1264.0,712.9 L1266.0,712.5 L1267.9,712.0 L1269.9,711.6 L1271.8,711.1 L1273.8,710.6 L1275.7,710.2 L1277.7,709.7 L1279.6,709.2 L1281.6,708.7 L1283.5,708.3 L1285.5,707.8 L1287.4,707.3 L1289.4,706.9 L1291.3,706.4 L1293.2,705.9 L1295.2,705.4 L1297.1,705.0 L1299.1,704.5 L1301.0,704.0 L1303.0,703.5 L1304.9,703.0 L1306.9,702.6 L1308.8,702.1 L1310.8,701.6 L1312.7,701.1 L1314.7,700.7 L1316.6,700.2 L1318.6,699.7 L1320.5,699.2 L1322.5,698.7 L1324.4,698.2 L1326.4,697.7 L1328.3,697.3 L1330.3,696.8 L1332.2,696.3 L1334.1,695.8 L1336.1,695.3 L1338.0,694.8 L1340.0,694.3 L1341.9,693.8 L1343.9,693.3 L1345.8,692.8 L1347.8,692.3 L1349.7,691.8 L1351.7,691.3 L1353.6,690.8 L1355.6,690.3 L1357.5,689.8 L1359.4,689.3 L1361.4,688.8 L1363.3,688.3 L1365.3,687.8 L1367.2,687.3 L1369.2,686.8 L1371.1,686.3 L1373.1,685.8 L1375.0,685.3 L1376.9,684.8 L1378.9,684.3 L1380.8,683.8 L1382.8,683.3 L1384.7,682.8 L1386.7,682.3 L1388.6,681.8 L1390.6,681.3 L1392.5,680.8 L1394.4,680.3 L1396.4,679.8 L1398.3,679.3 L1400.3,678.8 L1402.2,678.3 L1404.2,677.8 L1406.1,677.3 L1408.0,676.8 L1410.0,676.3 L1411.9,675.8 L1413.9,675.3 L1415.8,674.8 L1417.7,674.3 L1419.7,673.8 L1421.6,673.3 L1423.6,672.8 L1425.5,672.3 L1427.4,671.8 L1429.4,671.3 L1431.3,670.8 L1433.3,670.3 L1435.2,669.8 L1437.1,669.3 L1439.1,668.7 L1441.0,668.2 L1443.0,667.7 L1444.9,667.2 L1446.8,666.7 L1448.8,666.2 L1450.7,665.7 L1452.7,665.2 L1454.6,664.7 L1456.5,664.2 L1458.5,663.7 L1460.4,663.1 L1462.3,662.6 L1464.3,662.1 L1466.2,661.6 L1468.2,661.1 L1470.1,660.6 L1472.0,660.1 L1474.0,659.6 L1475.9,659.0 L1477.8,658.5 L1479.8,658.0 L1481.7,657.5 L1483.6,657.0 L1485.6,656.5 L1487.5,655.9 L1489.4,655.4 L1491.4,654.9 L1493.3,654.4 L1495.3,653.9 L1497.2,653.3 L1499.1,652.8 L1501.1,652.3 L1503.0,651.8 L1504.9,651.2 L1506.9,650.7 L1508.8,650.2 L1510.7,649.6 L1512.6,649.1 L1514.6,648.6 L1516.5,648.0 L1518.4,647.5 L1520.4,647.0 L1522.3,646.4 L1524.2,645.9 L1526.2,645.4 L1528.1,644.8 L1530.0,644.3 L1532.0,643.7 L1533.9,643.2 L1535.8,642.6 L1537.7,642.1 L1539.7,641.6 L1541.6,641.0 L1543.5,640.5 L1545.5,639.9 L1547.4,639.4 L1549.3,638.8 L1551.2,638.3 L1553.2,637.7 L1555.1,637.2 L1557.0,636.6 L1558.9,636.1 L1560.9,635.5 L1562.8,634.9 L1564.7,634.4 L1566.7,633.8 L1568.6,633.3 L1570.5,632.7 L1572.4,632.1 L1574.4,631.6 L1576.3,631.0 L1578.2,630.5 L1580.1,629.9 L1582.0,629.3 L1584.0,628.8 L1585.9,628.2 L1587.8,627.6 L1589.7,627.0 L1591.7,626.5 L1593.6,625.9 L1595.5,625.3 L1597.4,624.7 L1599.3,624.2 L1601.3,623.6 L1603.2,623.0 L1605.1,622.4 L1607.0,621.9 L1608.9,621.3 L1610.9,620.7 L1612.8,620.1 L1614.7,619.5 L1616.6,619.0 L1618.5,618.4 L1620.5,617.8 L1622.4,617.2 L1624.3,616.6 L1626.2,616.0 L1628.1,615.5 L1630.0,614.9 L1631.9,614.3 L1633.9,613.7 L1635.8,613.1 L1637.7,612.5 L1639.6,611.9 L1641.5,611.4 L1643.4,610.8 L1645.4,610.2 L1647.3,609.6 L1649.2,609.0 L1651.1,608.4 L1653.0,607.8 L1654.9,607.2 L1656.8,606.6 L1658.7,606.0 L1660.6,605.4 L1662.6,604.8 L1664.5,604.2 L1666.4,603.6 L1668.3,603.0 L1670.2,602.4 L1672.1,601.8 L1674.0,601.2 L1675.9,600.6 L1677.8,600.0 L1679.7,599.4 L1681.6,598.8 L1683.6,598.2 L1685.5,597.6 L1687.4,597.0 L1689.3,596.4 L1691.2,595.8 L1693.1,595.2 L1695.0,594.6 L1696.9,594.0 L1698.8,593.5 L1700.7,592.9 L1702.6,592.3 L1704.5,591.7 L1706.4,591.1 L1708.3,590.5 L1710.2,590.0 L1712.1,589.4 L1714.0,588.8 L1715.9,588.2 L1717.8,587.5 L1719.7,586.9 L1721.6,586.3 L1723.5,585.7 L1725.4,585.1 L1727.3,584.5 L1729.2,583.9 L1731.1,583.3 L1733.0,582.7 L1734.9,582.0 L1736.8,581.4 L1738.7,580.8 L1740.6,580.2 L1742.5,579.6 L1744.4,578.9 L1746.3,578.3 L1748.2,577.7 L1750.1,577.1 L1752.0,576.4 L1753.8,575.8 L1755.7,575.2 L1757.6,574.6 L1759.5,573.9 L1761.4,573.3 L1763.3,572.7 L1765.2,572.0 L1767.1,571.4 L1769.0,570.8 L1770.9,570.1 L1772.8,569.5 L1774.6,568.9 L1776.5,568.2 L1778.4,567.6 L1780.3,567.0 L1782.2,566.3 L1784.1,565.7 L1786.0,565.0 L1787.9,564.4 L1789.7,563.8 L1791.6,563.1 L1793.5,562.5 L1795.4,561.8 L1797.3,561.2 L1799.2,560.5 L1801.0,559.9 L1802.9,559.2 L1804.8,558.6 L1806.7,557.9 L1808.6,557.3 L1810.4,556.6 L1812.3,556.0 L1814.2,555.3 L1816.1,554.7 L1818.0,554.0 L1819.8,553.4 L1821.7,552.7 L1823.6,552.0 L1825.5,551.4 L1827.4,550.7 L1829.2,550.0 L1831.1,549.4 L1833.0,548.7 L1834.9,548.0 L1836.7,547.4 L1838.6,546.7 L1840.5,546.0 L1842.3,545.4 L1844.2,544.7 L1846.1,544.0 L1848.0,543.3 L1849.8,542.7 L1851.7,542.0 L1853.6,541.3 L1855.4,540.6 L1857.3,540.0 L1859.2,539.3 L1861.0,538.6 L1862.9,537.9 L1864.8,537.2 L1866.6,536.6 L1868.5,535.9 L1870.4,535.2 L1872.2,534.5 L1874.1,533.8 L1876.0,533.1 L1877.8,532.4 L1879.7,531.8 L1881.6,531.1 L1883.4,530.4 L1885.3,529.7 L1887.1,529.0 L1889.0,528.3 L1890.9,527.6 L1892.7,526.9 L1894.6,526.2 L1896.4,525.6 L1898.3,524.9 L1900.2,524.2 L1902.0,523.5 L1903.9,522.8" stroke="#C00000" stroke-width="9.2" fill="none" stroke-linecap="butt" stroke-dasharray="34.90 32.05" stroke-dashoffset="63.33"/>
<path d="M265.6,952.5 L265.9,950.3 L266.3,948.2 L266.8,946.1 L267.4,944.1 L268.0,942.1 L268.6,940.1 L269.3,938.2 L270.1,936.3 L271.0,934.5 L271.9,932.7 L272.8,931.0 L273.8,929.3 L274.9,927.6 L276.0,926.0 L277.1,924.4 L278.3,922.8 L279.5,921.3 L280.8,919.9 L282.1,918.4 L283.5,917.0 L284.9,915.7 L286.3,914.4 L287.8,913.1 L289.3,911.8 L290.8,910.6 L292.3,909.4 L293.9,908.3 L295.5,907.2 L297.2,906.1 L298.8,905.1 L300.5,904.1 L302.2,903.1 L303.9,902.2 L305.7,901.3 L307.4,900.4 L309.2,899.6 L311.0,898.8 L312.7,898.0 L314.5,897.2 L316.4,896.5 L318.2,895.8 L320.0,895.1 L321.9,894.5 L323.7,893.9 L325.6,893.3 L327.5,892.7 L329.4,892.1 L331.3,891.6 L333.2,891.1 L335.1,890.6 L337.0,890.1 L339.0,889.6 L340.9,889.2 L342.9,888.7 L344.8,888.3 L346.8,887.9 L348.7,887.5 L350.7,887.1 L352.6,886.7 L354.6,886.4 L356.6,886.0 L358.5,885.6 L360.5,885.3 L362.5,884.9 L364.5,884.6 L366.4,884.2 L368.4,883.9 L370.4,883.5 L372.4,883.2 L374.3,882.8 L376.3,882.4 L378.3,882.1 L380.3,881.7 L382.2,881.3 L384.2,881.0 L386.2,880.6 L388.2,880.2 L390.1,879.8 L392.1,879.5 L394.1,879.1 L396.1,878.7 L398.0,878.3 L400.0,877.9 L402.0,877.5 L403.9,877.2 L405.9,876.8 L407.9,876.4 L409.9,876.0 L411.8,875.6 L413.8,875.3 L415.8,874.9 L417.8,874.5 L419.7,874.1 L421.7,873.8 L423.7,873.4 L425.7,873.0 L427.6,872.6 L429.6,872.2 L431.6,871.9 L433.5,871.5 L435.5,871.1 L437.5,870.8 L439.5,870.4 L441.4,870.0 L443.4,869.6 L445.4,869.3 L447.4,868.9 L449.3,868.5 L451.3,868.1 L453.3,867.8 L455.2,867.4 L457.2,867.0 L459.2,866.7 L461.2,866.3 L463.1,865.9 L465.1,865.5 L467.1,865.1 L469.1,864.8 L471.0,864.4 L473.0,864.0 L475.0,863.6 L476.9,863.2 L478.9,862.8 L480.9,862.4 L482.9,862.0 L484.8,861.6 L486.8,861.2 L488.8,860.8 L490.7,860.4 L492.7,860.1 L494.7,859.7 L496.7,859.3 L498.6,858.9 L500.6,858.5 L502.6,858.1 L504.5,857.7 L506.5,857.3 L508.5,856.9 L510.5,856.5 L512.4,856.2 L514.4,855.8 L516.4,855.4 L518.3,855.0 L520.3,854.6 L522.3,854.3 L524.3,853.9 L526.2,853.5 L528.2,853.1 L530.2,852.8 L532.1,852.4 L534.1,852.0 L536.1,851.7 L538.1,851.3 L540.0,850.9 L542.0,850.6 L544.0,850.2 L545.9,849.8 L547.9,849.5 L549.9,849.1 L551.9,848.7 L553.8,848.4 L555.8,848.0 L557.8,847.6 L559.7,847.3 L561.7,846.9 L563.7,846.6 L565.6,846.2 L567.6,845.8 L569.6,845.5 L571.6,845.1 L573.5,844.7 L575.5,844.4 L577.5,844.0 L579.4,843.7 L581.4,843.3 L583.4,842.9 L585.3,842.6 L587.3,842.2 L589.3,841.9 L591.3,841.5 L593.2,841.1 L595.2,840.8 L597.2,840.4 L599.1,840.0 L601.1,839.7 L603.1,839.3 L605.0,839.0 L607.0,838.6 L609.0,838.2 L611.0,837.9 L612.9,837.5 L614.9,837.2 L616.9,836.8 L618.8,836.4 L620.8,836.1 L622.8,835.7 L624.7,835.4 L626.7,835.0 L628.7,834.6 L630.6,834.3 L632.6,833.9 L634.6,833.6 L636.6,833.2 L638.5,832.8 L640.5,832.5 L642.5,832.1 L644.4,831.8 L646.4,831.4 L648.4,831.0 L650.3,830.7 L652.3,830.3 L654.3,830.0 L656.2,829.6 L658.2,829.3 L660.2,828.9 L662.1,828.5 L664.1,828.2 L666.1,827.8 L668.0,827.5 L670.0,827.1 L672.0,826.7 L673.9,826.4 L675.9,826.0 L677.9,825.7 L679.9,825.3 L681.8,824.9 L683.8,824.6 L685.8,824.2 L687.7,823.9 L689.7,823.5 L691.7,823.1 L693.6,822.8 L695.6,822.4 L697.6,822.1 L699.5,821.7 L701.5,821.4 L703.5,821.0 L705.4,820.7 L707.4,820.3 L709.4,819.9 L711.3,819.6 L713.3,819.2 L715.3,818.9 L717.2,818.6 L719.2,818.2 L721.2,817.9 L723.1,817.5 L725.1,817.2 L727.1,816.8 L729.0,816.5 L731.0,816.1 L733.0,815.8 L734.9,815.4 L736.9,815.1 L738.9,814.8 L740.8,814.4 L742.8,814.1 L744.8,813.7 L746.7,813.4 L748.7,813.0 L750.7,812.7 L752.6,812.3 L754.6,812.0 L756.6,811.7 L758.5,811.3 L760.5,811.0 L762.5,810.6 L764.4,810.3 L766.4,809.9 L768.4,809.6 L770.3,809.2 L772.3,808.9 L774.3,808.5 L776.2,808.2 L778.2,807.8 L780.2,807.5 L782.1,807.1 L784.1,806.8 L786.1,806.4 L788.0,806.1 L790.0,805.7 L792.0,805.4 L793.9,805.0 L795.9,804.7 L797.9,804.3 L799.8,804.0 L801.8,803.6 L803.7,803.3 L805.7,802.9 L807.7,802.6 L809.6,802.2 L811.6,801.9 L813.6,801.5 L815.5,801.2 L817.5,800.8 L819.5,800.5 L821.4,800.1 L823.4,799.8 L825.4,799.4 L827.3,799.0 L829.3,798.7 L831.3,798.3 L833.2,798.0 L835.2,797.6 L837.1,797.3 L839.1,796.9 L841.1,796.5 L843.0,796.2 L845.0,795.8 L847.0,795.4 L848.9,795.1 L850.9,794.7 L852.9,794.3 L854.8,794.0 L856.8,793.6 L858.8,793.2 L860.7,792.9 L862.7,792.5 L864.6,792.1 L866.6,791.8 L868.6,791.4 L870.5,791.0 L872.5,790.6 L874.5,790.3 L876.4,789.9 L878.4,789.5 L880.4,789.2 L882.3,788.8 L884.3,788.4 L886.2,788.0 L888.2,787.7 L890.2,787.3 L892.1,786.9 L894.1,786.5 L896.1,786.1 L898.0,785.8 L900.0,785.4 L902.0,785.0 L903.9,784.6 L905.9,784.3 L907.8,783.9 L909.8,783.5 L911.8,783.1 L913.7,782.7 L915.7,782.4 L917.7,782.0 L919.6,781.6 L921.6,781.2 L923.5,780.8 L925.5,780.5 L927.5,780.1 L929.4,779.7 L931.4,779.3 L933.4,778.9 L935.3,778.6 L937.3,778.2 L939.2,777.8 L941.2,777.4 L943.2,777.0 L945.1,776.6 L947.1,776.2 L949.1,775.9 L951.0,775.5 L953.0,775.1 L954.9,774.8 L956.9,774.4 L958.9,774.1 L960.8,773.7 L962.8,773.3 L964.7,773.0 L966.7,772.6 L968.7,772.3 L970.6,771.9 L972.6,771.5 L974.5,771.2 L976.5,770.9 L978.5,770.5 L980.4,770.2 L982.4,769.9 L984.4,769.6 L986.3,769.3 L988.3,769.0 L990.2,768.7 L992.2,768.4 L994.2,768.0 L996.1,767.7 L998.1,767.3 L1000.0,767.0 L1002.0,766.7 L1004.0,766.3 L1005.9,766.0 L1007.9,765.6 L1009.8,765.3 L1011.8,764.9 L1013.8,764.6 L1015.7,764.2 L1017.7,763.9 L1019.6,763.5 L1021.6,763.1 L1023.6,762.8 L1025.5,762.4 L1027.5,762.1 L1029.4,761.7 L1031.4,761.3 L1033.3,761.0 L1035.3,760.6 L1037.3,760.2 L1039.2,759.8 L1041.2,759.5 L1043.1,759.1 L1045.1,758.7 L1047.1,758.3 L1049.0,758.0 L1051.0,757.6 L1052.9,757.2 L1054.9,756.9 L1056.9,756.5 L1058.8,756.1 L1060.8,755.7 L1062.7,755.4 L1064.7,755.0 L1066.6,754.6 L1068.6,754.3 L1070.6,753.9 L1072.5,753.5 L1074.5,753.1 L1076.4,752.8 L1078.4,752.4 L1080.3,752.0 L1082.3,751.6 L1084.3,751.3 L1086.2,750.9 L1088.2,750.5 L1090.1,750.1 L1092.1,749.8 L1094.0,749.4 L1096.0,749.0 L1098.0,748.6 L1099.9,748.3 L1101.9,747.9 L1103.8,747.5 L1105.8,747.1 L1107.7,746.7 L1109.7,746.4 L1111.7,746.0 L1113.6,745.6 L1115.6,745.2 L1117.5,744.8 L1119.5,744.4 L1121.4,744.1 L1123.4,743.7 L1125.4,743.3 L1127.3,742.9 L1129.3,742.5 L1131.2,742.2 L1133.2,741.8 L1135.1,741.4 L1137.1,741.0 L1139.0,740.6 L1141.0,740.3 L1143.0,739.9 L1144.9,739.5 L1146.9,739.1 L1148.8,738.7 L1150.8,738.3 L1152.7,738.0 L1154.7,737.6 L1156.6,737.2 L1158.6,736.8 L1160.5,736.4 L1162.5,736.0 L1164.5,735.6 L1166.4,735.2 L1168.4,734.8 L1170.3,734.4 L1172.3,734.0 L1174.2,733.6 L1176.2,733.2 L1178.1,732.8 L1180.1,732.4 L1182.0,732.0 L1184.0,731.6 L1185.9,731.1 L1187.9,730.7 L1189.9,730.3 L1191.8,729.9 L1193.8,729.5 L1195.7,729.0 L1197.7,728.6 L1199.6,728.2 L1201.6,727.7 L1203.5,727.3 L1205.5,726.9 L1207.4,726.4 L1209.4,726.0 L1211.3,725.5 L1213.3,725.1 L1215.2,724.6 L1217.2,724.2 L1219.1,723.8 L1221.1,723.3 L1223.0,722.8 L1225.0,722.4 L1226.9,721.9 L1228.9,721.5 L1230.8,721.0 L1232.8,720.5 L1234.8,720.1 L1236.7,719.6 L1238.7,719.1 L1240.6,718.7 L1242.6,718.2 L1244.5,717.7 L1246.5,717.2 L1248.4,716.8 L1250.4,716.3 L1252.3,715.8 L1254.3,715.3 L1256.2,714.8 L1258.2,714.3 L1260.1,713.9 L1262.1,713.4 L1264.0,712.9 L1266.0,712.5 L1267.9,712.0 L1269.9,711.6 L1271.8,711.1 L1273.8,710.6 L1275.7,710.2 L1277.7,709.7 L1279.6,709.2 L1281.6,708.7 L1283.5,708.3 L1285.5,707.8 L1287.4,707.3 L1289.4,706.9 L1291.3,706.4 L1293.2,705.9 L1295.2,705.4 L1297.1,705.0 L1299.1,704.5 L1301.0,704.0 L1303.0,703.5 L1304.9,703.0 L1306.9,702.6 L1308.8,702.1 L1310.8,701.6 L1312.7,701.1 L1314.7,700.7 L1316.6,700.2 L1318.6,699.7 L1320.5,699.2 L1322.5,698.7 L1324.4,698.2 L1326.4,697.7 L1328.3,697.3 L1330.3,696.8 L1332.2,696.3 L1334.1,695.8 L1336.1,695.3 L1338.0,694.8 L1340.0,694.3 L1341.9,693.8 L1343.9,693.3 L1345.8,692.8 L1347.8,692.3 L1349.7,691.8 L1351.7,691.3 L1353.6,690.8 L1355.6,690.3 L1357.5,689.8 L1359.4,689.3 L1361.4,688.8 L1363.3,688.3 L1365.3,687.8 L1367.2,687.3 L1369.2,686.8 L1371.1,686.3 L1373.1,685.8 L1375.0,685.3 L1376.9,684.8 L1378.9,684.3 L1380.8,683.8 L1382.8,683.3 L1384.7,682.8 L1386.7,682.3 L1388.6,681.8 L1390.6,681.3 L1392.5,680.8 L1394.4,680.3 L1396.4,679.8 L1398.3,679.3 L1400.3,678.8 L1402.2,678.3 L1404.2,677.8 L1406.1,677.3 L1408.0,676.8 L1410.0,676.3 L1411.9,675.8 L1413.9,675.3 L1415.8,674.8 L1417.7,674.3 L1419.7,673.8 L1421.6,673.3 L1423.6,672.8 L1425.5,672.3 L1427.4,671.8 L1429.4,671.3 L1431.3,670.8 L1433.3,670.3 L1435.2,669.8 L1437.1,669.3 L1439.1,668.7 L1441.0,668.2 L1443.0,667.7 L1444.9,667.2 L1446.8,666.7 L1448.8,666.2 L1450.7,665.7 L1452.7,665.2 L1454.6,664.7 L1456.5,664.2 L1458.5,663.7 L1460.4,663.1 L1462.3,662.6 L1464.3,662.1 L1466.2,661.6 L1468.2,661.1 L1470.1,660.6 L1472.0,660.1 L1474.0,659.6 L1475.9,659.0 L1477.8,658.5 L1479.8,658.0 L1481.7,657.5 L1483.6,657.0 L1485.6,656.5 L1487.5,655.9 L1489.4,655.4 L1491.4,654.9 L1493.3,654.4 L1495.3,653.9 L1497.2,653.3 L1499.1,652.8 L1501.1,652.3 L1503.0,651.8 L1504.9,651.2 L1506.9,650.7 L1508.8,650.2 L1510.7,649.6 L1512.6,649.1 L1514.6,648.6 L1516.5,648.0 L1518.4,647.5 L1520.4,647.0 L1522.3,646.4 L1524.2,645.9 L1526.2,645.4 L1528.1,644.8 L1530.0,644.3 L1532.0,643.7 L1533.9,643.2 L1535.8,642.6 L1537.7,642.1 L1539.7,641.6 L1541.6,641.0 L1543.5,640.5 L1545.5,639.9 L1547.4,639.4 L1549.3,638.8 L1551.2,638.3 L1553.2,637.7 L1555.1,637.2 L1557.0,636.6 L1558.9,636.1 L1560.9,635.5 L1562.8,634.9 L1564.7,634.4 L1566.7,633.8 L1568.6,633.3 L1570.5,632.7 L1572.4,632.1 L1574.4,631.6 L1576.3,631.0 L1578.2,630.5 L1580.1,629.9 L1582.0,629.3 L1584.0,628.8 L1585.9,628.2 L1587.8,627.6 L1589.7,627.0 L1591.7,626.5 L1593.6,625.9 L1595.5,625.3 L1597.4,624.7 L1599.3,624.2 L1601.3,623.6 L1603.2,623.0 L1605.1,622.4 L1607.0,621.9 L1608.9,621.3 L1610.9,620.7 L1612.8,620.1 L1614.7,619.5 L1616.6,619.0 L1618.5,618.4 L1620.5,617.8 L1622.4,617.2 L1624.3,616.6 L1626.2,616.0 L1628.1,615.5 L1630.0,614.9 L1631.9,614.3 L1633.9,613.7 L1635.8,613.1 L1637.7,612.5 L1639.6,611.9 L1641.5,611.4 L1643.4,610.8 L1645.4,610.2 L1647.3,609.6 L1649.2,609.0 L1651.1,608.4 L1653.0,607.8 L1654.9,607.2 L1656.8,606.6 L1658.7,606.0 L1660.6,605.4 L1662.6,604.8 L1664.5,604.2 L1666.4,603.6 L1668.3,603.0 L1670.2,602.4 L1672.1,601.8 L1674.0,601.2 L1675.9,600.6 L1677.8,600.0 L1679.7,599.4 L1681.6,598.8 L1683.6,598.2 L1685.5,597.6 L1687.4,597.0 L1689.3,596.4 L1691.2,595.8 L1693.1,595.2 L1695.0,594.6 L1696.9,594.0 L1698.8,593.5 L1700.7,592.9 L1702.6,592.3 L1704.5,591.7 L1706.4,591.1 L1708.3,590.5 L1710.2,590.0 L1712.1,589.4 L1714.0,588.8 L1715.9,588.2 L1717.8,587.5 L1719.7,586.9 L1721.6,586.3 L1723.5,585.7 L1725.4,585.1 L1727.3,584.5 L1729.2,583.9 L1731.1,583.3 L1733.0,582.7 L1734.9,582.0 L1736.8,581.4 L1738.7,580.8 L1740.6,580.2 L1742.5,579.6 L1744.4,578.9 L1746.3,578.3 L1748.2,577.7 L1750.1,577.1 L1752.0,576.4 L1753.8,575.8 L1755.7,575.2 L1757.6,574.6 L1759.5,573.9 L1761.4,573.3 L1763.3,572.7 L1765.2,572.0 L1767.1,571.4 L1769.0,570.8 L1770.9,570.1 L1772.8,569.5 L1774.6,568.9 L1776.5,568.2 L1778.4,567.6 L1780.3,567.0 L1782.2,566.3 L1784.1,565.7 L1786.0,565.0 L1787.9,564.4 L1789.7,563.8 L1791.6,563.1 L1793.5,562.5 L1795.4,561.8 L1797.3,561.2 L1799.2,560.5 L1801.0,559.9 L1802.9,559.2 L1804.8,558.6 L1806.7,557.9 L1808.6,557.3 L1810.4,556.6 L1812.3,556.0 L1814.2,555.3 L1816.1,554.7 L1818.0,554.0 L1819.8,553.4 L1821.7,552.7 L1823.6,552.0 L1825.5,551.4 L1827.4,550.7 L1829.2,550.0 L1831.1,549.4 L1833.0,548.7 L1834.9,548.0 L1836.7,547.4 L1838.6,546.7 L1840.5,546.0 L1842.3,545.4 L1844.2,544.7 L1846.1,544.0 L1848.0,543.3 L1849.8,542.7 L1851.7,542.0 L1853.6,541.3 L1855.4,540.6 L1857.3,540.0 L1859.2,539.3 L1861.0,538.6 L1862.9,537.9 L1864.8,537.2 L1866.6,536.6 L1868.5,535.9 L1870.4,535.2 L1872.2,534.5 L1874.1,533.8 L1876.0,533.1 L1877.8,532.4 L1879.7,531.8 L1881.6,531.1 L1883.4,530.4 L1885.3,529.7 L1887.1,529.0 L1889.0,528.3 L1890.9,527.6 L1892.7,526.9 L1894.6,526.2 L1896.4,525.6 L1898.3,524.9 L1900.2,524.2 L1902.0,523.5 L1903.9,522.8" stroke="#C00000" stroke-width="9.2" fill="none" stroke-linecap="round" stroke-dasharray="27.50 39.45" stroke-dashoffset="59.63"/>
</g>
<text transform="translate(208.60,971.00) scale(1.0900,1)" font-family="'Liberation Serif','DejaVu Serif',serif" font-weight="bold" font-size="69.5" text-anchor="end" letter-spacing="1.2" stroke="#fff" stroke-width="0.9" stroke-linejoin="round">0</text>
<text transform="translate(208.60,838.70) scale(1.0900,1)" font-family="'Liberation Serif','DejaVu Serif',serif" font-weight="bold" font-size="69.5" text-anchor="end" letter-spacing="1.2" stroke="#fff" stroke-width="0.9" stroke-linejoin="round">5</text>
<text transform="translate(208.60,706.50) scale(1.0900,1)" font-family="'Liberation Serif','DejaVu Serif',serif" font-weight="bold" font-size="69.5" text-anchor="end" letter-spacing="1.2" stroke="#fff" stroke-width="0.9" stroke-linejoin="round">10</text>
<text transform="translate(208.60,574.20) scale(1.0900,1)" font-family="'Liberation Serif','DejaVu Serif',serif" font-weight="bold" font-size="69.5" text-anchor="end" letter-spacing="1.2" stroke="#fff" stroke-width="0.9" stroke-linejoin="round">15</text>
<text transform="translate(208.60,441.90) scale(1.0900,1)" font-family="'Liberation Serif','DejaVu Serif',serif" font-weight="bold" font-size="69.5" text-anchor="end" letter-spacing="1.2" stroke="#fff" stroke-width="0.9" stroke-linejoin="round">20</text>
<text transform="translate(208.60,309.70) scale(1.0900,1)" font-family="'Liberation Serif','DejaVu Serif',serif" font-weight="bold" font-size="69.5" text-anchor="end" letter-spacing="1.2" stroke="#fff" stroke-width="0.9" stroke-linejoin="round">25</text>
<text transform="translate(208.60,177.40) scale(1.0900,1)" font-family="'Liberation Serif','DejaVu Serif',serif" font-weight="bold" font-size="69.5" text-anchor="end" letter-spacing="1.2" stroke="#fff" stroke-width="0.9" stroke-linejoin="round">30</text>
<text transform="translate(264.20,1053.30) scale(1.0900,1)" font-family="'Liberation Serif','DejaVu Serif',serif" font-weight="bold" font-size="69.5" text-anchor="middle" letter-spacing="1.2" stroke="#fff" stroke-width="0.9" stroke-linejoin="round">0</text>
<text transform="translate(443.40,1053.30) scale(1.0900,1)" font-family="'Liberation Serif','DejaVu Serif',serif" font-weight="bold" font-size="69.5" text-anchor="middle" letter-spacing="1.2" stroke="#fff" stroke-width="0.9" stroke-linejoin="round">1</text>
<text transform="translate(622.60,1053.30) scale(1.0900,1)" font-family="'Liberation Serif','DejaVu Serif',serif" font-weight="bold" font-size="69.5" text-anchor="middle" letter-spacing="1.2" stroke="#fff" stroke-width="0.9" stroke-linejoin="round">2</text>
<text transform="translate(801.80,1053.30) scale(1.0900,1)" font-family="'Liberation Serif','DejaVu Serif',serif" font-weight="bold" font-size="69.5" text-anchor="middle" letter-spacing="1.2" stroke="#fff" stroke-width="0.9" stroke-linejoin="round">3</text>
<text transform="translate(981.00,1053.30) scale(1.0900,1)" font-family="'Liberation Serif','DejaVu Serif',serif" font-weight="bold" font-size="69.5" text-anchor="middle" letter-spacing="1.2" stroke="#fff" stroke-width="0.9" stroke-linejoin="round">4</text>
<text transform="translate(1160.20,1053.30) scale(1.0900,1)" font-family="'Liberation Serif','DejaVu Serif',serif" font-weight="bold" font-size="69.5" text-anchor="middle" letter-spacing="1.2" stroke="#fff" stroke-width="0.9" stroke-linejoin="round">5</text>
<text transform="translate(1339.40,1053.30) scale(1.0900,1)" font-family="'Liberation Serif','DejaVu Serif',serif" font-weight="bold" font-size="69.5" text-anchor="middle" letter-spacing="1.2" stroke="#fff" stroke-width="0.9" stroke-linejoin="round">6</text>
<text transform="translate(1518.60,1053.30) scale(1.0900,1)" font-family="'Liberation Serif','DejaVu Serif',serif" font-weight="bold" font-size="69.5" text-anchor="middle" letter-spacing="1.2" stroke="#fff" stroke-width="0.9" stroke-linejoin="round">7</text>
<text transform="translate(1697.80,1053.30) scale(1.0900,1)" font-family="'Liberation Serif','DejaVu Serif',serif" font-weight="bold" font-size="69.5" text-anchor="middle" letter-spacing="1.2" stroke="#fff" stroke-width="0.9" stroke-linejoin="round">8</text>
<text transform="translate(1877.00,1053.30) scale(1.0900,1)" font-family="'Liberation Serif','DejaVu Serif',serif" font-weight="bold" font-size="69.5" text-anchor="middle" letter-spacing="1.2" stroke="#fff" stroke-width="0.9" stroke-linejoin="round">9</text>
<text transform="translate(2056.20,1053.30) scale(1.0900,1)" font-family="'Liberation Serif','DejaVu Serif',serif" font-weight="bold" font-size="69.5" text-anchor="middle" letter-spacing="1.2" stroke="#fff" stroke-width="0.9" stroke-linejoin="round">10</text>
<text transform="translate(0,1156.30)" font-family="'Liberation Serif','DejaVu Serif',serif" font-weight="bold" font-size="68" stroke="#fff" stroke-width="0.5" stroke-linejoin="round"><tspan x="958.38" textLength="182.88" lengthAdjust="spacingAndGlyphs">Strain</tspan> <tspan x="1165.87" textLength="119.48" lengthAdjust="spacingAndGlyphs">[%]</tspan></text>
<text transform="translate(90.00,0) rotate(-90)" font-family="'Liberation Serif','DejaVu Serif',serif" font-weight="bold" font-size="68" stroke="#fff" stroke-width="0.5" stroke-linejoin="round"><tspan x="-744.76" textLength="170.71" lengthAdjust="spacingAndGlyphs">Stress</tspan> <tspan x="-548.26" textLength="185.75" lengthAdjust="spacingAndGlyphs">[MPa]</tspan></text>
</g>
<g id="chart-bottom">
<path d="M633.5,1431.4 H728.5" stroke="#A9D18E" stroke-width="9.05" stroke-linecap="round"/>
<text transform="translate(0,1452.50)" font-family="'Liberation Serif','DejaVu Serif',serif" font-weight="bold" font-size="67" stroke="#fff" stroke-width="0.5" stroke-linejoin="round"><tspan x="736.22" textLength="228.40" lengthAdjust="spacingAndGlyphs">SUPUR</tspan> <tspan x="986.64" textLength="34.64" lengthAdjust="spacingAndGlyphs">6</tspan></text>
<path d="M1087.5,1431.4 H1181" stroke="#FFFF00" stroke-width="9.05" stroke-linecap="round"/>
<text transform="translate(0,1452.50)" font-family="'Liberation Serif','DejaVu Serif',serif" font-weight="bold" font-size="67" stroke="#fff" stroke-width="0.5" stroke-linejoin="round"><tspan x="1189.90" textLength="229.37" lengthAdjust="spacingAndGlyphs">SUPUR</tspan> <tspan x="1437.95" textLength="37.24" lengthAdjust="spacingAndGlyphs">7</tspan></text>
<path d="M265.90,1528.10 V2353.50 M242.90,2333.00 H2018.00" stroke="#000" stroke-width="7.0" fill="none"/>
<path d="M424.86,2333.00 V2353.50 M583.83,2333.00 V2353.50 M742.79,2333.00 V2353.50 M901.75,2333.00 V2353.50 M1060.72,2333.00 V2353.50 M1219.68,2333.00 V2353.50 M1378.65,2333.00 V2353.50 M1537.61,2333.00 V2353.50 M1696.57,2333.00 V2353.50 M1855.54,2333.00 V2353.50 M2014.50,2333.00 V2353.50 M242.90,2199.43 H265.90 M242.90,2065.87 H265.90 M242.90,1932.30 H265.90 M242.90,1798.73 H265.90 M242.90,1665.17 H265.90 M242.90,1531.60 H265.90" stroke="#000" stroke-width="7.0" fill="none"/>
<clipPath id="clipB"><rect x="0" y="1300" width="2129" height="1034.6"/></clipPath>
<g clip-path="url(#clipB)">
<path d="M268.9,2337.5 L268.8,2335.2 L268.7,2333.0 L268.8,2330.8 L268.8,2328.6 L269.0,2326.5 L269.2,2324.4 L269.4,2322.3 L269.7,2320.2 L270.1,2318.1 L270.5,2316.1 L271.0,2314.2 L271.5,2312.2 L272.1,2310.3 L272.8,2308.4 L273.4,2306.5 L274.2,2304.7 L275.0,2302.9 L275.8,2301.1 L276.7,2299.3 L277.6,2297.6 L278.6,2295.9 L279.6,2294.3 L280.6,2292.6 L281.7,2291.0 L282.8,2289.5 L284.0,2287.9 L285.2,2286.4 L286.5,2285.0 L287.7,2283.5 L289.1,2282.1 L290.4,2280.7 L291.8,2279.4 L293.2,2278.1 L294.6,2276.8 L296.1,2275.6 L297.6,2274.4 L299.1,2273.2 L300.7,2272.0 L302.3,2270.9 L303.9,2269.8 L305.5,2268.8 L307.1,2267.8 L308.8,2266.8 L310.5,2265.8 L312.2,2264.8 L313.9,2263.9 L315.7,2263.0 L317.5,2262.2 L319.3,2261.3 L321.1,2260.5 L322.9,2259.7 L324.7,2258.9 L326.6,2258.1 L328.4,2257.4 L330.3,2256.7 L332.2,2256.0 L334.1,2255.3 L336.0,2254.6 L337.9,2253.9 L339.9,2253.3 L341.8,2252.7 L343.7,2252.0 L345.7,2251.4 L347.6,2250.8 L349.6,2250.2 L351.6,2249.7 L353.5,2249.1 L355.5,2248.5 L357.5,2248.0 L359.4,2247.4 L361.4,2246.9 L363.4,2246.4 L365.3,2245.8 L367.3,2245.3 L369.3,2244.8 L371.2,2244.3 L373.2,2243.8 L375.1,2243.3 L377.1,2242.8 L379.1,2242.3 L381.0,2241.8 L383.0,2241.3 L385.0,2240.8 L386.9,2240.3 L388.9,2239.9 L390.8,2239.4 L392.8,2238.9 L394.8,2238.5 L396.7,2238.0 L398.7,2237.5 L400.6,2237.1 L402.6,2236.6 L404.6,2236.2 L406.5,2235.8 L408.5,2235.3 L410.4,2234.9 L412.4,2234.4 L414.3,2234.0 L416.3,2233.6 L418.3,2233.1 L420.2,2232.7 L422.2,2232.3 L424.1,2231.9 L426.1,2231.4 L428.0,2231.0 L430.0,2230.6 L431.9,2230.2 L433.9,2229.8 L435.8,2229.4 L437.8,2228.9 L439.7,2228.5 L441.7,2228.1 L443.6,2227.7 L445.6,2227.3 L447.5,2226.9 L449.5,2226.5 L451.4,2226.1 L453.4,2225.6 L455.3,2225.2 L457.3,2224.8 L459.2,2224.4 L461.1,2224.0 L463.1,2223.6 L465.0,2223.2 L467.0,2222.7 L468.9,2222.3 L470.9,2221.9 L472.8,2221.5 L474.8,2221.1 L476.7,2220.7 L478.6,2220.2 L480.6,2219.8 L482.5,2219.4 L484.5,2218.9 L486.4,2218.5 L488.3,2218.1 L490.3,2217.6 L492.2,2217.2 L494.2,2216.8 L496.1,2216.3 L498.0,2215.9 L500.0,2215.4 L501.9,2215.0 L503.9,2214.5 L505.8,2214.0 L507.7,2213.6 L509.7,2213.1 L511.6,2212.6 L513.5,2212.2 L515.5,2211.7 L517.4,2211.2 L519.3,2210.7 L521.3,2210.3 L523.2,2209.8 L525.1,2209.3 L527.1,2208.8 L529.0,2208.3 L530.9,2207.8 L532.9,2207.3 L534.8,2206.8 L536.7,2206.3 L538.7,2205.8 L540.6,2205.3 L542.5,2204.8 L544.4,2204.2 L546.4,2203.7 L548.3,2203.2 L550.2,2202.7 L552.2,2202.2 L554.1,2201.6 L556.0,2201.1 L557.9,2200.6 L559.9,2200.0 L561.8,2199.5 L563.7,2199.0 L565.6,2198.4 L567.6,2197.9 L569.5,2197.3 L571.4,2196.8 L573.4,2196.2 L575.3,2195.7 L577.2,2195.1 L579.1,2194.6 L581.0,2194.0 L583.0,2193.5 L584.9,2192.9 L586.8,2192.4 L588.7,2191.8 L590.7,2191.2 L592.6,2190.7 L594.5,2190.1 L596.4,2189.5 L598.4,2189.0 L600.3,2188.4 L602.2,2187.8 L604.1,2187.3 L606.0,2186.7 L608.0,2186.1 L609.9,2185.5 L611.8,2184.9 L613.7,2184.4 L615.6,2183.8 L617.6,2183.2 L619.5,2182.6 L621.4,2182.0 L623.3,2181.4 L625.2,2180.9 L627.2,2180.3 L629.1,2179.7 L631.0,2179.1 L632.9,2178.5 L634.8,2177.9 L636.8,2177.3 L638.7,2176.7 L640.6,2176.1 L642.5,2175.5 L644.4,2174.9 L646.4,2174.3 L648.3,2173.8 L650.2,2173.2 L652.1,2172.6 L654.0,2172.0 L655.9,2171.4 L657.9,2170.8 L659.8,2170.2 L661.7,2169.6 L663.6,2169.0 L665.5,2168.4 L667.4,2167.8 L669.4,2167.2 L671.3,2166.6 L673.2,2166.0 L675.1,2165.4 L677.0,2164.8 L678.9,2164.2 L680.9,2163.6 L682.8,2163.0 L684.7,2162.4 L686.6,2161.8 L688.5,2161.1 L690.4,2160.5 L692.4,2159.9 L694.3,2159.3 L696.2,2158.7 L698.1,2158.1 L700.0,2157.5 L701.9,2156.9 L703.8,2156.3 L705.8,2155.7 L707.7,2155.1 L709.6,2154.5 L711.5,2153.9 L713.4,2153.4 L715.3,2152.8 L717.3,2152.2 L719.2,2151.6 L721.1,2151.0 L723.0,2150.4 L724.9,2149.8 L726.8,2149.2 L728.8,2148.6 L730.7,2148.0 L732.6,2147.4 L734.5,2146.8 L736.4,2146.2 L738.3,2145.6 L740.2,2145.0 L742.2,2144.4 L744.1,2143.8 L746.0,2143.2 L747.9,2142.6 L749.8,2142.0 L751.7,2141.4 L753.6,2140.8 L755.5,2140.2 L757.5,2139.6 L759.4,2139.0 L761.3,2138.4 L763.2,2137.8 L765.1,2137.2 L767.0,2136.6 L768.9,2136.0 L770.8,2135.4 L772.7,2134.8 L774.7,2134.2 L776.6,2133.6 L778.5,2133.0 L780.4,2132.4 L782.3,2131.8 L784.2,2131.2 L786.1,2130.5 L788.0,2129.9 L789.9,2129.3 L791.8,2128.7 L793.7,2128.1 L795.6,2127.5 L797.6,2126.9 L799.5,2126.3 L801.4,2125.7 L803.3,2125.0 L805.2,2124.4 L807.1,2123.8 L809.0,2123.2 L810.9,2122.6 L812.8,2122.0 L814.7,2121.3 L816.6,2120.7 L818.5,2120.1 L820.4,2119.5 L822.3,2118.9 L824.2,2118.2 L826.1,2117.6 L828.0,2117.0 L829.9,2116.4 L831.8,2115.7 L833.7,2115.1 L835.6,2114.5 L837.5,2113.8 L839.4,2113.2 L841.3,2112.6 L843.2,2111.9 L845.1,2111.3 L847.0,2110.7 L848.8,2110.0 L850.7,2109.4 L852.6,2108.7 L854.5,2108.1 L856.4,2107.4 L858.3,2106.8 L860.2,2106.1 L862.1,2105.5 L864.0,2104.8 L865.9,2104.2 L867.8,2103.5 L869.6,2102.9 L871.5,2102.2 L873.4,2101.6 L875.3,2100.9 L877.2,2100.2 L879.1,2099.6 L880.9,2098.9 L882.8,2098.2 L884.7,2097.6 L886.6,2096.9 L888.5,2096.2 L890.3,2095.5 L892.2,2094.9 L894.1,2094.2 L896.0,2093.5 L897.9,2092.8 L899.7,2092.1 L901.6,2091.5 L903.5,2090.8 L905.4,2090.1 L907.2,2089.4 L909.1,2088.7 L911.0,2088.0 L912.8,2087.3 L914.7,2086.6 L916.6,2085.9 L918.4,2085.2 L920.3,2084.5 L922.2,2083.8 L924.0,2083.0 L925.9,2082.3 L927.8,2081.6 L929.6,2080.9 L931.5,2080.2 L933.4,2079.5 L935.2,2078.7 L937.1,2078.0 L938.9,2077.3 L940.8,2076.5 L942.6,2075.8 L944.5,2075.1 L946.4,2074.3 L948.2,2073.6 L950.1,2072.8 L951.9,2072.1 L953.8,2071.3 L955.6,2070.6 L957.5,2069.8 L959.3,2069.1 L961.2,2068.3 L963.0,2067.5 L964.9,2066.8 L966.7,2066.0 L968.5,2065.2 L970.4,2064.5 L972.2,2063.7 L974.1,2062.9 L975.9,2062.1 L977.7,2061.3 L979.6,2060.5 L981.4,2059.8 L983.2,2059.0 L985.1,2058.2 L986.9,2057.4 L988.7,2056.6 L990.6,2055.8 L992.4,2054.9 L994.2,2054.1 L996.1,2053.3 L997.9,2052.5 L999.7,2051.7 L1001.5,2050.9 L1003.4,2050.0 L1005.2,2049.2 L1007.0,2048.4 L1008.8,2047.6 L1010.6,2046.7 L1012.5,2045.9 L1014.3,2045.0 L1016.1,2044.2 L1017.9,2043.4 L1019.7,2042.5 L1021.5,2041.7 L1023.3,2040.8 L1025.1,2039.9 L1027.0,2039.1 L1028.8,2038.2 L1030.6,2037.4 L1032.4,2036.5 L1034.2,2035.6 L1036.0,2034.8 L1037.8,2033.9 L1039.6,2033.0 L1041.4,2032.1 L1043.2,2031.2 L1045.0,2030.4 L1046.8,2029.5 L1048.6,2028.6 L1050.4,2027.7 L1052.2,2026.8 L1054.0,2025.9 L1055.7,2025.0 L1057.5,2024.1 L1059.3,2023.2 L1061.1,2022.3 L1062.9,2021.4 L1064.7,2020.5 L1066.5,2019.5 L1068.2,2018.6 L1070.0,2017.7 L1071.8,2016.8 L1073.6,2015.9 L1075.4,2014.9 L1077.1,2014.0 L1078.9,2013.1 L1080.7,2012.1 L1082.5,2011.2 L1084.2,2010.3 L1086.0,2009.3 L1087.8,2008.4 L1089.5,2007.4 L1091.3,2006.5 L1093.1,2005.5 L1094.8,2004.6 L1096.6,2003.6 L1098.4,2002.7 L1100.1,2001.7 L1101.9,2000.7 L1103.6,1999.8 L1105.4,1998.8 L1107.2,1997.8 L1108.9,1996.9 L1110.7,1995.9 L1112.4,1994.9 L1114.2,1993.9 L1115.9,1993.0 L1117.7,1992.0 L1119.4,1991.0 L1121.2,1990.0 L1122.9,1989.0 L1124.7,1988.0 L1126.4,1987.0 L1128.1,1986.0 L1129.9,1985.0 L1131.6,1984.0 L1133.4,1983.0 L1135.1,1982.0 L1136.8,1981.0 L1138.6,1980.0 L1140.3,1979.0 L1142.0,1978.0 L1143.8,1976.9 L1145.5,1975.9 L1147.2,1974.9 L1148.9,1973.9 L1150.7,1972.9 L1152.4,1971.8 L1154.1,1970.8 L1155.8,1969.8 L1157.6,1968.7 L1159.3,1967.7 L1161.0,1966.6 L1162.7,1965.6 L1164.4,1964.6 L1166.1,1963.5 L1167.9,1962.5 L1169.6,1961.4 L1171.3,1960.4 L1173.0,1959.3 L1174.7,1958.3 L1176.4,1957.2 L1178.1,1956.1 L1179.8,1955.1 L1181.5,1954.0 L1183.2,1952.9 L1184.9,1951.9 L1186.6,1950.8 L1188.3,1949.7 L1190.0,1948.7 L1191.7,1947.6 L1193.4,1946.5 L1195.1,1945.4 L1196.8,1944.3 L1198.4,1943.3 L1200.1,1942.2 L1201.8,1941.1 L1203.5,1940.0 L1205.2,1938.9 L1206.9,1937.8 L1208.5,1936.7 L1210.2,1935.6 L1211.9,1934.5 L1213.6,1933.4 L1215.3,1932.3 L1216.9,1931.2 L1218.6,1930.1 L1220.3,1929.0 L1221.9,1927.9 L1223.6,1926.8 L1225.3,1925.6 L1226.9,1924.5 L1228.6,1923.4 L1230.3,1922.3 L1231.9,1921.2 L1233.6,1920.0 L1235.2,1918.9 L1236.9,1917.8 L1238.6,1916.6 L1240.2,1915.5 L1241.9,1914.4 L1243.5,1913.2 L1245.2,1912.1 L1246.8,1911.0 L1248.5,1909.8 L1250.1,1908.7 L1251.7,1907.5 L1253.4,1906.4 L1255.0,1905.2 L1256.7,1904.1 L1258.3,1902.9 L1259.9,1901.8 L1261.6,1900.5 L1263.2,1899.3 L1264.8,1898.1 L1266.5,1896.8 L1268.1,1895.6 L1269.7,1894.3 L1271.4,1893.1 L1273.0,1891.9 L1274.6,1890.6 L1276.2,1889.4 L1277.9,1888.1 L1279.5,1886.9 L1281.1,1885.6 L1282.7,1884.4 L1284.3,1883.1 L1285.9,1881.9 L1287.5,1880.6 L1289.2,1879.4 L1290.8,1878.2 L1292.4,1876.9 L1294.0,1875.7 L1295.6,1874.5 L1297.2,1873.2 L1298.8,1872.0 L1300.4,1870.8 L1302.0,1869.6 L1303.6,1868.4 L1305.2,1867.1 L1306.8,1865.9 L1308.4,1864.7 L1310.0,1863.4 L1311.6,1862.2 L1313.1,1861.0 L1314.7,1859.7 L1316.3,1858.5 L1317.9,1857.3 L1319.5,1856.0 L1321.1,1854.8 L1322.6,1853.6 L1324.2,1852.3 L1325.8,1851.1 L1327.4,1849.8 L1328.9,1848.6 L1330.5,1847.3 L1332.1,1846.1 L1333.7,1844.8 L1335.2,1843.6 L1336.8,1842.3 L1338.4,1841.1 L1339.9,1839.8 L1341.5,1838.5 L1343.0,1837.3 L1344.6,1836.0 L1346.2,1834.8 L1347.7,1833.5 L1349.3,1832.2 L1350.8,1831.0 L1352.4,1829.7 L1353.9,1828.4 L1355.5,1827.1 L1357.0,1825.9 L1358.6,1824.6 L1360.1,1823.3 L1361.6,1822.0 L1363.2,1820.8 L1364.7,1819.5 L1366.2,1818.2 L1367.8,1816.9 L1369.3,1815.6 L1370.9,1814.3 L1372.4,1813.1 L1373.9,1811.8 L1375.4,1810.5 L1377.0,1809.2 L1378.5,1807.9 L1380.0,1806.6 L1381.5,1805.3 L1383.1,1804.0 L1384.6,1802.7 L1386.1,1801.4 L1387.6,1800.1 L1389.1,1798.8 L1390.6,1797.5 L1392.1,1796.2 L1393.6,1794.9 L1395.1,1793.6 L1396.7,1792.3 L1398.2,1791.0 L1399.7,1789.7 L1401.2,1788.4 L1402.7,1787.1 L1404.2,1785.7 L1405.7,1784.4 L1407.1,1783.1 L1408.6,1781.8 L1410.1,1780.5 L1411.6,1779.2 L1413.1,1777.8 L1414.6,1776.5 L1416.1,1775.2 L1417.6,1773.9 L1419.0,1772.5 L1420.5,1771.2 L1422.0,1769.9 L1423.5,1768.6 L1425.0,1767.2 L1426.4,1765.9 L1427.9,1764.6 L1429.4,1763.2 L1430.8,1761.9 L1432.3,1760.6 L1433.8,1759.2 L1435.2,1757.9 L1436.7,1756.5 L1438.2,1755.2 L1439.6,1753.8 L1441.1,1752.5 L1442.5,1751.1 L1444.0,1749.8 L1445.4,1748.5 L1446.9,1747.1 L1448.3,1745.8 L1449.8,1744.4 L1451.2,1743.1 L1452.7,1741.8 L1454.1,1740.4 L1455.5,1739.1 L1457.0,1737.8 L1458.4,1736.4 L1459.9,1735.1 L1461.3,1733.8 L1462.7,1732.4 L1464.1,1731.1 L1465.6,1729.8 L1467.0,1728.4 L1468.4,1727.1 L1469.9,1725.7 L1471.3,1724.4 L1472.7,1723.1 L1474.1,1721.7 L1475.5,1720.4 L1476.9,1719.0 L1478.4,1717.7 L1479.8,1716.3 L1481.2,1714.9 L1482.6,1713.5 L1484.0,1712.1 L1485.4,1710.7 L1486.8,1709.3 L1488.2,1707.8 L1489.6,1706.4 L1491.0,1705.0 L1492.4,1703.5 L1493.8,1702.1 L1495.2,1700.7 L1496.6,1699.2 L1498.0,1697.8 L1499.4,1696.4 L1500.7,1694.9 L1502.1,1693.5 L1503.5,1692.0 L1504.9,1690.6 L1506.3,1689.1 L1507.6,1687.7 L1509.0,1686.2 L1510.4,1684.8 L1511.8,1683.3 L1513.1,1681.8 L1514.5,1680.4 L1515.9,1678.9 L1517.2,1677.5 L1518.6,1676.0 L1520.0,1674.5 L1521.3,1673.1 L1522.7,1671.6 L1524.0,1670.1 L1525.4,1668.6 L1526.7,1667.2 L1528.1,1665.7 L1529.4,1664.2 L1530.8,1662.7 L1532.1,1661.3 L1533.5,1659.8 L1534.8,1658.3 L1536.2,1656.8 L1537.5,1655.3 L1538.8,1653.8 L1540.2,1652.3 L1541.5,1650.8 L1542.8,1649.3 L1544.2,1647.8 L1545.5,1646.3 L1546.8,1644.8 L1548.2,1643.3 L1549.5,1641.8 L1550.8,1640.3 L1552.1,1638.8 L1553.4,1637.3 L1554.8,1635.8 L1556.1,1634.3 L1557.4,1632.8 L1558.7,1631.2 L1560.0,1629.7 L1561.3,1628.2 L1562.6,1626.7 L1563.9,1625.2 L1565.2,1623.6 L1566.5,1622.1 L1567.8,1620.6 L1569.1,1619.0 L1570.4,1617.5 L1571.7,1616.0 L1573.0,1614.4 L1574.3,1612.9 L1575.6,1611.4 L1576.8,1609.8 L1578.1,1608.3 L1579.4,1606.7 L1580.7,1605.2 L1582.0,1603.6 L1583.2,1602.1 L1584.5,1600.5 L1585.8,1599.0 L1587.1,1597.4 L1588.3,1595.9 L1589.6,1594.3 L1590.9,1592.8 L1592.1,1591.2 L1593.4,1589.6 L1594.6,1588.1 L1595.9,1586.5 L1597.2,1584.9 L1598.4,1583.4 L1599.7,1581.8 L1600.9,1580.2 L1602.2,1578.6 L1603.4,1577.1 L1604.7,1575.5 L1605.9,1573.9" stroke="#A9D18E" stroke-width="9.05" fill="none" stroke-linecap="butt" stroke-linejoin="round"/><circle cx="1605.9" cy="1573.9" r="4.53" fill="#A9D18E"/>
<path d="M268.4,2337.5 L269.0,2335.4 L269.6,2333.3 L270.4,2331.3 L271.2,2329.4 L272.1,2327.6 L273.0,2325.8 L274.0,2324.1 L275.1,2322.5 L276.3,2321.0 L277.5,2319.5 L278.7,2318.1 L280.1,2316.7 L281.4,2315.4 L282.9,2314.2 L284.3,2313.0 L285.8,2311.9 L287.4,2310.8 L289.0,2309.8 L290.6,2308.8 L292.3,2307.9 L293.9,2307.0 L295.7,2306.1 L297.4,2305.3 L299.2,2304.6 L301.0,2303.8 L302.8,2303.2 L304.6,2302.5 L306.5,2301.9 L308.3,2301.3 L310.2,2300.7 L312.1,2300.2 L314.0,2299.7 L316.0,2299.2 L317.9,2298.7 L319.9,2298.3 L321.9,2297.9 L323.9,2297.5 L325.9,2297.1 L327.9,2296.7 L329.9,2296.4 L331.9,2296.1 L333.9,2295.7 L336.0,2295.4 L338.0,2295.1 L340.0,2294.9 L342.1,2294.6 L344.1,2294.3 L346.2,2294.1 L348.2,2293.8 L350.2,2293.5 L352.3,2293.3 L354.3,2293.0 L356.3,2292.8 L358.4,2292.5 L360.4,2292.3 L362.4,2292.0 L364.5,2291.8 L366.5,2291.6 L368.5,2291.3 L370.5,2291.1 L372.6,2290.9 L374.6,2290.6 L376.6,2290.4 L378.6,2290.2 L380.6,2290.0 L382.6,2289.7 L384.7,2289.5 L386.7,2289.3 L388.7,2289.1 L390.7,2288.9 L392.7,2288.7 L394.7,2288.5 L396.7,2288.3 L398.7,2288.1 L400.7,2287.9 L402.7,2287.7 L404.7,2287.5 L406.7,2287.3 L408.7,2287.1 L410.7,2286.9 L412.7,2286.7 L414.7,2286.5 L416.7,2286.3 L418.7,2286.1 L420.7,2285.9 L422.7,2285.7 L424.7,2285.6 L426.7,2285.4 L428.6,2285.2 L430.6,2285.0 L432.6,2284.8 L434.6,2284.6 L436.6,2284.4 L438.6,2284.3 L440.6,2284.1 L442.5,2283.9 L444.5,2283.7 L446.5,2283.5 L448.5,2283.4 L450.5,2283.2 L452.5,2283.0 L454.4,2282.8 L456.4,2282.6 L458.4,2282.5 L460.4,2282.3 L462.3,2282.1 L464.3,2281.9 L466.3,2281.7 L468.3,2281.6 L470.3,2281.4 L472.2,2281.2 L474.2,2281.0 L476.2,2280.8 L478.2,2280.6 L480.1,2280.5 L482.1,2280.3 L484.1,2280.1 L486.0,2279.9 L488.0,2279.7 L490.0,2279.5 L492.0,2279.3 L493.9,2279.1 L495.9,2279.0 L497.9,2278.8 L499.8,2278.6 L501.8,2278.4 L503.8,2278.2 L505.7,2278.0 L507.7,2277.8 L509.7,2277.6 L511.7,2277.4 L513.6,2277.2 L515.6,2277.0 L517.6,2276.7 L519.5,2276.5 L521.5,2276.3 L523.5,2276.1 L525.4,2275.9 L527.4,2275.7 L529.4,2275.4 L531.4,2275.2 L533.3,2275.0 L535.3,2274.8 L537.3,2274.5 L539.2,2274.3 L541.2,2274.1 L543.2,2273.8 L545.1,2273.6 L547.1,2273.4 L549.1,2273.1 L551.1,2272.9 L553.0,2272.6 L555.0,2272.4 L557.0,2272.1 L558.9,2271.8 L560.9,2271.6 L562.9,2271.3 L564.9,2271.0 L566.8,2270.8 L568.8,2270.5 L570.8,2270.2 L572.8,2269.9 L574.7,2269.6 L576.7,2269.4 L578.7,2269.1 L580.7,2268.8 L582.7,2268.5 L584.6,2268.2 L586.6,2267.9 L588.6,2267.6 L590.6,2267.3 L592.6,2267.0 L594.5,2266.7 L596.5,2266.4 L598.5,2266.1 L600.5,2265.7 L602.5,2265.4 L604.4,2265.1 L606.4,2264.8 L608.4,2264.5 L610.4,2264.2 L612.4,2263.8 L614.3,2263.5 L616.3,2263.2 L618.3,2262.9 L620.3,2262.5 L622.3,2262.2 L624.3,2261.9 L626.2,2261.6 L628.2,2261.2 L630.2,2260.9 L632.2,2260.6 L634.2,2260.2 L636.2,2259.9 L638.1,2259.6 L640.1,2259.2 L642.1,2258.9 L644.1,2258.6 L646.1,2258.2 L648.1,2257.9 L650.1,2257.6 L652.0,2257.2 L654.0,2256.9 L656.0,2256.6 L658.0,2256.3 L660.0,2255.9 L662.0,2255.6 L664.0,2255.3 L665.9,2254.9 L667.9,2254.6 L669.9,2254.3 L671.9,2254.0 L673.9,2253.6 L675.9,2253.3 L677.9,2253.0 L679.8,2252.7 L681.8,2252.3 L683.8,2252.0 L685.8,2251.7 L687.8,2251.4 L689.8,2251.1 L691.8,2250.8 L693.7,2250.5 L695.7,2250.2 L697.7,2249.8 L699.7,2249.5 L701.7,2249.2 L703.7,2248.9 L705.6,2248.6 L707.6,2248.3 L709.6,2248.0 L711.6,2247.8 L713.6,2247.5 L715.6,2247.2 L717.6,2246.9 L719.5,2246.6 L721.5,2246.3 L723.5,2246.0 L725.5,2245.7 L727.5,2245.4 L729.5,2245.2 L731.4,2244.9 L733.4,2244.6 L735.4,2244.3 L737.4,2244.0 L739.4,2243.7 L741.4,2243.5 L743.3,2243.2 L745.3,2242.9 L747.3,2242.6 L749.3,2242.4 L751.3,2242.1 L753.3,2241.8 L755.2,2241.5 L757.2,2241.2 L759.2,2241.0 L761.2,2240.7 L763.2,2240.4 L765.1,2240.1 L767.1,2239.9 L769.1,2239.6 L771.1,2239.3 L773.1,2239.0 L775.1,2238.8 L777.0,2238.5 L779.0,2238.2 L781.0,2237.9 L783.0,2237.7 L785.0,2237.4 L786.9,2237.1 L788.9,2236.8 L790.9,2236.5 L792.9,2236.3 L794.9,2236.0 L796.8,2235.7 L798.8,2235.4 L800.8,2235.1 L802.8,2234.9 L804.8,2234.6 L806.7,2234.3 L808.7,2234.0 L810.7,2233.7 L812.7,2233.4 L814.6,2233.1 L816.6,2232.8 L818.6,2232.6 L820.6,2232.3 L822.5,2232.0 L824.5,2231.7 L826.5,2231.4 L828.5,2231.1 L830.5,2230.8 L832.4,2230.5 L834.4,2230.2 L836.4,2229.9 L838.4,2229.5 L840.3,2229.2 L842.3,2228.9 L844.3,2228.6 L846.3,2228.3 L848.2,2228.0 L850.2,2227.7 L852.2,2227.4 L854.1,2227.0 L856.1,2226.7 L858.1,2226.4 L860.1,2226.1 L862.0,2225.7 L864.0,2225.4 L866.0,2225.1 L868.0,2224.8 L869.9,2224.4 L871.9,2224.1 L873.9,2223.8 L875.8,2223.4 L877.8,2223.1 L879.8,2222.8 L881.8,2222.4 L883.7,2222.1 L885.7,2221.7 L887.7,2221.4 L889.6,2221.1 L891.6,2220.7 L893.6,2220.4 L895.5,2220.0 L897.5,2219.7 L899.5,2219.3 L901.4,2219.0 L903.4,2218.6 L905.4,2218.2 L907.3,2217.9 L909.3,2217.5 L911.3,2217.2 L913.2,2216.8 L915.2,2216.4 L917.2,2216.1 L919.1,2215.7 L921.1,2215.3 L923.1,2215.0 L925.0,2214.6 L927.0,2214.2 L929.0,2213.9 L930.9,2213.5 L932.9,2213.1 L934.9,2212.7 L936.8,2212.3 L938.8,2212.0 L940.8,2211.6 L942.7,2211.2 L944.7,2210.8 L946.6,2210.4 L948.6,2210.0 L950.6,2209.6 L952.5,2209.3 L954.5,2208.9 L956.4,2208.5 L958.4,2208.1 L960.4,2207.7 L962.3,2207.3 L964.3,2206.9 L966.2,2206.5 L968.2,2206.1 L970.2,2205.7 L972.1,2205.3 L974.1,2204.9 L976.0,2204.5 L978.0,2204.1 L980.0,2203.6 L981.9,2203.2 L983.9,2202.8 L985.8,2202.4 L987.8,2202.1 L989.7,2201.7 L991.7,2201.4 L993.7,2201.1 L995.6,2200.7 L997.6,2200.3 L999.5,2200.0 L1001.5,2199.6 L1003.4,2199.2 L1005.4,2198.9 L1007.3,2198.5 L1009.3,2198.1 L1011.2,2197.7 L1013.2,2197.3 L1015.1,2196.9 L1017.1,2196.5 L1019.1,2196.0 L1021.0,2195.6 L1023.0,2195.2 L1024.9,2194.7 L1026.9,2194.3 L1028.8,2193.8 L1030.8,2193.3 L1032.7,2192.9 L1034.7,2192.4 L1036.6,2191.9 L1038.6,2191.4 L1040.5,2190.9 L1042.5,2190.4 L1044.4,2189.9 L1046.3,2189.4 L1048.3,2188.9 L1050.2,2188.4 L1052.2,2187.9 L1054.1,2187.4 L1056.1,2186.9 L1058.0,2186.4 L1060.0,2185.9 L1061.9,2185.4 L1063.9,2184.9 L1065.8,2184.4 L1067.8,2183.9 L1069.7,2183.4 L1071.6,2182.9 L1073.6,2182.4 L1075.5,2181.9 L1077.5,2181.4 L1079.4,2180.9 L1081.4,2180.4 L1083.3,2179.9 L1085.2,2179.4 L1087.2,2178.9 L1089.1,2178.4 L1091.1,2177.9 L1093.0,2177.4 L1094.9,2177.0 L1096.9,2176.5 L1098.8,2176.0 L1100.8,2175.5 L1102.7,2175.0 L1104.6,2174.5 L1106.6,2174.0 L1108.5,2173.5 L1110.4,2173.0 L1112.4,2172.5 L1114.3,2172.0 L1116.2,2171.5 L1118.2,2170.9 L1120.1,2170.4 L1122.1,2169.9 L1124.0,2169.4 L1125.9,2168.9 L1127.9,2168.4 L1129.8,2167.9 L1131.7,2167.3 L1133.7,2166.8 L1135.6,2166.3 L1137.5,2165.8 L1139.5,2165.3 L1141.4,2164.7 L1143.3,2164.2 L1145.2,2163.7 L1147.2,2163.2 L1149.1,2162.6 L1151.0,2162.1 L1153.0,2161.6 L1154.9,2161.1 L1156.8,2160.6 L1158.7,2160.0 L1160.7,2159.5 L1162.6,2159.0 L1164.5,2158.5 L1166.5,2158.0 L1168.4,2157.5 L1170.3,2157.0 L1172.2,2156.6 L1174.2,2156.1 L1176.1,2155.6 L1178.0,2155.1 L1179.9,2154.6 L1181.9,2154.1 L1183.8,2153.6 L1185.7,2153.1 L1187.6,2152.6 L1189.5,2152.1 L1191.5,2151.6 L1193.4,2151.1 L1195.3,2150.6 L1197.2,2150.1 L1199.2,2149.6 L1201.1,2149.0 L1203.0,2148.5 L1204.9,2148.0 L1206.8,2147.5 L1208.7,2146.9 L1210.7,2146.4 L1212.6,2145.8 L1214.5,2145.3 L1216.4,2144.7 L1218.3,2144.1 L1220.2,2143.6 L1222.2,2143.0 L1224.1,2142.4 L1226.0,2141.8 L1227.9,2141.2 L1229.8,2140.6 L1231.7,2140.0 L1233.6,2139.4 L1235.6,2138.8 L1237.5,2138.1 L1239.4,2137.5 L1241.3,2136.9 L1243.2,2136.3 L1245.1,2135.6 L1247.0,2135.0 L1248.9,2134.4 L1250.8,2133.7 L1252.8,2133.1 L1254.7,2132.5 L1256.6,2131.8 L1258.5,2131.2 L1260.4,2130.6 L1262.3,2129.9 L1264.2,2129.3 L1266.1,2128.6 L1268.0,2128.0 L1269.9,2127.4 L1271.8,2126.7 L1273.7,2126.1 L1275.6,2125.5 L1277.5,2124.9 L1279.4,2124.2 L1281.3,2123.6 L1283.2,2123.0 L1285.1,2122.3 L1287.0,2121.7 L1288.9,2121.1 L1290.8,2120.4 L1292.7,2119.8 L1294.6,2119.2 L1296.5,2118.5 L1298.4,2117.9 L1300.3,2117.2 L1302.2,2116.6 L1304.1,2116.0 L1306.0,2115.3 L1307.9,2114.7 L1309.8,2114.0 L1311.7,2113.4 L1313.6,2112.7 L1315.5,2112.1 L1317.4,2111.4 L1319.3,2110.8 L1321.2,2110.1 L1323.1,2109.5 L1325.0,2108.8 L1326.9,2108.2 L1328.8,2107.5 L1330.6,2106.9 L1332.5,2106.2 L1334.4,2105.5 L1336.3,2104.9 L1338.2,2104.2 L1340.1,2103.5 L1342.0,2102.9 L1343.9,2102.2 L1345.8,2101.5 L1347.6,2100.9 L1349.5,2100.2 L1351.4,2099.5 L1353.3,2098.9 L1355.2,2098.2 L1357.1,2097.5 L1359.0,2096.8 L1360.8,2096.2 L1362.7,2095.5 L1364.6,2094.8 L1366.5,2094.1 L1368.4,2093.4 L1370.2,2092.8 L1372.1,2092.1 L1374.0,2091.4 L1375.9,2090.7 L1377.8,2090.0 L1379.6,2089.3 L1381.5,2088.6 L1383.4,2087.9 L1385.3,2087.2 L1387.2,2086.6 L1389.0,2085.9 L1390.9,2085.2 L1392.8,2084.5 L1394.7,2083.8 L1396.5,2083.0 L1398.4,2082.3 L1400.3,2081.6 L1402.2,2080.9 L1404.0,2080.2 L1405.9,2079.4 L1407.8,2078.7 L1409.7,2077.9 L1411.5,2077.2 L1413.4,2076.4 L1415.3,2075.6 L1417.1,2074.9 L1419.0,2074.1 L1420.9,2073.3 L1422.7,2072.5 L1424.6,2071.8 L1426.5,2071.0 L1428.3,2070.1 L1430.2,2069.3 L1432.1,2068.5 L1433.9,2067.7 L1435.8,2066.9 L1437.7,2066.0 L1439.5,2065.2 L1441.4,2064.4 L1443.3,2063.5 L1445.1,2062.7 L1447.0,2061.9 L1448.9,2061.1 L1450.7,2060.3 L1452.6,2059.5 L1454.4,2058.7 L1456.3,2057.9 L1458.2,2057.1 L1460.0,2056.4 L1461.9,2055.6 L1463.7,2054.8 L1465.6,2054.1 L1467.4,2053.3 L1469.3,2052.6 L1471.2,2051.8 L1473.0,2051.0 L1474.9,2050.3 L1476.7,2049.5 L1478.6,2048.8 L1480.4,2048.0 L1482.3,2047.2 L1484.1,2046.5 L1486.0,2045.7 L1487.8,2044.9 L1489.7,2044.2 L1491.5,2043.4 L1493.4,2042.6 L1495.2,2041.8 L1497.1,2041.1 L1498.9,2040.3 L1500.8,2039.5 L1502.6,2038.8 L1504.5,2038.0 L1506.3,2037.2 L1508.2,2036.4 L1510.0,2035.7 L1511.9,2034.9 L1513.7,2034.1 L1515.6,2033.3 L1517.4,2032.5 L1519.2,2031.8 L1521.1,2031.0 L1522.9,2030.2 L1524.8,2029.4 L1526.6,2028.6 L1528.5,2027.9 L1530.3,2027.1 L1532.1,2026.3 L1534.0,2025.5 L1535.8,2024.7 L1537.6,2023.9 L1539.5,2023.2 L1541.3,2022.4 L1543.2,2021.6 L1545.0,2020.8 L1546.8,2020.0 L1548.7,2019.2 L1550.5,2018.4 L1552.3,2017.7 L1554.2,2016.9 L1556.0,2016.1 L1557.8,2015.3 L1559.7,2014.5 L1561.5,2013.7 L1563.3,2012.9 L1565.2,2012.1 L1567.0,2011.3 L1568.8,2010.5 L1570.7,2009.7 L1572.5,2008.9 L1574.3,2008.1 L1576.1,2007.3 L1578.0,2006.5 L1579.8,2005.7 L1581.6,2004.9 L1583.4,2004.1 L1585.3,2003.4 L1587.1,2002.6 L1588.9,2001.8 L1590.7,2001.0 L1592.6,2000.3 L1594.4,1999.5 L1596.2,1998.8 L1598.0,1998.0 L1599.9,1997.3 L1601.7,1996.5 L1603.5,1995.8 L1605.3,1995.1 L1607.1,1994.3 L1609.0,1993.6 L1610.8,1992.9 L1612.6,1992.1 L1614.4,1991.4 L1616.2,1990.7 L1618.0,1989.9 L1619.9,1989.2 L1621.7,1988.4 L1623.5,1987.5 L1625.3,1986.7 L1627.1,1985.8 L1628.9,1985.0 L1630.7,1984.1 L1632.6,1983.3 L1634.4,1982.4 L1636.2,1981.6 L1638.0,1980.7 L1639.8,1979.9 L1641.6,1979.0 L1643.4,1978.2 L1645.2,1977.3 L1647.0,1976.4 L1648.8,1975.6 L1650.6,1974.7 L1652.5,1973.9 L1654.3,1973.0 L1656.1,1972.1 L1657.9,1971.3 L1659.7,1970.4 L1661.5,1969.5 L1663.3,1968.7 L1665.1,1967.8 L1666.9,1966.9 L1668.7,1966.1 L1670.5,1965.2 L1672.3,1964.3 L1674.1,1963.4 L1675.9,1962.6 L1677.7,1961.7 L1679.5,1960.8 L1681.3,1959.9 L1683.1,1959.1 L1684.9,1958.2 L1686.7,1957.3 L1688.5,1956.4 L1690.3,1955.5 L1692.1,1954.6 L1693.8,1953.8 L1695.6,1952.9 L1697.4,1952.0 L1699.2,1951.1 L1701.0,1950.2 L1702.8,1949.3 L1704.6,1948.4 L1706.4,1947.5 L1708.2,1946.6 L1710.0,1945.7 L1711.8,1944.8 L1713.5,1943.9 L1715.3,1943.0 L1717.1,1942.1 L1718.9,1941.2 L1720.7,1940.3 L1722.5,1939.4 L1724.3,1938.5 L1726.0,1937.6 L1727.8,1936.7 L1729.6,1935.8 L1731.4,1934.9 L1733.2,1934.0 L1735.0,1933.1 L1736.7,1932.2 L1738.5,1931.2 L1740.3,1930.3 L1742.1,1929.4 L1743.9,1928.5 L1745.6,1927.6 L1747.4,1926.7 L1749.2,1925.7 L1751.0,1924.8 L1752.7,1923.9 L1754.5,1923.0 L1756.3,1922.1 L1758.1,1921.1 L1759.8,1920.2 L1761.6,1919.3 L1763.4,1918.3 L1765.2,1917.4 L1766.9,1916.5 L1768.7,1915.6 L1770.5,1914.6 L1772.2,1913.7 L1774.0,1912.8 L1775.8,1911.8 L1777.6,1910.9 L1779.3,1909.9 L1781.1,1909.0 L1782.9,1908.1 L1784.6,1907.1 L1786.4,1906.2 L1788.2,1905.2 L1789.9,1904.3 L1791.7,1903.4 L1793.4,1902.4 L1795.2,1901.5 L1797.0,1900.5 L1798.7,1899.6 L1800.5,1898.6 L1802.3,1897.7 L1804.0,1896.7 L1805.8,1895.8 L1807.5,1894.8 L1809.3,1893.8 L1811.1,1892.9 L1812.8,1891.9 L1814.6,1891.0 L1816.3,1890.0 L1818.1,1889.1 L1819.8,1888.1 L1821.6,1887.1 L1823.3,1886.2 L1825.1,1885.2 L1826.8,1884.2 L1828.6,1883.3 L1830.3,1882.3 L1832.1,1881.3 L1833.9,1880.4 L1835.6,1879.4" stroke="#FFFF00" stroke-width="9.05" fill="none" stroke-linecap="butt" stroke-linejoin="round"/><circle cx="1835.6" cy="1879.4" r="4.53" fill="#FFFF00"/>
<path d="M268.9,2337.5 L268.8,2335.2 L268.7,2333.0 L268.8,2330.8 L268.8,2328.6 L269.0,2326.5 L269.2,2324.4 L269.4,2322.3 L269.7,2320.2 L270.1,2318.1 L270.5,2316.1 L271.0,2314.2 L271.5,2312.2 L272.1,2310.3 L272.8,2308.4 L273.4,2306.5 L274.2,2304.7 L275.0,2302.9 L275.8,2301.1 L276.7,2299.3 L277.6,2297.6 L278.6,2295.9 L279.6,2294.3 L280.6,2292.6 L281.7,2291.1 L282.8,2289.5 L284.0,2288.0 L285.2,2286.5 L286.5,2285.0 L287.7,2283.6 L289.1,2282.2 L290.4,2280.8 L291.8,2279.5 L293.2,2278.2 L294.6,2276.9 L296.1,2275.7 L297.6,2274.5 L299.1,2273.3 L300.7,2272.2 L302.3,2271.1 L303.9,2270.0 L305.5,2268.9 L307.1,2267.9 L308.8,2267.0 L310.5,2266.0 L312.2,2265.1 L313.9,2264.2 L315.7,2263.3 L317.5,2262.4 L319.3,2261.6 L321.1,2260.8 L322.9,2260.0 L324.7,2259.2 L326.6,2258.5 L328.4,2257.8 L330.3,2257.1 L332.2,2256.4 L334.1,2255.7 L336.0,2255.1 L337.9,2254.4 L339.9,2253.8 L341.8,2253.2 L343.7,2252.6 L345.7,2252.0 L347.6,2251.5 L349.6,2250.9 L351.6,2250.4 L353.5,2249.9 L355.5,2249.4 L357.5,2248.9 L359.4,2248.4 L361.4,2247.9 L363.4,2247.4 L365.3,2246.9 L367.3,2246.4 L369.3,2245.9 L371.2,2245.5 L373.2,2245.0 L375.1,2244.5 L377.1,2244.0 L379.1,2243.5 L381.0,2243.0 L383.0,2242.5 L385.0,2242.1 L386.9,2241.6 L388.9,2241.1 L390.8,2240.6 L392.8,2240.2 L394.8,2239.7 L396.7,2239.2 L398.7,2238.8 L400.6,2238.3 L402.6,2237.8 L404.6,2237.4 L406.5,2236.9 L408.5,2236.5 L410.4,2236.0 L412.4,2235.6 L414.3,2235.1 L416.3,2234.7 L418.3,2234.3 L420.2,2233.8 L422.2,2233.4 L424.1,2232.9 L426.1,2232.5 L428.0,2232.1 L430.0,2231.6 L431.9,2231.2 L433.9,2230.8 L435.8,2230.4 L437.8,2229.9 L439.7,2229.5 L441.7,2229.1 L443.6,2228.7 L445.6,2228.2 L447.5,2227.8 L449.5,2227.4 L451.4,2226.9 L453.4,2226.5 L455.3,2226.1 L457.3,2225.6 L459.2,2225.2 L461.1,2224.8 L463.1,2224.4 L465.0,2223.9 L467.0,2223.5 L468.9,2223.0 L470.9,2222.6 L472.8,2222.2 L474.8,2221.7 L476.7,2221.3 L478.6,2220.9 L480.6,2220.4 L482.5,2220.0 L484.5,2219.5 L486.4,2219.1 L488.3,2218.7 L490.3,2218.2 L492.2,2217.8 L494.2,2217.3 L496.1,2216.9 L498.0,2216.5 L500.0,2216.2 L501.9,2215.9 L503.9,2215.6 L505.8,2215.3 L507.7,2215.0 L509.7,2214.6 L511.6,2214.2 L513.5,2213.8 L515.5,2213.4 L517.4,2213.0 L519.3,2212.6 L521.3,2212.2 L523.2,2211.8 L525.1,2211.4 L527.1,2211.0 L529.0,2210.5 L530.9,2210.1 L532.9,2209.7 L534.8,2209.2 L536.7,2208.8 L538.7,2208.3 L540.6,2207.9 L542.5,2207.4 L544.4,2207.0 L546.4,2206.5 L548.3,2206.0 L550.2,2205.6 L552.2,2205.1 L554.1,2204.6 L556.0,2204.2 L557.9,2203.7 L559.9,2203.2 L561.8,2202.7 L563.7,2202.3 L565.6,2201.8 L567.6,2201.3 L569.5,2200.8 L571.4,2200.4 L573.4,2199.9 L575.3,2199.4 L577.2,2198.9 L579.1,2198.4 L581.0,2197.9 L583.0,2197.4 L584.9,2196.9 L586.8,2196.5 L588.7,2196.0 L590.7,2195.5 L592.6,2195.0 L594.5,2194.5 L596.4,2194.0 L598.4,2193.5 L600.3,2192.9 L602.2,2192.4 L604.1,2191.9 L606.0,2191.4 L608.0,2190.9 L609.9,2190.4 L611.8,2189.9 L613.7,2189.4 L615.6,2188.9 L617.6,2188.3 L619.5,2187.8 L621.4,2187.3 L623.3,2186.8 L625.2,2186.3 L627.2,2185.7 L629.1,2185.2 L631.0,2184.7 L632.9,2184.2 L634.8,2183.6 L636.8,2183.1 L638.7,2182.6 L640.6,2182.1 L642.5,2181.6 L644.4,2181.0 L646.4,2180.5 L648.3,2180.0 L650.2,2179.5 L652.1,2179.0 L654.0,2178.4 L655.9,2177.9 L657.9,2177.4 L659.8,2176.8 L661.7,2176.3 L663.6,2175.8 L665.5,2175.3 L667.4,2174.7 L669.4,2174.2 L671.3,2173.6 L673.2,2173.1 L675.1,2172.6 L677.0,2172.0 L678.9,2171.5 L680.9,2170.9 L682.8,2170.4 L684.7,2169.8 L686.6,2169.3 L688.5,2168.7 L690.4,2168.2 L692.4,2167.6 L694.3,2167.0 L696.2,2166.5 L698.1,2165.9 L700.0,2165.4 L701.9,2164.8 L703.8,2164.3 L705.8,2163.7 L707.7,2163.1 L709.6,2162.6 L711.5,2162.0 L713.4,2161.5 L715.3,2160.9 L717.3,2160.4 L719.2,2159.8 L721.1,2159.2 L723.0,2158.7 L724.9,2158.1 L726.8,2157.5 L728.8,2157.0 L730.7,2156.4 L732.6,2155.8 L734.5,2155.3 L736.4,2154.7 L738.3,2154.1 L740.2,2153.5 L742.2,2153.0 L744.1,2152.4 L746.0,2151.8 L747.9,2151.2 L749.8,2150.6 L751.7,2150.0 L753.6,2149.4 L755.5,2148.8 L757.5,2148.2 L759.4,2147.6 L761.3,2147.0 L763.2,2146.4 L765.1,2145.8 L767.0,2145.2 L768.9,2144.6 L770.8,2144.0 L772.7,2143.4 L774.7,2142.8 L776.6,2142.2 L778.5,2141.6 L780.4,2140.9 L782.3,2140.3 L784.2,2139.7 L786.1,2139.1 L788.0,2138.5 L789.9,2137.9 L791.8,2137.2 L793.7,2136.6 L795.6,2136.0 L797.6,2135.4 L799.5,2134.8 L801.4,2134.1 L803.3,2133.5 L805.2,2132.9 L807.1,2132.2 L809.0,2131.6 L810.9,2131.0 L812.8,2130.3 L814.7,2129.7 L816.6,2129.1 L818.5,2128.4 L820.4,2127.8 L822.3,2127.2 L824.2,2126.5 L826.1,2125.9 L828.0,2125.2 L829.9,2124.6 L831.8,2123.9 L833.7,2123.2 L835.6,2122.6 L837.5,2121.9 L839.4,2121.2 L841.3,2120.6 L843.2,2119.9 L845.1,2119.2 L847.0,2118.5 L848.8,2117.8 L850.7,2117.1 L852.6,2116.4 L854.5,2115.7 L856.4,2115.1 L858.3,2114.4 L860.2,2113.7 L862.1,2113.0 L864.0,2112.3 L865.9,2111.6 L867.8,2110.8 L869.6,2110.1 L871.5,2109.4 L873.4,2108.7 L875.3,2108.0 L877.2,2107.3 L879.1,2106.6 L880.9,2105.9 L882.8,2105.2 L884.7,2104.5 L886.6,2103.7 L888.5,2103.0 L890.3,2102.3 L892.2,2101.6 L894.1,2100.8 L896.0,2100.1 L897.9,2099.4 L899.7,2098.6 L901.6,2097.9 L903.5,2097.2 L905.4,2096.4 L907.2,2095.7 L909.1,2094.9 L911.0,2094.2 L912.8,2093.4 L914.7,2092.7 L916.6,2091.9 L918.4,2091.2 L920.3,2090.4 L922.2,2089.7 L924.0,2088.9 L925.9,2088.1 L927.8,2087.4 L929.6,2086.6 L931.5,2085.8 L933.4,2085.0 L935.2,2084.3 L937.1,2083.5 L938.9,2082.7 L940.8,2081.9 L942.6,2081.1 L944.5,2080.4 L946.4,2079.6 L948.2,2078.8 L950.1,2078.0 L951.9,2077.2 L953.8,2076.4 L955.6,2075.6 L957.5,2074.8 L959.3,2074.0 L961.2,2073.2 L963.0,2072.3 L964.9,2071.5 L966.7,2070.7 L968.5,2069.9 L970.4,2069.1 L972.2,2068.2 L974.1,2067.4 L975.9,2066.6 L977.7,2065.7 L979.6,2064.9 L981.4,2064.1 L983.2,2063.2 L985.1,2062.4 L986.9,2061.5 L988.7,2060.7 L990.6,2059.8 L992.4,2058.9 L994.2,2058.1 L996.1,2057.2 L997.9,2056.3 L999.7,2055.5 L1001.5,2054.6 L1003.4,2053.7 L1005.2,2052.8 L1007.0,2052.0 L1008.8,2051.1 L1010.6,2050.2 L1012.5,2049.3 L1014.3,2048.4 L1016.1,2047.5 L1017.9,2046.6 L1019.7,2045.7 L1021.5,2044.8 L1023.3,2043.8 L1025.1,2042.9 L1027.0,2042.0 L1028.8,2041.1 L1030.6,2040.2 L1032.4,2039.2 L1034.2,2038.3 L1036.0,2037.4 L1037.8,2036.5 L1039.6,2035.5 L1041.4,2034.6 L1043.2,2033.6 L1045.0,2032.7 L1046.8,2031.8 L1048.6,2030.8 L1050.4,2029.9 L1052.2,2028.9 L1054.0,2028.0 L1055.7,2027.0 L1057.5,2026.1 L1059.3,2025.1 L1061.1,2024.1 L1062.9,2023.2 L1064.7,2022.2 L1066.5,2021.3 L1068.2,2020.3 L1070.0,2019.3 L1071.8,2018.4 L1073.6,2017.4 L1075.4,2016.4 L1077.1,2015.4 L1078.9,2014.4 L1080.7,2013.5 L1082.5,2012.5 L1084.2,2011.5 L1086.0,2010.5 L1087.8,2009.5 L1089.5,2008.5 L1091.3,2007.5 L1093.1,2006.5 L1094.8,2005.5 L1096.6,2004.5 L1098.4,2003.5 L1100.1,2002.5 L1101.9,2001.5 L1103.6,2000.5 L1105.4,1999.5 L1107.2,1998.5 L1108.9,1997.5 L1110.7,1996.5 L1112.4,1995.5 L1114.2,1994.5 L1115.9,1993.5 L1117.7,1992.4 L1119.4,1991.4 L1121.2,1990.4 L1122.9,1989.4 L1124.7,1988.4 L1126.4,1987.4 L1128.1,1986.3 L1129.9,1985.3 L1131.6,1984.3 L1133.4,1983.2 L1135.1,1982.2 L1136.8,1981.2 L1138.6,1980.1 L1140.3,1979.1 L1142.0,1978.1 L1143.8,1977.0 L1145.5,1976.0 L1147.2,1974.9 L1148.9,1973.9 L1150.7,1972.9 L1152.4,1971.8 L1154.1,1970.8 L1155.8,1969.7 L1157.6,1968.6 L1159.3,1967.6 L1161.0,1966.5 L1162.7,1965.5 L1164.4,1964.4 L1166.1,1963.3 L1167.9,1962.3 L1169.6,1961.2 L1171.3,1960.2 L1173.0,1959.1 L1174.7,1958.0 L1176.4,1956.9 L1178.1,1955.9 L1179.8,1954.8 L1181.5,1953.7 L1183.2,1952.6 L1184.9,1951.5 L1186.6,1950.5 L1188.3,1949.4 L1190.0,1948.3 L1191.7,1947.2 L1193.4,1946.1 L1195.1,1945.0 L1196.8,1943.9 L1198.4,1942.8 L1200.1,1941.7 L1201.8,1940.6 L1203.5,1939.5 L1205.2,1938.4 L1206.9,1937.3 L1208.5,1936.2 L1210.2,1935.1 L1211.9,1934.0 L1213.6,1932.8 L1215.3,1931.7 L1216.9,1930.6 L1218.6,1929.5 L1220.3,1928.4 L1221.9,1927.3 L1223.6,1926.2 L1225.3,1925.0 L1226.9,1923.9 L1228.6,1922.8 L1230.3,1921.7 L1231.9,1920.6 L1233.6,1919.4 L1235.2,1918.3 L1236.9,1917.2 L1238.6,1916.0 L1240.2,1914.9 L1241.9,1913.8 L1243.5,1912.6 L1245.2,1911.5 L1246.8,1910.4 L1248.5,1909.2 L1250.1,1908.1 L1251.7,1906.9 L1253.4,1905.8 L1255.0,1904.6 L1256.7,1903.5 L1258.3,1902.3 L1259.9,1901.2 L1261.6,1899.9 L1263.2,1898.7 L1264.8,1897.5 L1266.5,1896.2 L1268.1,1895.0 L1269.7,1893.7 L1271.4,1892.5 L1273.0,1891.2 L1274.6,1890.0 L1276.2,1888.8 L1277.9,1887.5 L1279.5,1886.3 L1281.1,1885.0 L1282.7,1883.8 L1284.3,1882.5 L1285.9,1881.3 L1287.5,1880.0 L1289.2,1878.8 L1290.8,1877.6 L1292.4,1876.3 L1294.0,1875.1 L1295.6,1873.9 L1297.2,1872.6 L1298.8,1871.4 L1300.4,1870.2 L1302.0,1869.0 L1303.6,1867.7 L1305.2,1866.5 L1306.8,1865.3 L1308.4,1864.1 L1310.0,1862.8 L1311.6,1861.6 L1313.1,1860.4 L1314.7,1859.1 L1316.3,1857.9 L1317.9,1856.6 L1319.5,1855.4 L1321.1,1854.2 L1322.6,1852.9 L1324.2,1851.7 L1325.8,1850.4 L1327.4,1849.2 L1328.9,1847.9 L1330.5,1846.7 L1332.1,1845.4 L1333.7,1844.2 L1335.2,1842.9 L1336.8,1841.7 L1338.4,1840.4 L1339.9,1839.1 L1341.5,1837.9 L1343.0,1836.6 L1344.6,1835.3 L1346.2,1834.1 L1347.7,1832.8 L1349.3,1831.5 L1350.8,1830.2 L1352.4,1829.0 L1353.9,1827.7 L1355.5,1826.4 L1357.0,1825.1 L1358.6,1823.8 L1360.1,1822.5 L1361.6,1821.3 L1363.2,1820.0 L1364.7,1818.7 L1366.2,1817.4 L1367.8,1816.1 L1369.3,1814.8 L1370.9,1813.5 L1372.4,1812.2 L1373.9,1810.9 L1375.4,1809.6 L1377.0,1808.3 L1378.5,1807.0 L1380.0,1805.7 L1381.5,1804.4 L1383.1,1803.1 L1384.6,1801.8 L1386.1,1800.5 L1387.6,1799.1 L1389.1,1797.8 L1390.6,1796.5 L1392.1,1795.2 L1393.6,1793.9 L1395.1,1792.6 L1396.7,1791.2 L1398.2,1789.9 L1399.7,1788.6 L1401.2,1787.3 L1402.7,1786.0 L1404.2,1784.6 L1405.7,1783.3 L1407.1,1782.0 L1408.6,1780.7 L1410.1,1779.3 L1411.6,1778.0 L1413.1,1776.7 L1414.6,1775.3 L1416.1,1774.0 L1417.6,1772.7 L1419.0,1771.3 L1420.5,1770.0 L1422.0,1768.6 L1423.5,1767.3 L1425.0,1766.0 L1426.4,1764.6 L1427.9,1763.3 L1429.4,1762.0 L1430.8,1760.6 L1432.3,1759.3 L1433.8,1757.9 L1435.2,1756.6 L1436.7,1755.2 L1438.2,1753.9 L1439.6,1752.6 L1441.1,1751.2 L1442.5,1749.9 L1444.0,1748.5 L1445.4,1747.2 L1446.9,1745.9 L1448.3,1744.5 L1449.8,1743.2 L1451.2,1741.9 L1452.7,1740.5 L1454.1,1739.2 L1455.5,1737.9 L1457.0,1736.5 L1458.4,1735.2 L1459.9,1733.9 L1461.3,1732.6 L1462.7,1731.2 L1464.1,1729.9 L1465.6,1728.6 L1467.0,1727.3 L1468.4,1725.9 L1469.9,1724.6 L1471.3,1723.3 L1472.7,1721.9 L1474.1,1720.6 L1475.5,1719.3 L1476.9,1717.9 L1478.4,1716.6 L1479.8,1715.3 L1481.2,1713.9 L1482.6,1712.5 L1484.0,1711.1 L1485.4,1709.7 L1486.8,1708.3 L1488.2,1706.9 L1489.6,1705.5 L1491.0,1704.1 L1492.4,1702.7 L1493.8,1701.3 L1495.2,1699.9 L1496.6,1698.5 L1498.0,1697.1 L1499.4,1695.7 L1500.7,1694.3 L1502.1,1692.9 L1503.5,1691.5 L1504.9,1690.1 L1506.3,1688.7 L1507.6,1687.3 L1509.0,1685.9 L1510.4,1684.5 L1511.8,1683.1 L1513.1,1681.7 L1514.5,1680.3 L1515.9,1678.9 L1517.2,1677.5 L1518.6,1676.1 L1520.0,1674.7 L1521.3,1673.3 L1522.7,1671.9 L1524.0,1670.5 L1525.4,1669.1 L1526.7,1667.7 L1528.1,1666.2 L1529.4,1664.8 L1530.8,1663.4 L1532.1,1662.0 L1533.5,1660.6 L1534.8,1659.1 L1536.2,1657.7 L1537.5,1656.3 L1538.8,1654.8 L1540.2,1653.4 L1541.5,1651.9 L1542.8,1650.5 L1544.2,1649.1 L1545.5,1647.6 L1546.8,1646.2 L1548.2,1644.7 L1549.5,1643.3 L1550.8,1641.9 L1552.1,1640.4 L1553.4,1639.0 L1554.8,1637.5 L1556.1,1636.1 L1557.4,1634.6 L1558.7,1633.2 L1560.0,1631.8 L1561.3,1630.3 L1562.6,1628.9 L1563.9,1627.5 L1565.2,1626.0 L1566.5,1624.6 L1567.8,1623.2 L1569.1,1621.7 L1570.4,1620.3 L1571.7,1618.9 L1573.0,1617.5 L1574.3,1616.1 L1575.6,1614.7 L1576.8,1613.3 L1578.1,1612.0 L1579.4,1610.6 L1580.7,1609.3 L1582.0,1608.0 L1583.2,1606.8 L1584.5,1605.5 L1585.8,1604.2 L1587.1,1602.9 L1588.3,1601.6" stroke="#ED7D31" stroke-width="9.05" fill="none" stroke-linecap="butt" stroke-dasharray="34.30 31.56" stroke-dashoffset="62.24"/>
<path d="M268.9,2337.5 L268.8,2335.2 L268.7,2333.0 L268.8,2330.8 L268.8,2328.6 L269.0,2326.5 L269.2,2324.4 L269.4,2322.3 L269.7,2320.2 L270.1,2318.1 L270.5,2316.1 L271.0,2314.2 L271.5,2312.2 L272.1,2310.3 L272.8,2308.4 L273.4,2306.5 L274.2,2304.7 L275.0,2302.9 L275.8,2301.1 L276.7,2299.3 L277.6,2297.6 L278.6,2295.9 L279.6,2294.3 L280.6,2292.6 L281.7,2291.1 L282.8,2289.5 L284.0,2288.0 L285.2,2286.5 L286.5,2285.0 L287.7,2283.6 L289.1,2282.2 L290.4,2280.8 L291.8,2279.5 L293.2,2278.2 L294.6,2276.9 L296.1,2275.7 L297.6,2274.5 L299.1,2273.3 L300.7,2272.2 L302.3,2271.1 L303.9,2270.0 L305.5,2268.9 L307.1,2267.9 L308.8,2267.0 L310.5,2266.0 L312.2,2265.1 L313.9,2264.2 L315.7,2263.3 L317.5,2262.4 L319.3,2261.6 L321.1,2260.8 L322.9,2260.0 L324.7,2259.2 L326.6,2258.5 L328.4,2257.8 L330.3,2257.1 L332.2,2256.4 L334.1,2255.7 L336.0,2255.1 L337.9,2254.4 L339.9,2253.8 L341.8,2253.2 L343.7,2252.6 L345.7,2252.0 L347.6,2251.5 L349.6,2250.9 L351.6,2250.4 L353.5,2249.9 L355.5,2249.4 L357.5,2248.9 L359.4,2248.4 L361.4,2247.9 L363.4,2247.4 L365.3,2246.9 L367.3,2246.4 L369.3,2245.9 L371.2,2245.5 L373.2,2245.0 L375.1,2244.5 L377.1,2244.0 L379.1,2243.5 L381.0,2243.0 L383.0,2242.5 L385.0,2242.1 L386.9,2241.6 L388.9,2241.1 L390.8,2240.6 L392.8,2240.2 L394.8,2239.7 L396.7,2239.2 L398.7,2238.8 L400.6,2238.3 L402.6,2237.8 L404.6,2237.4 L406.5,2236.9 L408.5,2236.5 L410.4,2236.0 L412.4,2235.6 L414.3,2235.1 L416.3,2234.7 L418.3,2234.3 L420.2,2233.8 L422.2,2233.4 L424.1,2232.9 L426.1,2232.5 L428.0,2232.1 L430.0,2231.6 L431.9,2231.2 L433.9,2230.8 L435.8,2230.4 L437.8,2229.9 L439.7,2229.5 L441.7,2229.1 L443.6,2228.7 L445.6,2228.2 L447.5,2227.8 L449.5,2227.4 L451.4,2226.9 L453.4,2226.5 L455.3,2226.1 L457.3,2225.6 L459.2,2225.2 L461.1,2224.8 L463.1,2224.4 L465.0,2223.9 L467.0,2223.5 L468.9,2223.0 L470.9,2222.6 L472.8,2222.2 L474.8,2221.7 L476.7,2221.3 L478.6,2220.9 L480.6,2220.4 L482.5,2220.0 L484.5,2219.5 L486.4,2219.1 L488.3,2218.7 L490.3,2218.2 L492.2,2217.8 L494.2,2217.3 L496.1,2216.9 L498.0,2216.5 L500.0,2216.2 L501.9,2215.9 L503.9,2215.6 L505.8,2215.3 L507.7,2215.0 L509.7,2214.6 L511.6,2214.2 L513.5,2213.8 L515.5,2213.4 L517.4,2213.0 L519.3,2212.6 L521.3,2212.2 L523.2,2211.8 L525.1,2211.4 L527.1,2211.0 L529.0,2210.5 L530.9,2210.1 L532.9,2209.7 L534.8,2209.2 L536.7,2208.8 L538.7,2208.3 L540.6,2207.9 L542.5,2207.4 L544.4,2207.0 L546.4,2206.5 L548.3,2206.0 L550.2,2205.6 L552.2,2205.1 L554.1,2204.6 L556.0,2204.2 L557.9,2203.7 L559.9,2203.2 L561.8,2202.7 L563.7,2202.3 L565.6,2201.8 L567.6,2201.3 L569.5,2200.8 L571.4,2200.4 L573.4,2199.9 L575.3,2199.4 L577.2,2198.9 L579.1,2198.4 L581.0,2197.9 L583.0,2197.4 L584.9,2196.9 L586.8,2196.5 L588.7,2196.0 L590.7,2195.5 L592.6,2195.0 L594.5,2194.5 L596.4,2194.0 L598.4,2193.5 L600.3,2192.9 L602.2,2192.4 L604.1,2191.9 L606.0,2191.4 L608.0,2190.9 L609.9,2190.4 L611.8,2189.9 L613.7,2189.4 L615.6,2188.9 L617.6,2188.3 L619.5,2187.8 L621.4,2187.3 L623.3,2186.8 L625.2,2186.3 L627.2,2185.7 L629.1,2185.2 L631.0,2184.7 L632.9,2184.2 L634.8,2183.6 L636.8,2183.1 L638.7,2182.6 L640.6,2182.1 L642.5,2181.6 L644.4,2181.0 L646.4,2180.5 L648.3,2180.0 L650.2,2179.5 L652.1,2179.0 L654.0,2178.4 L655.9,2177.9 L657.9,2177.4 L659.8,2176.8 L661.7,2176.3 L663.6,2175.8 L665.5,2175.3 L667.4,2174.7 L669.4,2174.2 L671.3,2173.6 L673.2,2173.1 L675.1,2172.6 L677.0,2172.0 L678.9,2171.5 L680.9,2170.9 L682.8,2170.4 L684.7,2169.8 L686.6,2169.3 L688.5,2168.7 L690.4,2168.2 L692.4,2167.6 L694.3,2167.0 L696.2,2166.5 L698.1,2165.9 L700.0,2165.4 L701.9,2164.8 L703.8,2164.3 L705.8,2163.7 L707.7,2163.1 L709.6,2162.6 L711.5,2162.0 L713.4,2161.5 L715.3,2160.9 L717.3,2160.4 L719.2,2159.8 L721.1,2159.2 L723.0,2158.7 L724.9,2158.1 L726.8,2157.5 L728.8,2157.0 L730.7,2156.4 L732.6,2155.8 L734.5,2155.3 L736.4,2154.7 L738.3,2154.1 L740.2,2153.5 L742.2,2153.0 L744.1,2152.4 L746.0,2151.8 L747.9,2151.2 L749.8,2150.6 L751.7,2150.0 L753.6,2149.4 L755.5,2148.8 L757.5,2148.2 L759.4,2147.6 L761.3,2147.0 L763.2,2146.4 L765.1,2145.8 L767.0,2145.2 L768.9,2144.6 L770.8,2144.0 L772.7,2143.4 L774.7,2142.8 L776.6,2142.2 L778.5,2141.6 L780.4,2140.9 L782.3,2140.3 L784.2,2139.7 L786.1,2139.1 L788.0,2138.5 L789.9,2137.9 L791.8,2137.2 L793.7,2136.6 L795.6,2136.0 L797.6,2135.4 L799.5,2134.8 L801.4,2134.1 L803.3,2133.5 L805.2,2132.9 L807.1,2132.2 L809.0,2131.6 L810.9,2131.0 L812.8,2130.3 L814.7,2129.7 L816.6,2129.1 L818.5,2128.4 L820.4,2127.8 L822.3,2127.2 L824.2,2126.5 L826.1,2125.9 L828.0,2125.2 L829.9,2124.6 L831.8,2123.9 L833.7,2123.2 L835.6,2122.6 L837.5,2121.9 L839.4,2121.2 L841.3,2120.6 L843.2,2119.9 L845.1,2119.2 L847.0,2118.5 L848.8,2117.8 L850.7,2117.1 L852.6,2116.4 L854.5,2115.7 L856.4,2115.1 L858.3,2114.4 L860.2,2113.7 L862.1,2113.0 L864.0,2112.3 L865.9,2111.6 L867.8,2110.8 L869.6,2110.1 L871.5,2109.4 L873.4,2108.7 L875.3,2108.0 L877.2,2107.3 L879.1,2106.6 L880.9,2105.9 L882.8,2105.2 L884.7,2104.5 L886.6,2103.7 L888.5,2103.0 L890.3,2102.3 L892.2,2101.6 L894.1,2100.8 L896.0,2100.1 L897.9,2099.4 L899.7,2098.6 L901.6,2097.9 L903.5,2097.2 L905.4,2096.4 L907.2,2095.7 L909.1,2094.9 L911.0,2094.2 L912.8,2093.4 L914.7,2092.7 L916.6,2091.9 L918.4,2091.2 L920.3,2090.4 L922.2,2089.7 L924.0,2088.9 L925.9,2088.1 L927.8,2087.4 L929.6,2086.6 L931.5,2085.8 L933.4,2085.0 L935.2,2084.3 L937.1,2083.5 L938.9,2082.7 L940.8,2081.9 L942.6,2081.1 L944.5,2080.4 L946.4,2079.6 L948.2,2078.8 L950.1,2078.0 L951.9,2077.2 L953.8,2076.4 L955.6,2075.6 L957.5,2074.8 L959.3,2074.0 L961.2,2073.2 L963.0,2072.3 L964.9,2071.5 L966.7,2070.7 L968.5,2069.9 L970.4,2069.1 L972.2,2068.2 L974.1,2067.4 L975.9,2066.6 L977.7,2065.7 L979.6,2064.9 L981.4,2064.1 L983.2,2063.2 L985.1,2062.4 L986.9,2061.5 L988.7,2060.7 L990.6,2059.8 L992.4,2058.9 L994.2,2058.1 L996.1,2057.2 L997.9,2056.3 L999.7,2055.5 L1001.5,2054.6 L1003.4,2053.7 L1005.2,2052.8 L1007.0,2052.0 L1008.8,2051.1 L1010.6,2050.2 L1012.5,2049.3 L1014.3,2048.4 L1016.1,2047.5 L1017.9,2046.6 L1019.7,2045.7 L1021.5,2044.8 L1023.3,2043.8 L1025.1,2042.9 L1027.0,2042.0 L1028.8,2041.1 L1030.6,2040.2 L1032.4,2039.2 L1034.2,2038.3 L1036.0,2037.4 L1037.8,2036.5 L1039.6,2035.5 L1041.4,2034.6 L1043.2,2033.6 L1045.0,2032.7 L1046.8,2031.8 L1048.6,2030.8 L1050.4,2029.9 L1052.2,2028.9 L1054.0,2028.0 L1055.7,2027.0 L1057.5,2026.1 L1059.3,2025.1 L1061.1,2024.1 L1062.9,2023.2 L1064.7,2022.2 L1066.5,2021.3 L1068.2,2020.3 L1070.0,2019.3 L1071.8,2018.4 L1073.6,2017.4 L1075.4,2016.4 L1077.1,2015.4 L1078.9,2014.4 L1080.7,2013.5 L1082.5,2012.5 L1084.2,2011.5 L1086.0,2010.5 L1087.8,2009.5 L1089.5,2008.5 L1091.3,2007.5 L1093.1,2006.5 L1094.8,2005.5 L1096.6,2004.5 L1098.4,2003.5 L1100.1,2002.5 L1101.9,2001.5 L1103.6,2000.5 L1105.4,1999.5 L1107.2,1998.5 L1108.9,1997.5 L1110.7,1996.5 L1112.4,1995.5 L1114.2,1994.5 L1115.9,1993.5 L1117.7,1992.4 L1119.4,1991.4 L1121.2,1990.4 L1122.9,1989.4 L1124.7,1988.4 L1126.4,1987.4 L1128.1,1986.3 L1129.9,1985.3 L1131.6,1984.3 L1133.4,1983.2 L1135.1,1982.2 L1136.8,1981.2 L1138.6,1980.1 L1140.3,1979.1 L1142.0,1978.1 L1143.8,1977.0 L1145.5,1976.0 L1147.2,1974.9 L1148.9,1973.9 L1150.7,1972.9 L1152.4,1971.8 L1154.1,1970.8 L1155.8,1969.7 L1157.6,1968.6 L1159.3,1967.6 L1161.0,1966.5 L1162.7,1965.5 L1164.4,1964.4 L1166.1,1963.3 L1167.9,1962.3 L1169.6,1961.2 L1171.3,1960.2 L1173.0,1959.1 L1174.7,1958.0 L1176.4,1956.9 L1178.1,1955.9 L1179.8,1954.8 L1181.5,1953.7 L1183.2,1952.6 L1184.9,1951.5 L1186.6,1950.5 L1188.3,1949.4 L1190.0,1948.3 L1191.7,1947.2 L1193.4,1946.1 L1195.1,1945.0 L1196.8,1943.9 L1198.4,1942.8 L1200.1,1941.7 L1201.8,1940.6 L1203.5,1939.5 L1205.2,1938.4 L1206.9,1937.3 L1208.5,1936.2 L1210.2,1935.1 L1211.9,1934.0 L1213.6,1932.8 L1215.3,1931.7 L1216.9,1930.6 L1218.6,1929.5 L1220.3,1928.4 L1221.9,1927.3 L1223.6,1926.2 L1225.3,1925.0 L1226.9,1923.9 L1228.6,1922.8 L1230.3,1921.7 L1231.9,1920.6 L1233.6,1919.4 L1235.2,1918.3 L1236.9,1917.2 L1238.6,1916.0 L1240.2,1914.9 L1241.9,1913.8 L1243.5,1912.6 L1245.2,1911.5 L1246.8,1910.4 L1248.5,1909.2 L1250.1,1908.1 L1251.7,1906.9 L1253.4,1905.8 L1255.0,1904.6 L1256.7,1903.5 L1258.3,1902.3 L1259.9,1901.2 L1261.6,1899.9 L1263.2,1898.7 L1264.8,1897.5 L1266.5,1896.2 L1268.1,1895.0 L1269.7,1893.7 L1271.4,1892.5 L1273.0,1891.2 L1274.6,1890.0 L1276.2,1888.8 L1277.9,1887.5 L1279.5,1886.3 L1281.1,1885.0 L1282.7,1883.8 L1284.3,1882.5 L1285.9,1881.3 L1287.5,1880.0 L1289.2,1878.8 L1290.8,1877.6 L1292.4,1876.3 L1294.0,1875.1 L1295.6,1873.9 L1297.2,1872.6 L1298.8,1871.4 L1300.4,1870.2 L1302.0,1869.0 L1303.6,1867.7 L1305.2,1866.5 L1306.8,1865.3 L1308.4,1864.1 L1310.0,1862.8 L1311.6,1861.6 L1313.1,1860.4 L1314.7,1859.1 L1316.3,1857.9 L1317.9,1856.6 L1319.5,1855.4 L1321.1,1854.2 L1322.6,1852.9 L1324.2,1851.7 L1325.8,1850.4 L1327.4,1849.2 L1328.9,1847.9 L1330.5,1846.7 L1332.1,1845.4 L1333.7,1844.2 L1335.2,1842.9 L1336.8,1841.7 L1338.4,1840.4 L1339.9,1839.1 L1341.5,1837.9 L1343.0,1836.6 L1344.6,1835.3 L1346.2,1834.1 L1347.7,1832.8 L1349.3,1831.5 L1350.8,1830.2 L1352.4,1829.0 L1353.9,1827.7 L1355.5,1826.4 L1357.0,1825.1 L1358.6,1823.8 L1360.1,1822.5 L1361.6,1821.3 L1363.2,1820.0 L1364.7,1818.7 L1366.2,1817.4 L1367.8,1816.1 L1369.3,1814.8 L1370.9,1813.5 L1372.4,1812.2 L1373.9,1810.9 L1375.4,1809.6 L1377.0,1808.3 L1378.5,1807.0 L1380.0,1805.7 L1381.5,1804.4 L1383.1,1803.1 L1384.6,1801.8 L1386.1,1800.5 L1387.6,1799.1 L1389.1,1797.8 L1390.6,1796.5 L1392.1,1795.2 L1393.6,1793.9 L1395.1,1792.6 L1396.7,1791.2 L1398.2,1789.9 L1399.7,1788.6 L1401.2,1787.3 L1402.7,1786.0 L1404.2,1784.6 L1405.7,1783.3 L1407.1,1782.0 L1408.6,1780.7 L1410.1,1779.3 L1411.6,1778.0 L1413.1,1776.7 L1414.6,1775.3 L1416.1,1774.0 L1417.6,1772.7 L1419.0,1771.3 L1420.5,1770.0 L1422.0,1768.6 L1423.5,1767.3 L1425.0,1766.0 L1426.4,1764.6 L1427.9,1763.3 L1429.4,1762.0 L1430.8,1760.6 L1432.3,1759.3 L1433.8,1757.9 L1435.2,1756.6 L1436.7,1755.2 L1438.2,1753.9 L1439.6,1752.6 L1441.1,1751.2 L1442.5,1749.9 L1444.0,1748.5 L1445.4,1747.2 L1446.9,1745.9 L1448.3,1744.5 L1449.8,1743.2 L1451.2,1741.9 L1452.7,1740.5 L1454.1,1739.2 L1455.5,1737.9 L1457.0,1736.5 L1458.4,1735.2 L1459.9,1733.9 L1461.3,1732.6 L1462.7,1731.2 L1464.1,1729.9 L1465.6,1728.6 L1467.0,1727.3 L1468.4,1725.9 L1469.9,1724.6 L1471.3,1723.3 L1472.7,1721.9 L1474.1,1720.6 L1475.5,1719.3 L1476.9,1717.9 L1478.4,1716.6 L1479.8,1715.3 L1481.2,1713.9 L1482.6,1712.5 L1484.0,1711.1 L1485.4,1709.7 L1486.8,1708.3 L1488.2,1706.9 L1489.6,1705.5 L1491.0,1704.1 L1492.4,1702.7 L1493.8,1701.3 L1495.2,1699.9 L1496.6,1698.5 L1498.0,1697.1 L1499.4,1695.7 L1500.7,1694.3 L1502.1,1692.9 L1503.5,1691.5 L1504.9,1690.1 L1506.3,1688.7 L1507.6,1687.3 L1509.0,1685.9 L1510.4,1684.5 L1511.8,1683.1 L1513.1,1681.7 L1514.5,1680.3 L1515.9,1678.9 L1517.2,1677.5 L1518.6,1676.1 L1520.0,1674.7 L1521.3,1673.3 L1522.7,1671.9 L1524.0,1670.5 L1525.4,1669.1 L1526.7,1667.7 L1528.1,1666.2 L1529.4,1664.8 L1530.8,1663.4 L1532.1,1662.0 L1533.5,1660.6 L1534.8,1659.1 L1536.2,1657.7 L1537.5,1656.3 L1538.8,1654.8 L1540.2,1653.4 L1541.5,1651.9 L1542.8,1650.5 L1544.2,1649.1 L1545.5,1647.6 L1546.8,1646.2 L1548.2,1644.7 L1549.5,1643.3 L1550.8,1641.9 L1552.1,1640.4 L1553.4,1639.0 L1554.8,1637.5 L1556.1,1636.1 L1557.4,1634.6 L1558.7,1633.2 L1560.0,1631.8 L1561.3,1630.3 L1562.6,1628.9 L1563.9,1627.5 L1565.2,1626.0 L1566.5,1624.6 L1567.8,1623.2 L1569.1,1621.7 L1570.4,1620.3 L1571.7,1618.9 L1573.0,1617.5 L1574.3,1616.1 L1575.6,1614.7 L1576.8,1613.3 L1578.1,1612.0 L1579.4,1610.6 L1580.7,1609.3 L1582.0,1608.0 L1583.2,1606.8 L1584.5,1605.5 L1585.8,1604.2 L1587.1,1602.9 L1588.3,1601.6" stroke="#ED7D31" stroke-width="9.05" fill="none" stroke-linecap="round" stroke-dasharray="27.05 38.81" stroke-dashoffset="58.61"/>
<path d="M268.4,2337.5 L269.0,2335.4 L269.6,2333.3 L270.4,2331.3 L271.2,2329.4 L272.1,2327.6 L273.0,2325.8 L274.0,2324.1 L275.1,2322.5 L276.3,2321.0 L277.5,2319.5 L278.7,2318.1 L280.1,2316.7 L281.4,2315.4 L282.9,2314.2 L284.3,2313.0 L285.8,2311.9 L287.4,2310.8 L289.0,2309.8 L290.6,2308.8 L292.3,2307.9 L293.9,2307.0 L295.7,2306.1 L297.4,2305.3 L299.2,2304.6 L301.0,2303.8 L302.8,2303.2 L304.6,2302.5 L306.5,2301.9 L308.3,2301.3 L310.2,2300.7 L312.1,2300.2 L314.0,2299.7 L316.0,2299.2 L317.9,2298.7 L319.9,2298.3 L321.9,2297.9 L323.9,2297.5 L325.9,2297.1 L327.9,2296.7 L329.9,2296.4 L331.9,2296.1 L333.9,2295.7 L336.0,2295.4 L338.0,2295.1 L340.0,2294.9 L342.1,2294.6 L344.1,2294.3 L346.2,2294.1 L348.2,2293.8 L350.2,2293.5 L352.3,2293.3 L354.3,2293.0 L356.3,2292.8 L358.4,2292.5 L360.4,2292.3 L362.4,2292.0 L364.5,2291.8 L366.5,2291.6 L368.5,2291.3 L370.5,2291.1 L372.6,2290.9 L374.6,2290.6 L376.6,2290.4 L378.6,2290.2 L380.6,2290.0 L382.6,2289.7 L384.7,2289.5 L386.7,2289.3 L388.7,2289.1 L390.7,2288.9 L392.7,2288.7 L394.7,2288.5 L396.7,2288.3 L398.7,2288.1 L400.7,2287.9 L402.7,2287.7 L404.7,2287.5 L406.7,2287.3 L408.7,2287.1 L410.7,2286.9 L412.7,2286.7 L414.7,2286.5 L416.7,2286.3 L418.7,2286.1 L420.7,2285.9 L422.7,2285.7 L424.7,2285.6 L426.7,2285.4 L428.6,2285.2 L430.6,2285.0 L432.6,2284.8 L434.6,2284.6 L436.6,2284.5 L438.6,2284.3 L440.6,2284.1 L442.5,2283.9 L444.5,2283.7 L446.5,2283.5 L448.5,2283.4 L450.5,2283.2 L452.5,2283.0 L454.4,2282.8 L456.4,2282.6 L458.4,2282.5 L460.4,2282.3 L462.3,2282.1 L464.3,2281.9 L466.3,2281.7 L468.3,2281.6 L470.3,2281.4 L472.2,2281.2 L474.2,2281.0 L476.2,2280.8 L478.2,2280.6 L480.1,2280.5 L482.1,2280.3 L484.1,2280.1 L486.0,2279.9 L488.0,2279.7 L490.0,2279.5 L492.0,2279.3 L493.9,2279.2 L495.9,2279.0 L497.9,2278.8 L499.8,2278.6 L501.8,2278.4 L503.8,2278.2 L505.7,2278.0 L507.7,2277.8 L509.7,2277.6 L511.7,2277.4 L513.6,2277.3 L515.6,2277.1 L517.6,2276.9 L519.5,2276.7 L521.5,2276.5 L523.5,2276.4 L525.4,2276.2 L527.4,2276.0 L529.4,2275.8 L531.4,2275.6 L533.3,2275.4 L535.3,2275.2 L537.3,2275.0 L539.2,2274.8 L541.2,2274.6 L543.2,2274.4 L545.1,2274.2 L547.1,2274.0 L549.1,2273.8 L551.1,2273.6 L553.0,2273.4 L555.0,2273.1 L557.0,2272.9 L558.9,2272.7 L560.9,2272.5 L562.9,2272.3 L564.9,2272.0 L566.8,2271.8 L568.8,2271.6 L570.8,2271.3 L572.8,2271.1 L574.7,2270.9 L576.7,2270.6 L578.7,2270.4 L580.7,2270.1 L582.7,2269.9 L584.6,2269.6 L586.6,2269.4 L588.6,2269.1 L590.6,2268.9 L592.6,2268.6 L594.5,2268.4 L596.5,2268.1 L598.5,2267.8 L600.5,2267.6 L602.5,2267.3 L604.4,2267.0 L606.4,2266.8 L608.4,2266.5 L610.4,2266.2 L612.4,2266.0 L614.3,2265.7 L616.3,2265.4 L618.3,2265.2 L620.3,2264.9 L622.3,2264.6 L624.3,2264.4 L626.2,2264.1 L628.2,2263.8 L630.2,2263.6 L632.2,2263.3 L634.2,2263.0 L636.2,2262.7 L638.1,2262.5 L640.1,2262.2 L642.1,2261.9 L644.1,2261.6 L646.1,2261.4 L648.1,2261.1 L650.1,2260.8 L652.0,2260.5 L654.0,2260.2 L656.0,2259.9 L658.0,2259.6 L660.0,2259.4 L662.0,2259.1 L664.0,2258.8 L665.9,2258.5 L667.9,2258.2 L669.9,2257.9 L671.9,2257.6 L673.9,2257.3 L675.9,2257.0 L677.9,2256.7 L679.8,2256.5 L681.8,2256.2 L683.8,2255.9 L685.8,2255.6 L687.8,2255.3 L689.8,2255.1 L691.8,2254.8 L693.7,2254.5 L695.7,2254.2 L697.7,2253.9 L699.7,2253.7 L701.7,2253.4 L703.7,2253.1 L705.6,2252.8 L707.6,2252.6 L709.6,2252.3 L711.6,2252.0 L713.6,2251.7 L715.6,2251.5 L717.6,2251.2 L719.5,2250.9 L721.5,2250.6 L723.5,2250.3 L725.5,2250.1 L727.5,2249.8 L729.5,2249.5 L731.4,2249.2 L733.4,2248.9 L735.4,2248.6 L737.4,2248.4 L739.4,2248.1 L741.4,2247.8 L743.3,2247.5 L745.3,2247.2 L747.3,2247.0 L749.3,2246.7 L751.3,2246.4 L753.3,2246.1 L755.2,2245.8 L757.2,2245.5 L759.2,2245.2 L761.2,2244.9 L763.2,2244.6 L765.1,2244.3 L767.1,2244.0 L769.1,2243.7 L771.1,2243.4 L773.1,2243.1 L775.1,2242.8 L777.0,2242.4 L779.0,2242.1 L781.0,2241.8 L783.0,2241.5 L785.0,2241.2 L786.9,2240.9 L788.9,2240.6 L790.9,2240.3 L792.9,2240.0 L794.9,2239.6 L796.8,2239.3 L798.8,2239.0 L800.8,2238.7 L802.8,2238.4 L804.8,2238.1 L806.7,2237.8 L808.7,2237.4 L810.7,2237.1 L812.7,2236.8 L814.6,2236.5 L816.6,2236.2 L818.6,2235.8 L820.6,2235.5 L822.5,2235.2 L824.5,2234.9 L826.5,2234.5 L828.5,2234.2 L830.5,2233.9 L832.4,2233.5 L834.4,2233.2 L836.4,2232.8 L838.4,2232.5 L840.3,2232.2 L842.3,2231.8 L844.3,2231.5 L846.3,2231.1 L848.2,2230.8 L850.2,2230.4 L852.2,2230.1 L854.1,2229.7 L856.1,2229.4 L858.1,2229.0 L860.1,2228.7 L862.0,2228.3 L864.0,2228.0 L866.0,2227.6 L868.0,2227.2 L869.9,2226.9 L871.9,2226.5 L873.9,2226.2 L875.8,2225.8 L877.8,2225.4 L879.8,2225.1 L881.8,2224.7 L883.7,2224.3 L885.7,2223.9 L887.7,2223.6 L889.6,2223.2 L891.6,2222.8 L893.6,2222.4 L895.5,2222.1 L897.5,2221.7 L899.5,2221.3 L901.4,2220.9 L903.4,2220.5 L905.4,2220.1 L907.3,2219.8 L909.3,2219.4 L911.3,2219.0 L913.2,2218.6 L915.2,2218.2 L917.2,2217.8 L919.1,2217.4 L921.1,2217.0 L923.1,2216.6 L925.0,2216.2 L927.0,2215.8 L929.0,2215.4 L930.9,2215.0 L932.9,2214.6 L934.9,2214.2 L936.8,2213.8 L938.8,2213.4 L940.8,2213.0 L942.7,2212.6 L944.7,2212.2 L946.6,2211.7 L948.6,2211.3 L950.6,2210.9 L952.5,2210.5 L954.5,2210.1 L956.4,2209.7 L958.4,2209.2 L960.4,2208.8 L962.3,2208.4 L964.3,2208.0 L966.2,2207.6 L968.2,2207.1 L970.2,2206.7 L972.1,2206.3 L974.1,2205.9 L976.0,2205.5 L978.0,2205.0 L980.0,2204.6 L981.9,2204.2 L983.9,2203.8 L985.8,2203.4 L987.8,2203.0 L989.7,2202.7 L991.7,2202.3 L993.7,2201.9 L995.6,2201.6 L997.6,2201.2 L999.5,2200.8 L1001.5,2200.5 L1003.4,2200.1 L1005.4,2199.7 L1007.3,2199.3 L1009.3,2198.9 L1011.2,2198.5 L1013.2,2198.1 L1015.1,2197.7 L1017.1,2197.2 L1019.1,2196.8 L1021.0,2196.4 L1023.0,2195.9 L1024.9,2195.4 L1026.9,2195.0 L1028.8,2194.5 L1030.8,2194.0 L1032.7,2193.6 L1034.7,2193.1 L1036.6,2192.6 L1038.6,2192.1 L1040.5,2191.6 L1042.5,2191.1 L1044.4,2190.6 L1046.3,2190.1 L1048.3,2189.6 L1050.2,2189.1 L1052.2,2188.5 L1054.1,2188.0 L1056.1,2187.5 L1058.0,2187.0 L1060.0,2186.5 L1061.9,2186.0 L1063.9,2185.4 L1065.8,2184.9 L1067.8,2184.4 L1069.7,2183.9 L1071.6,2183.4 L1073.6,2182.9 L1075.5,2182.3 L1077.5,2181.8 L1079.4,2181.3 L1081.4,2180.8 L1083.3,2180.3 L1085.2,2179.8 L1087.2,2179.3 L1089.1,2178.8 L1091.1,2178.3 L1093.0,2177.8 L1094.9,2177.3 L1096.9,2176.8 L1098.8,2176.3 L1100.8,2175.8 L1102.7,2175.3 L1104.6,2174.8 L1106.6,2174.2 L1108.5,2173.7 L1110.4,2173.2 L1112.4,2172.7 L1114.3,2172.2 L1116.2,2171.6 L1118.2,2171.1 L1120.1,2170.6 L1122.1,2170.1 L1124.0,2169.5 L1125.9,2169.0 L1127.9,2168.5 L1129.8,2167.9 L1131.7,2167.4 L1133.7,2166.9 L1135.6,2166.3 L1137.5,2165.8 L1139.5,2165.2 L1141.4,2164.7 L1143.3,2164.1 L1145.2,2163.6 L1147.2,2163.1 L1149.1,2162.5 L1151.0,2162.0 L1153.0,2161.4 L1154.9,2160.9 L1156.8,2160.4 L1158.7,2159.8 L1160.7,2159.3 L1162.6,2158.8 L1164.5,2158.3 L1166.5,2157.8 L1168.4,2157.2 L1170.3,2156.7 L1172.2,2156.2 L1174.2,2155.7 L1176.1,2155.2 L1178.0,2154.7 L1179.9,2154.2 L1181.9,2153.7 L1183.8,2153.2 L1185.7,2152.7 L1187.6,2152.2 L1189.5,2151.7 L1191.5,2151.2 L1193.4,2150.7 L1195.3,2150.2 L1197.2,2149.6 L1199.2,2149.1 L1201.1,2148.6 L1203.0,2148.1 L1204.9,2147.5 L1206.8,2147.0 L1208.7,2146.4 L1210.7,2145.9 L1212.6,2145.3 L1214.5,2144.8 L1216.4,2144.2 L1218.3,2143.6 L1220.2,2143.0 L1222.2,2142.5 L1224.1,2141.9 L1226.0,2141.3 L1227.9,2140.7 L1229.8,2140.1 L1231.7,2139.4 L1233.6,2138.8 L1235.6,2138.2 L1237.5,2137.6 L1239.4,2137.0 L1241.3,2136.3 L1243.2,2135.7 L1245.1,2135.1 L1247.0,2134.4 L1248.9,2133.8 L1250.8,2133.2 L1252.8,2132.5 L1254.7,2131.9 L1256.6,2131.3 L1258.5,2130.6 L1260.4,2130.0 L1262.3,2129.4 L1264.2,2128.7 L1266.1,2128.1 L1268.0,2127.5 L1269.9,2126.8 L1271.8,2126.2 L1273.7,2125.6 L1275.6,2124.9 L1277.5,2124.3 L1279.4,2123.7 L1281.3,2123.1 L1283.2,2122.4 L1285.1,2121.8 L1287.0,2121.2 L1288.9,2120.5 L1290.8,2119.9 L1292.7,2119.3 L1294.6,2118.6 L1296.5,2118.0 L1298.4,2117.4 L1300.3,2116.7 L1302.2,2116.1 L1304.1,2115.4 L1306.0,2114.8 L1307.9,2114.2 L1309.8,2113.5 L1311.7,2112.9 L1313.6,2112.2 L1315.5,2111.6 L1317.4,2110.9 L1319.3,2110.3 L1321.2,2109.6 L1323.1,2109.0 L1325.0,2108.3 L1326.9,2107.7 L1328.8,2107.0 L1330.6,2106.4 L1332.5,2105.7 L1334.4,2105.1 L1336.3,2104.4 L1338.2,2103.8 L1340.1,2103.1 L1342.0,2102.5 L1343.9,2101.8 L1345.8,2101.2 L1347.6,2100.5 L1349.5,2099.9 L1351.4,2099.2 L1353.3,2098.5 L1355.2,2097.9 L1357.1,2097.2 L1359.0,2096.6 L1360.8,2095.9 L1362.7,2095.2 L1364.6,2094.6 L1366.5,2093.9 L1368.4,2093.2 L1370.2,2092.6 L1372.1,2091.9 L1374.0,2091.2 L1375.9,2090.6 L1377.8,2089.9 L1379.6,2089.2 L1381.5,2088.6 L1383.4,2087.9 L1385.3,2087.3 L1387.2,2086.6 L1389.0,2085.9 L1390.9,2085.3 L1392.8,2084.6 L1394.7,2083.9 L1396.5,2083.3 L1398.4,2082.6 L1400.3,2081.9 L1402.2,2081.2 L1404.0,2080.6 L1405.9,2079.9 L1407.8,2079.1 L1409.7,2078.4 L1411.5,2077.7 L1413.4,2077.0 L1415.3,2076.3 L1417.1,2075.6 L1419.0,2074.8 L1420.9,2074.1 L1422.7,2073.4 L1424.6,2072.6 L1426.5,2071.9 L1428.3,2071.1 L1430.2,2070.3 L1432.1,2069.5 L1433.9,2068.7 L1435.8,2068.0 L1437.7,2067.2 L1439.5,2066.4 L1441.4,2065.6 L1443.3,2064.8 L1445.1,2064.0 L1447.0,2063.3 L1448.9,2062.5 L1450.7,2061.7 L1452.6,2061.0 L1454.4,2060.3 L1456.3,2059.5 L1458.2,2058.8 L1460.0,2058.1 L1461.9,2057.4 L1463.7,2056.7 L1465.6,2056.0 L1467.4,2055.3 L1469.3,2054.6 L1471.2,2053.8 L1473.0,2053.1 L1474.9,2052.4 L1476.7,2051.7 L1478.6,2050.9 L1480.4,2050.2 L1482.3,2049.4 L1484.1,2048.7 L1486.0,2047.9 L1487.8,2047.2 L1489.7,2046.4 L1491.5,2045.7 L1493.4,2044.9 L1495.2,2044.1 L1497.1,2043.4 L1498.9,2042.6 L1500.8,2041.8 L1502.6,2041.0 L1504.5,2040.3 L1506.3,2039.5 L1508.2,2038.7 L1510.0,2037.9 L1511.9,2037.2 L1513.7,2036.4 L1515.6,2035.6 L1517.4,2034.8 L1519.2,2034.0 L1521.1,2033.3 L1522.9,2032.5 L1524.8,2031.7 L1526.6,2030.9 L1528.5,2030.1 L1530.3,2029.3 L1532.1,2028.5 L1534.0,2027.8 L1535.8,2027.0 L1537.6,2026.2 L1539.5,2025.4 L1541.3,2024.6 L1543.2,2023.8 L1545.0,2023.0 L1546.8,2022.2 L1548.7,2021.4 L1550.5,2020.7 L1552.3,2019.9 L1554.2,2019.1 L1556.0,2018.3 L1557.8,2017.5 L1559.7,2016.7 L1561.5,2015.8 L1563.3,2015.0 L1565.2,2014.2 L1567.0,2013.4 L1568.8,2012.5 L1570.7,2011.7 L1572.5,2010.9 L1574.3,2010.0 L1576.1,2009.2 L1578.0,2008.3 L1579.8,2007.5 L1581.6,2006.7 L1583.4,2005.8 L1585.3,2005.0 L1587.1,2004.1 L1588.9,2003.3 L1590.7,2002.5 L1592.6,2001.7 L1594.4,2000.9 L1596.2,2000.1 L1598.0,1999.3 L1599.9,1998.5 L1601.7,1997.7 L1603.5,1996.9 L1605.3,1996.1 L1607.1,1995.3 L1609.0,1994.6 L1610.8,1993.8 L1612.6,1993.0 L1614.4,1992.2 L1616.2,1991.4 L1618.0,1990.6 L1619.9,1989.8 L1621.7,1988.9 L1623.5,1988.0 L1625.3,1987.1 L1627.1,1986.2 L1628.9,1985.3 L1630.7,1984.4 L1632.6,1983.5 L1634.4,1982.6 L1636.2,1981.8 L1638.0,1980.9 L1639.8,1980.0 L1641.6,1979.2 L1643.4,1978.3 L1645.2,1977.4 L1647.0,1976.6 L1648.8,1975.7 L1650.6,1974.8 L1652.5,1974.0 L1654.3,1973.1 L1656.1,1972.2 L1657.9,1971.3 L1659.7,1970.5 L1661.5,1969.6 L1663.3,1968.7 L1665.1,1967.9 L1666.9,1967.0 L1668.7,1966.1 L1670.5,1965.2 L1672.3,1964.4 L1674.1,1963.5 L1675.9,1962.6 L1677.7,1961.7 L1679.5,1960.8 L1681.3,1960.0 L1683.1,1959.1 L1684.9,1958.2 L1686.7,1957.3 L1688.5,1956.4 L1690.3,1955.5 L1692.1,1954.6 L1693.8,1953.8 L1695.6,1952.9 L1697.4,1952.0 L1699.2,1951.1 L1701.0,1950.2 L1702.8,1949.3 L1704.6,1948.4 L1706.4,1947.5 L1708.2,1946.6 L1710.0,1945.7 L1711.8,1944.8 L1713.5,1943.9 L1715.3,1943.0 L1717.1,1942.1 L1718.9,1941.2 L1720.7,1940.3 L1722.5,1939.4 L1724.3,1938.5 L1726.0,1937.6 L1727.8,1936.7 L1729.6,1935.8 L1731.4,1934.9 L1733.2,1934.0 L1735.0,1933.1 L1736.7,1932.2 L1738.5,1931.2 L1740.3,1930.3 L1742.1,1929.4 L1743.9,1928.5 L1745.6,1927.6 L1747.4,1926.7 L1749.2,1925.7 L1751.0,1924.8 L1752.7,1923.9 L1754.5,1923.0 L1756.3,1922.1 L1758.1,1921.1 L1759.8,1920.2 L1761.6,1919.3 L1763.4,1918.3 L1765.2,1917.4 L1766.9,1916.5 L1768.7,1915.6 L1770.5,1914.6 L1772.2,1913.7 L1774.0,1912.8 L1775.8,1911.8 L1777.6,1910.9 L1779.3,1909.9 L1781.1,1909.0 L1782.9,1908.1 L1784.6,1907.1 L1786.4,1906.2 L1788.2,1905.2 L1789.9,1904.3 L1791.7,1903.4 L1793.4,1902.4 L1795.2,1901.5 L1797.0,1900.5 L1798.7,1899.6 L1800.5,1898.6 L1802.3,1897.7 L1804.0,1896.7 L1805.8,1895.8 L1807.5,1894.8 L1809.3,1893.8 L1811.1,1892.9 L1812.8,1891.9 L1814.6,1891.0 L1816.3,1890.0 L1818.1,1889.1 L1819.8,1888.1 L1821.6,1887.1 L1823.3,1886.2 L1825.1,1885.2 L1826.8,1884.2 L1828.6,1883.3 L1830.3,1882.3 L1832.1,1881.3 L1833.9,1880.4 L1835.6,1879.4" stroke="#5B9BD5" stroke-width="9.05" fill="none" stroke-linecap="butt" stroke-dasharray="34.30 31.56" stroke-dashoffset="63.10"/>
<path d="M268.4,2337.5 L269.0,2335.4 L269.6,2333.3 L270.4,2331.3 L271.2,2329.4 L272.1,2327.6 L273.0,2325.8 L274.0,2324.1 L275.1,2322.5 L276.3,2321.0 L277.5,2319.5 L278.7,2318.1 L280.1,2316.7 L281.4,2315.4 L282.9,2314.2 L284.3,2313.0 L285.8,2311.9 L287.4,2310.8 L289.0,2309.8 L290.6,2308.8 L292.3,2307.9 L293.9,2307.0 L295.7,2306.1 L297.4,2305.3 L299.2,2304.6 L301.0,2303.8 L302.8,2303.2 L304.6,2302.5 L306.5,2301.9 L308.3,2301.3 L310.2,2300.7 L312.1,2300.2 L314.0,2299.7 L316.0,2299.2 L317.9,2298.7 L319.9,2298.3 L321.9,2297.9 L323.9,2297.5 L325.9,2297.1 L327.9,2296.7 L329.9,2296.4 L331.9,2296.1 L333.9,2295.7 L336.0,2295.4 L338.0,2295.1 L340.0,2294.9 L342.1,2294.6 L344.1,2294.3 L346.2,2294.1 L348.2,2293.8 L350.2,2293.5 L352.3,2293.3 L354.3,2293.0 L356.3,2292.8 L358.4,2292.5 L360.4,2292.3 L362.4,2292.0 L364.5,2291.8 L366.5,2291.6 L368.5,2291.3 L370.5,2291.1 L372.6,2290.9 L374.6,2290.6 L376.6,2290.4 L378.6,2290.2 L380.6,2290.0 L382.6,2289.7 L384.7,2289.5 L386.7,2289.3 L388.7,2289.1 L390.7,2288.9 L392.7,2288.7 L394.7,2288.5 L396.7,2288.3 L398.7,2288.1 L400.7,2287.9 L402.7,2287.7 L404.7,2287.5 L406.7,2287.3 L408.7,2287.1 L410.7,2286.9 L412.7,2286.7 L414.7,2286.5 L416.7,2286.3 L418.7,2286.1 L420.7,2285.9 L422.7,2285.7 L424.7,2285.6 L426.7,2285.4 L428.6,2285.2 L430.6,2285.0 L432.6,2284.8 L434.6,2284.6 L436.6,2284.5 L438.6,2284.3 L440.6,2284.1 L442.5,2283.9 L444.5,2283.7 L446.5,2283.5 L448.5,2283.4 L450.5,2283.2 L452.5,2283.0 L454.4,2282.8 L456.4,2282.6 L458.4,2282.5 L460.4,2282.3 L462.3,2282.1 L464.3,2281.9 L466.3,2281.7 L468.3,2281.6 L470.3,2281.4 L472.2,2281.2 L474.2,2281.0 L476.2,2280.8 L478.2,2280.6 L480.1,2280.5 L482.1,2280.3 L484.1,2280.1 L486.0,2279.9 L488.0,2279.7 L490.0,2279.5 L492.0,2279.3 L493.9,2279.2 L495.9,2279.0 L497.9,2278.8 L499.8,2278.6 L501.8,2278.4 L503.8,2278.2 L505.7,2278.0 L507.7,2277.8 L509.7,2277.6 L511.7,2277.4 L513.6,2277.3 L515.6,2277.1 L517.6,2276.9 L519.5,2276.7 L521.5,2276.5 L523.5,2276.4 L525.4,2276.2 L527.4,2276.0 L529.4,2275.8 L531.4,2275.6 L533.3,2275.4 L535.3,2275.2 L537.3,2275.0 L539.2,2274.8 L541.2,2274.6 L543.2,2274.4 L545.1,2274.2 L547.1,2274.0 L549.1,2273.8 L551.1,2273.6 L553.0,2273.4 L555.0,2273.1 L557.0,2272.9 L558.9,2272.7 L560.9,2272.5 L562.9,2272.3 L564.9,2272.0 L566.8,2271.8 L568.8,2271.6 L570.8,2271.3 L572.8,2271.1 L574.7,2270.9 L576.7,2270.6 L578.7,2270.4 L580.7,2270.1 L582.7,2269.9 L584.6,2269.6 L586.6,2269.4 L588.6,2269.1 L590.6,2268.9 L592.6,2268.6 L594.5,2268.4 L596.5,2268.1 L598.5,2267.8 L600.5,2267.6 L602.5,2267.3 L604.4,2267.0 L606.4,2266.8 L608.4,2266.5 L610.4,2266.2 L612.4,2266.0 L614.3,2265.7 L616.3,2265.4 L618.3,2265.2 L620.3,2264.9 L622.3,2264.6 L624.3,2264.4 L626.2,2264.1 L628.2,2263.8 L630.2,2263.6 L632.2,2263.3 L634.2,2263.0 L636.2,2262.7 L638.1,2262.5 L640.1,2262.2 L642.1,2261.9 L644.1,2261.6 L646.1,2261.4 L648.1,2261.1 L650.1,2260.8 L652.0,2260.5 L654.0,2260.2 L656.0,2259.9 L658.0,2259.6 L660.0,2259.4 L662.0,2259.1 L664.0,2258.8 L665.9,2258.5 L667.9,2258.2 L669.9,2257.9 L671.9,2257.6 L673.9,2257.3 L675.9,2257.0 L677.9,2256.7 L679.8,2256.5 L681.8,2256.2 L683.8,2255.9 L685.8,2255.6 L687.8,2255.3 L689.8,2255.1 L691.8,2254.8 L693.7,2254.5 L695.7,2254.2 L697.7,2253.9 L699.7,2253.7 L701.7,2253.4 L703.7,2253.1 L705.6,2252.8 L707.6,2252.6 L709.6,2252.3 L711.6,2252.0 L713.6,2251.7 L715.6,2251.5 L717.6,2251.2 L719.5,2250.9 L721.5,2250.6 L723.5,2250.3 L725.5,2250.1 L727.5,2249.8 L729.5,2249.5 L731.4,2249.2 L733.4,2248.9 L735.4,2248.6 L737.4,2248.4 L739.4,2248.1 L741.4,2247.8 L743.3,2247.5 L745.3,2247.2 L747.3,2247.0 L749.3,2246.7 L751.3,2246.4 L753.3,2246.1 L755.2,2245.8 L757.2,2245.5 L759.2,2245.2 L761.2,2244.9 L763.2,2244.6 L765.1,2244.3 L767.1,2244.0 L769.1,2243.7 L771.1,2243.4 L773.1,2243.1 L775.1,2242.8 L777.0,2242.4 L779.0,2242.1 L781.0,2241.8 L783.0,2241.5 L785.0,2241.2 L786.9,2240.9 L788.9,2240.6 L790.9,2240.3 L792.9,2240.0 L794.9,2239.6 L796.8,2239.3 L798.8,2239.0 L800.8,2238.7 L802.8,2238.4 L804.8,2238.1 L806.7,2237.8 L808.7,2237.4 L810.7,2237.1 L812.7,2236.8 L814.6,2236.5 L816.6,2236.2 L818.6,2235.8 L820.6,2235.5 L822.5,2235.2 L824.5,2234.9 L826.5,2234.5 L828.5,2234.2 L830.5,2233.9 L832.4,2233.5 L834.4,2233.2 L836.4,2232.8 L838.4,2232.5 L840.3,2232.2 L842.3,2231.8 L844.3,2231.5 L846.3,2231.1 L848.2,2230.8 L850.2,2230.4 L852.2,2230.1 L854.1,2229.7 L856.1,2229.4 L858.1,2229.0 L860.1,2228.7 L862.0,2228.3 L864.0,2228.0 L866.0,2227.6 L868.0,2227.2 L869.9,2226.9 L871.9,2226.5 L873.9,2226.2 L875.8,2225.8 L877.8,2225.4 L879.8,2225.1 L881.8,2224.7 L883.7,2224.3 L885.7,2223.9 L887.7,2223.6 L889.6,2223.2 L891.6,2222.8 L893.6,2222.4 L895.5,2222.1 L897.5,2221.7 L899.5,2221.3 L901.4,2220.9 L903.4,2220.5 L905.4,2220.1 L907.3,2219.8 L909.3,2219.4 L911.3,2219.0 L913.2,2218.6 L915.2,2218.2 L917.2,2217.8 L919.1,2217.4 L921.1,2217.0 L923.1,2216.6 L925.0,2216.2 L927.0,2215.8 L929.0,2215.4 L930.9,2215.0 L932.9,2214.6 L934.9,2214.2 L936.8,2213.8 L938.8,2213.4 L940.8,2213.0 L942.7,2212.6 L944.7,2212.2 L946.6,2211.7 L948.6,2211.3 L950.6,2210.9 L952.5,2210.5 L954.5,2210.1 L956.4,2209.7 L958.4,2209.2 L960.4,2208.8 L962.3,2208.4 L964.3,2208.0 L966.2,2207.6 L968.2,2207.1 L970.2,2206.7 L972.1,2206.3 L974.1,2205.9 L976.0,2205.5 L978.0,2205.0 L980.0,2204.6 L981.9,2204.2 L983.9,2203.8 L985.8,2203.4 L987.8,2203.0 L989.7,2202.7 L991.7,2202.3 L993.7,2201.9 L995.6,2201.6 L997.6,2201.2 L999.5,2200.8 L1001.5,2200.5 L1003.4,2200.1 L1005.4,2199.7 L1007.3,2199.3 L1009.3,2198.9 L1011.2,2198.5 L1013.2,2198.1 L1015.1,2197.7 L1017.1,2197.2 L1019.1,2196.8 L1021.0,2196.4 L1023.0,2195.9 L1024.9,2195.4 L1026.9,2195.0 L1028.8,2194.5 L1030.8,2194.0 L1032.7,2193.6 L1034.7,2193.1 L1036.6,2192.6 L1038.6,2192.1 L1040.5,2191.6 L1042.5,2191.1 L1044.4,2190.6 L1046.3,2190.1 L1048.3,2189.6 L1050.2,2189.1 L1052.2,2188.5 L1054.1,2188.0 L1056.1,2187.5 L1058.0,2187.0 L1060.0,2186.5 L1061.9,2186.0 L1063.9,2185.4 L1065.8,2184.9 L1067.8,2184.4 L1069.7,2183.9 L1071.6,2183.4 L1073.6,2182.9 L1075.5,2182.3 L1077.5,2181.8 L1079.4,2181.3 L1081.4,2180.8 L1083.3,2180.3 L1085.2,2179.8 L1087.2,2179.3 L1089.1,2178.8 L1091.1,2178.3 L1093.0,2177.8 L1094.9,2177.3 L1096.9,2176.8 L1098.8,2176.3 L1100.8,2175.8 L1102.7,2175.3 L1104.6,2174.8 L1106.6,2174.2 L1108.5,2173.7 L1110.4,2173.2 L1112.4,2172.7 L1114.3,2172.2 L1116.2,2171.6 L1118.2,2171.1 L1120.1,2170.6 L1122.1,2170.1 L1124.0,2169.5 L1125.9,2169.0 L1127.9,2168.5 L1129.8,2167.9 L1131.7,2167.4 L1133.7,2166.9 L1135.6,2166.3 L1137.5,2165.8 L1139.5,2165.2 L1141.4,2164.7 L1143.3,2164.1 L1145.2,2163.6 L1147.2,2163.1 L1149.1,2162.5 L1151.0,2162.0 L1153.0,2161.4 L1154.9,2160.9 L1156.8,2160.4 L1158.7,2159.8 L1160.7,2159.3 L1162.6,2158.8 L1164.5,2158.3 L1166.5,2157.8 L1168.4,2157.2 L1170.3,2156.7 L1172.2,2156.2 L1174.2,2155.7 L1176.1,2155.2 L1178.0,2154.7 L1179.9,2154.2 L1181.9,2153.7 L1183.8,2153.2 L1185.7,2152.7 L1187.6,2152.2 L1189.5,2151.7 L1191.5,2151.2 L1193.4,2150.7 L1195.3,2150.2 L1197.2,2149.6 L1199.2,2149.1 L1201.1,2148.6 L1203.0,2148.1 L1204.9,2147.5 L1206.8,2147.0 L1208.7,2146.4 L1210.7,2145.9 L1212.6,2145.3 L1214.5,2144.8 L1216.4,2144.2 L1218.3,2143.6 L1220.2,2143.0 L1222.2,2142.5 L1224.1,2141.9 L1226.0,2141.3 L1227.9,2140.7 L1229.8,2140.1 L1231.7,2139.4 L1233.6,2138.8 L1235.6,2138.2 L1237.5,2137.6 L1239.4,2137.0 L1241.3,2136.3 L1243.2,2135.7 L1245.1,2135.1 L1247.0,2134.4 L1248.9,2133.8 L1250.8,2133.2 L1252.8,2132.5 L1254.7,2131.9 L1256.6,2131.3 L1258.5,2130.6 L1260.4,2130.0 L1262.3,2129.4 L1264.2,2128.7 L1266.1,2128.1 L1268.0,2127.5 L1269.9,2126.8 L1271.8,2126.2 L1273.7,2125.6 L1275.6,2124.9 L1277.5,2124.3 L1279.4,2123.7 L1281.3,2123.1 L1283.2,2122.4 L1285.1,2121.8 L1287.0,2121.2 L1288.9,2120.5 L1290.8,2119.9 L1292.7,2119.3 L1294.6,2118.6 L1296.5,2118.0 L1298.4,2117.4 L1300.3,2116.7 L1302.2,2116.1 L1304.1,2115.4 L1306.0,2114.8 L1307.9,2114.2 L1309.8,2113.5 L1311.7,2112.9 L1313.6,2112.2 L1315.5,2111.6 L1317.4,2110.9 L1319.3,2110.3 L1321.2,2109.6 L1323.1,2109.0 L1325.0,2108.3 L1326.9,2107.7 L1328.8,2107.0 L1330.6,2106.4 L1332.5,2105.7 L1334.4,2105.1 L1336.3,2104.4 L1338.2,2103.8 L1340.1,2103.1 L1342.0,2102.5 L1343.9,2101.8 L1345.8,2101.2 L1347.6,2100.5 L1349.5,2099.9 L1351.4,2099.2 L1353.3,2098.5 L1355.2,2097.9 L1357.1,2097.2 L1359.0,2096.6 L1360.8,2095.9 L1362.7,2095.2 L1364.6,2094.6 L1366.5,2093.9 L1368.4,2093.2 L1370.2,2092.6 L1372.1,2091.9 L1374.0,2091.2 L1375.9,2090.6 L1377.8,2089.9 L1379.6,2089.2 L1381.5,2088.6 L1383.4,2087.9 L1385.3,2087.3 L1387.2,2086.6 L1389.0,2085.9 L1390.9,2085.3 L1392.8,2084.6 L1394.7,2083.9 L1396.5,2083.3 L1398.4,2082.6 L1400.3,2081.9 L1402.2,2081.2 L1404.0,2080.6 L1405.9,2079.9 L1407.8,2079.1 L1409.7,2078.4 L1411.5,2077.7 L1413.4,2077.0 L1415.3,2076.3 L1417.1,2075.6 L1419.0,2074.8 L1420.9,2074.1 L1422.7,2073.4 L1424.6,2072.6 L1426.5,2071.9 L1428.3,2071.1 L1430.2,2070.3 L1432.1,2069.5 L1433.9,2068.7 L1435.8,2068.0 L1437.7,2067.2 L1439.5,2066.4 L1441.4,2065.6 L1443.3,2064.8 L1445.1,2064.0 L1447.0,2063.3 L1448.9,2062.5 L1450.7,2061.7 L1452.6,2061.0 L1454.4,2060.3 L1456.3,2059.5 L1458.2,2058.8 L1460.0,2058.1 L1461.9,2057.4 L1463.7,2056.7 L1465.6,2056.0 L1467.4,2055.3 L1469.3,2054.6 L1471.2,2053.8 L1473.0,2053.1 L1474.9,2052.4 L1476.7,2051.7 L1478.6,2050.9 L1480.4,2050.2 L1482.3,2049.4 L1484.1,2048.7 L1486.0,2047.9 L1487.8,2047.2 L1489.7,2046.4 L1491.5,2045.7 L1493.4,2044.9 L1495.2,2044.1 L1497.1,2043.4 L1498.9,2042.6 L1500.8,2041.8 L1502.6,2041.0 L1504.5,2040.3 L1506.3,2039.5 L1508.2,2038.7 L1510.0,2037.9 L1511.9,2037.2 L1513.7,2036.4 L1515.6,2035.6 L1517.4,2034.8 L1519.2,2034.0 L1521.1,2033.3 L1522.9,2032.5 L1524.8,2031.7 L1526.6,2030.9 L1528.5,2030.1 L1530.3,2029.3 L1532.1,2028.5 L1534.0,2027.8 L1535.8,2027.0 L1537.6,2026.2 L1539.5,2025.4 L1541.3,2024.6 L1543.2,2023.8 L1545.0,2023.0 L1546.8,2022.2 L1548.7,2021.4 L1550.5,2020.7 L1552.3,2019.9 L1554.2,2019.1 L1556.0,2018.3 L1557.8,2017.5 L1559.7,2016.7 L1561.5,2015.8 L1563.3,2015.0 L1565.2,2014.2 L1567.0,2013.4 L1568.8,2012.5 L1570.7,2011.7 L1572.5,2010.9 L1574.3,2010.0 L1576.1,2009.2 L1578.0,2008.3 L1579.8,2007.5 L1581.6,2006.7 L1583.4,2005.8 L1585.3,2005.0 L1587.1,2004.1 L1588.9,2003.3 L1590.7,2002.5 L1592.6,2001.7 L1594.4,2000.9 L1596.2,2000.1 L1598.0,1999.3 L1599.9,1998.5 L1601.7,1997.7 L1603.5,1996.9 L1605.3,1996.1 L1607.1,1995.3 L1609.0,1994.6 L1610.8,1993.8 L1612.6,1993.0 L1614.4,1992.2 L1616.2,1991.4 L1618.0,1990.6 L1619.9,1989.8 L1621.7,1988.9 L1623.5,1988.0 L1625.3,1987.1 L1627.1,1986.2 L1628.9,1985.3 L1630.7,1984.4 L1632.6,1983.5 L1634.4,1982.6 L1636.2,1981.8 L1638.0,1980.9 L1639.8,1980.0 L1641.6,1979.2 L1643.4,1978.3 L1645.2,1977.4 L1647.0,1976.6 L1648.8,1975.7 L1650.6,1974.8 L1652.5,1974.0 L1654.3,1973.1 L1656.1,1972.2 L1657.9,1971.3 L1659.7,1970.5 L1661.5,1969.6 L1663.3,1968.7 L1665.1,1967.9 L1666.9,1967.0 L1668.7,1966.1 L1670.5,1965.2 L1672.3,1964.4 L1674.1,1963.5 L1675.9,1962.6 L1677.7,1961.7 L1679.5,1960.8 L1681.3,1960.0 L1683.1,1959.1 L1684.9,1958.2 L1686.7,1957.3 L1688.5,1956.4 L1690.3,1955.5 L1692.1,1954.6 L1693.8,1953.8 L1695.6,1952.9 L1697.4,1952.0 L1699.2,1951.1 L1701.0,1950.2 L1702.8,1949.3 L1704.6,1948.4 L1706.4,1947.5 L1708.2,1946.6 L1710.0,1945.7 L1711.8,1944.8 L1713.5,1943.9 L1715.3,1943.0 L1717.1,1942.1 L1718.9,1941.2 L1720.7,1940.3 L1722.5,1939.4 L1724.3,1938.5 L1726.0,1937.6 L1727.8,1936.7 L1729.6,1935.8 L1731.4,1934.9 L1733.2,1934.0 L1735.0,1933.1 L1736.7,1932.2 L1738.5,1931.2 L1740.3,1930.3 L1742.1,1929.4 L1743.9,1928.5 L1745.6,1927.6 L1747.4,1926.7 L1749.2,1925.7 L1751.0,1924.8 L1752.7,1923.9 L1754.5,1923.0 L1756.3,1922.1 L1758.1,1921.1 L1759.8,1920.2 L1761.6,1919.3 L1763.4,1918.3 L1765.2,1917.4 L1766.9,1916.5 L1768.7,1915.6 L1770.5,1914.6 L1772.2,1913.7 L1774.0,1912.8 L1775.8,1911.8 L1777.6,1910.9 L1779.3,1909.9 L1781.1,1909.0 L1782.9,1908.1 L1784.6,1907.1 L1786.4,1906.2 L1788.2,1905.2 L1789.9,1904.3 L1791.7,1903.4 L1793.4,1902.4 L1795.2,1901.5 L1797.0,1900.5 L1798.7,1899.6 L1800.5,1898.6 L1802.3,1897.7 L1804.0,1896.7 L1805.8,1895.8 L1807.5,1894.8 L1809.3,1893.8 L1811.1,1892.9 L1812.8,1891.9 L1814.6,1891.0 L1816.3,1890.0 L1818.1,1889.1 L1819.8,1888.1 L1821.6,1887.1 L1823.3,1886.2 L1825.1,1885.2 L1826.8,1884.2 L1828.6,1883.3 L1830.3,1882.3 L1832.1,1881.3 L1833.9,1880.4 L1835.6,1879.4" stroke="#5B9BD5" stroke-width="9.05" fill="none" stroke-linecap="round" stroke-dasharray="27.05 38.81" stroke-dashoffset="59.48"/>
</g>
<text transform="translate(204.30,2353.90) scale(0.9700,1)" font-family="'DejaVu Sans','Liberation Sans',sans-serif" font-weight="bold" font-size="57" text-anchor="end" letter-spacing="-0.8" stroke="#fff" stroke-width="1.5" stroke-linejoin="round">0</text>
<text transform="translate(204.30,2220.30) scale(0.9700,1)" font-family="'DejaVu Sans','Liberation Sans',sans-serif" font-weight="bold" font-size="57" text-anchor="end" letter-spacing="-0.8" stroke="#fff" stroke-width="1.5" stroke-linejoin="round">5</text>
<text transform="translate(204.30,2086.80) scale(0.9700,1)" font-family="'DejaVu Sans','Liberation Sans',sans-serif" font-weight="bold" font-size="57" text-anchor="end" letter-spacing="-0.8" stroke="#fff" stroke-width="1.5" stroke-linejoin="round">10</text>
<text transform="translate(204.30,1953.20) scale(0.9700,1)" font-family="'DejaVu Sans','Liberation Sans',sans-serif" font-weight="bold" font-size="57" text-anchor="end" letter-spacing="-0.8" stroke="#fff" stroke-width="1.5" stroke-linejoin="round">15</text>
<text transform="translate(204.30,1819.60) scale(0.9700,1)" font-family="'DejaVu Sans','Liberation Sans',sans-serif" font-weight="bold" font-size="57" text-anchor="end" letter-spacing="-0.8" stroke="#fff" stroke-width="1.5" stroke-linejoin="round">20</text>
<text transform="translate(204.30,1686.10) scale(0.9700,1)" font-family="'DejaVu Sans','Liberation Sans',sans-serif" font-weight="bold" font-size="57" text-anchor="end" letter-spacing="-0.8" stroke="#fff" stroke-width="1.5" stroke-linejoin="round">25</text>
<text transform="translate(204.30,1552.50) scale(0.9700,1)" font-family="'DejaVu Sans','Liberation Sans',sans-serif" font-weight="bold" font-size="57" text-anchor="end" letter-spacing="-0.8" stroke="#fff" stroke-width="1.5" stroke-linejoin="round">30</text>
<text transform="translate(266.50,2442.80) scale(0.9700,1)" font-family="'DejaVu Sans','Liberation Sans',sans-serif" font-weight="bold" font-size="57" text-anchor="middle" letter-spacing="-0.8" stroke="#fff" stroke-width="1.5" stroke-linejoin="round">0</text>
<text transform="translate(425.50,2442.80) scale(0.9700,1)" font-family="'DejaVu Sans','Liberation Sans',sans-serif" font-weight="bold" font-size="57" text-anchor="middle" letter-spacing="-0.8" stroke="#fff" stroke-width="1.5" stroke-linejoin="round">1</text>
<text transform="translate(584.40,2442.80) scale(0.9700,1)" font-family="'DejaVu Sans','Liberation Sans',sans-serif" font-weight="bold" font-size="57" text-anchor="middle" letter-spacing="-0.8" stroke="#fff" stroke-width="1.5" stroke-linejoin="round">2</text>
<text transform="translate(743.40,2442.80) scale(0.9700,1)" font-family="'DejaVu Sans','Liberation Sans',sans-serif" font-weight="bold" font-size="57" text-anchor="middle" letter-spacing="-0.8" stroke="#fff" stroke-width="1.5" stroke-linejoin="round">3</text>
<text transform="translate(902.40,2442.80) scale(0.9700,1)" font-family="'DejaVu Sans','Liberation Sans',sans-serif" font-weight="bold" font-size="57" text-anchor="middle" letter-spacing="-0.8" stroke="#fff" stroke-width="1.5" stroke-linejoin="round">4</text>
<text transform="translate(1061.30,2442.80) scale(0.9700,1)" font-family="'DejaVu Sans','Liberation Sans',sans-serif" font-weight="bold" font-size="57" text-anchor="middle" letter-spacing="-0.8" stroke="#fff" stroke-width="1.5" stroke-linejoin="round">5</text>
<text transform="translate(1220.30,2442.80) scale(0.9700,1)" font-family="'DejaVu Sans','Liberation Sans',sans-serif" font-weight="bold" font-size="57" text-anchor="middle" letter-spacing="-0.8" stroke="#fff" stroke-width="1.5" stroke-linejoin="round">6</text>
<text transform="translate(1379.20,2442.80) scale(0.9700,1)" font-family="'DejaVu Sans','Liberation Sans',sans-serif" font-weight="bold" font-size="57" text-anchor="middle" letter-spacing="-0.8" stroke="#fff" stroke-width="1.5" stroke-linejoin="round">7</text>
<text transform="translate(1538.20,2442.80) scale(0.9700,1)" font-family="'DejaVu Sans','Liberation Sans',sans-serif" font-weight="bold" font-size="57" text-anchor="middle" letter-spacing="-0.8" stroke="#fff" stroke-width="1.5" stroke-linejoin="round">8</text>
<text transform="translate(1697.20,2442.80) scale(0.9700,1)" font-family="'DejaVu Sans','Liberation Sans',sans-serif" font-weight="bold" font-size="57" text-anchor="middle" letter-spacing="-0.8" stroke="#fff" stroke-width="1.5" stroke-linejoin="round">9</text>
<text transform="translate(1856.10,2442.80) scale(0.9700,1)" font-family="'DejaVu Sans','Liberation Sans',sans-serif" font-weight="bold" font-size="57" text-anchor="middle" letter-spacing="-0.8" stroke="#fff" stroke-width="1.5" stroke-linejoin="round">10</text>
<text transform="translate(2015.10,2442.80) scale(0.9700,1)" font-family="'DejaVu Sans','Liberation Sans',sans-serif" font-weight="bold" font-size="57" text-anchor="middle" letter-spacing="-0.8" stroke="#fff" stroke-width="1.5" stroke-linejoin="round">11</text>
<text transform="translate(0,2522.90)" font-family="'Liberation Serif','DejaVu Serif',serif" font-weight="bold" font-size="67" stroke="#fff" stroke-width="0.5" stroke-linejoin="round"><tspan x="932.89" textLength="178.19" lengthAdjust="spacingAndGlyphs">Strain</tspan> <tspan x="1135.90" textLength="118.23" lengthAdjust="spacingAndGlyphs">[%]</tspan></text>
<text transform="translate(76.30,0) rotate(-90)" font-family="'Liberation Serif','DejaVu Serif',serif" font-weight="bold" font-size="67" stroke="#fff" stroke-width="0.5" stroke-linejoin="round"><tspan x="-2100.48" textLength="165.71" lengthAdjust="spacingAndGlyphs">Stress</tspan> <tspan x="-1908.21" textLength="184.02" lengthAdjust="spacingAndGlyphs">[MPa]</tspan></text>
</g>
</svg>
</body>
</html>
